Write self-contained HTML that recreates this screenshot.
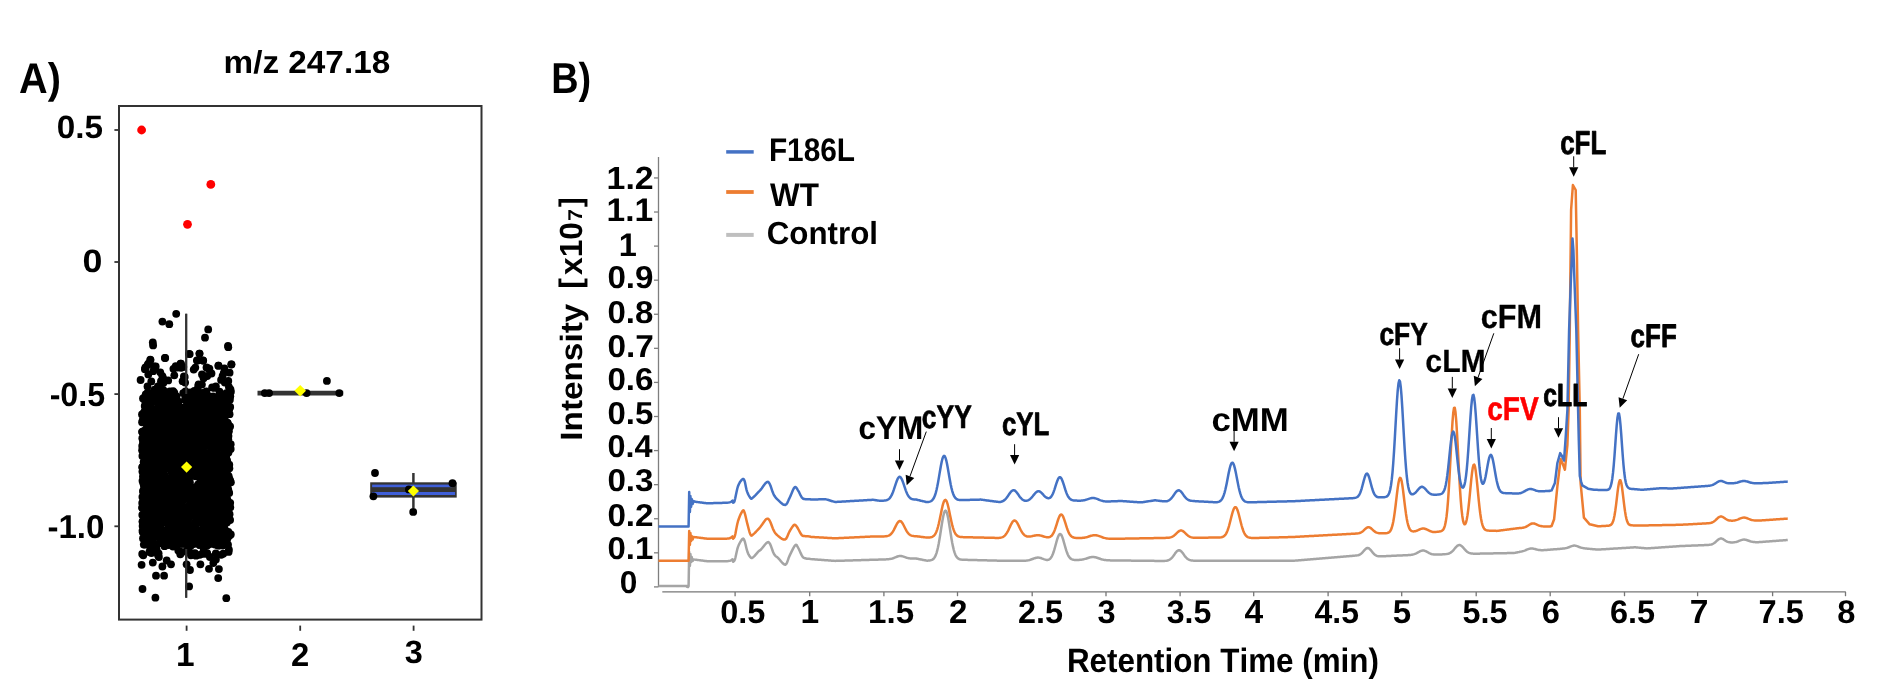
<!DOCTYPE html>
<html><head><meta charset="utf-8"><style>
html,body{margin:0;padding:0;background:#fff;width:1903px;height:694px;overflow:hidden}
svg{display:block;font-family:"Liberation Sans",sans-serif;font-weight:bold;font-kerning:none;-webkit-font-smoothing:antialiased;text-rendering:geometricPrecision;will-change:transform}
</style></head><body>
<svg width="1903" height="694" viewBox="0 0 1903 694">
<rect width="1903" height="694" fill="#fff"/>
<text x="0" y="0" transform="translate(19.01 92.50) scale(0.9284 1)" font-size="42.73" fill="#000">A)</text>
<text x="0" y="0" transform="translate(223.60 72.79) scale(1.0433 1)" font-size="31.92" fill="#000">m/z 247.18</text>
<rect x="119" y="106" width="362.5" height="513.6" fill="none" stroke="#333" stroke-width="2"/>
<line x1="114.4" y1="130.0" x2="119" y2="130.0" stroke="#333" stroke-width="1.8"/>
<line x1="114.4" y1="262.0" x2="119" y2="262.0" stroke="#333" stroke-width="1.8"/>
<line x1="114.4" y1="394.1" x2="119" y2="394.1" stroke="#333" stroke-width="1.8"/>
<line x1="114.4" y1="526.3" x2="119" y2="526.3" stroke="#333" stroke-width="1.8"/>
<line x1="186.6" y1="625.6" x2="186.6" y2="630.8" stroke="#333" stroke-width="1.8"/>
<line x1="300.2" y1="625.6" x2="300.2" y2="630.8" stroke="#333" stroke-width="1.8"/>
<line x1="413.6" y1="625.6" x2="413.6" y2="630.8" stroke="#333" stroke-width="1.8"/>
<text x="0" y="0" transform="translate(56.68 138.49) scale(1.0329 1)" font-size="32.20" fill="#000">0.5</text>
<text x="0" y="0" transform="translate(82.59 272.49) scale(1.1100 1)" font-size="32.20" fill="#000">0</text>
<text x="0" y="0" transform="translate(49.64 405.67) scale(0.9573 1)" font-size="33.62" fill="#000">-0.5</text>
<text x="0" y="0" transform="translate(47.41 537.88) scale(0.9999 1)" font-size="33.05" fill="#000">-1.0</text>
<text x="0" y="0" transform="translate(176.12 666.00) scale(1.0000 1)" font-size="33.43" fill="#000">1</text>
<text x="0" y="0" transform="translate(291.07 665.80) scale(1.0000 1)" font-size="32.80" fill="#000">2</text>
<text x="0" y="0" transform="translate(404.70 662.64) scale(1.0000 1)" font-size="32.42" fill="#000">3</text>
<circle cx="141.6" cy="130.0" r="4.4" fill="#FF0000"/>
<circle cx="210.8" cy="184.4" r="4.4" fill="#FF0000"/>
<circle cx="187.5" cy="224.3" r="4.4" fill="#FF0000"/>
<line x1="186.2" y1="313.8" x2="186.2" y2="597.7" stroke="#333" stroke-width="2"/>
<circle cx="176.2" cy="313.8" r="3.9" fill="#000"/>
<circle cx="162.4" cy="321.6" r="3.9" fill="#000"/>
<circle cx="169.3" cy="324.2" r="3.9" fill="#000"/>
<circle cx="208.2" cy="329.4" r="3.9" fill="#000"/>
<circle cx="205.0" cy="337.7" r="3.9" fill="#000"/>
<circle cx="152.8" cy="342.4" r="3.9" fill="#000"/>
<circle cx="228.0" cy="345.8" r="3.9" fill="#000"/>
<circle cx="164.9" cy="357.9" r="3.9" fill="#000"/>
<circle cx="189.1" cy="353.9" r="3.9" fill="#000"/>
<circle cx="199.5" cy="353.6" r="3.9" fill="#000"/>
<circle cx="150.3" cy="359.6" r="3.9" fill="#000"/>
<circle cx="196.9" cy="360.5" r="3.9" fill="#000"/>
<circle cx="203.0" cy="360.5" r="3.9" fill="#000"/>
<circle cx="231.5" cy="364.3" r="3.9" fill="#000"/>
<circle cx="218.5" cy="365.7" r="3.9" fill="#000"/>
<circle cx="180.5" cy="363.6" r="3.9" fill="#000"/>
<circle cx="147.7" cy="364.8" r="3.9" fill="#000"/>
<circle cx="153.1" cy="345.4" r="3.9" fill="#000"/>
<circle cx="228.3" cy="347.2" r="3.9" fill="#000"/>
<circle cx="165.2" cy="358.0" r="3.9" fill="#000"/>
<circle cx="189.7" cy="354.1" r="3.9" fill="#000"/>
<circle cx="199.5" cy="353.6" r="3.9" fill="#000"/>
<circle cx="150.5" cy="360.1" r="3.9" fill="#000"/>
<circle cx="197.6" cy="360.6" r="3.9" fill="#000"/>
<circle cx="203.2" cy="360.6" r="3.9" fill="#000"/>
<circle cx="181.0" cy="363.6" r="3.9" fill="#000"/>
<circle cx="231.3" cy="364.5" r="3.9" fill="#000"/>
<circle cx="218.4" cy="365.7" r="3.9" fill="#000"/>
<circle cx="148.3" cy="363.6" r="3.9" fill="#000"/>
<circle cx="173.4" cy="368.8" r="3.9" fill="#000"/>
<circle cx="177.7" cy="367.5" r="3.9" fill="#000"/>
<circle cx="193.7" cy="369.6" r="3.9" fill="#000"/>
<circle cx="208.0" cy="368.3" r="3.9" fill="#000"/>
<circle cx="224.4" cy="368.3" r="3.9" fill="#000"/>
<circle cx="144.9" cy="369.2" r="3.9" fill="#000"/>
<circle cx="229.6" cy="372.7" r="3.9" fill="#000"/>
<circle cx="174.3" cy="375.3" r="3.9" fill="#000"/>
<circle cx="184.7" cy="377.0" r="3.9" fill="#000"/>
<circle cx="163.0" cy="377.9" r="3.9" fill="#000"/>
<circle cx="140.6" cy="380.0" r="3.9" fill="#000"/>
<circle cx="168.2" cy="380.4" r="3.9" fill="#000"/>
<circle cx="228.3" cy="380.9" r="3.9" fill="#000"/>
<circle cx="202.0" cy="374.4" r="3.9" fill="#000"/>
<circle cx="211.5" cy="373.5" r="3.9" fill="#000"/>
<circle cx="230.5" cy="389.5" r="3.9" fill="#000"/>
<circle cx="147.5" cy="386.5" r="3.9" fill="#000"/>
<circle cx="157.9" cy="386.5" r="3.9" fill="#000"/>
<circle cx="142.5" cy="589.0" r="3.9" fill="#000"/>
<circle cx="155.4" cy="597.7" r="3.9" fill="#000"/>
<circle cx="226.3" cy="598.2" r="3.9" fill="#000"/>
<circle cx="189.1" cy="586.4" r="3.9" fill="#000"/>
<circle cx="156.0" cy="575.7" r="3.9" fill="#000"/>
<circle cx="164.1" cy="575.7" r="3.9" fill="#000"/>
<circle cx="218.2" cy="578.1" r="3.9" fill="#000"/>
<circle cx="218.9" cy="569.1" r="3.9" fill="#000"/>
<circle cx="190.0" cy="570.0" r="3.9" fill="#000"/>
<circle cx="200.4" cy="564.3" r="3.9" fill="#000"/>
<circle cx="209.0" cy="568.8" r="3.9" fill="#000"/>
<circle cx="141.6" cy="564.8" r="3.9" fill="#000"/>
<circle cx="152.8" cy="562.6" r="3.9" fill="#000"/>
<circle cx="162.4" cy="566.5" r="3.9" fill="#000"/>
<circle cx="171.0" cy="564.3" r="3.9" fill="#000"/>
<circle cx="186.6" cy="564.3" r="3.9" fill="#000"/>
<circle cx="181.4" cy="552.7" r="3.9" fill="#000"/>
<circle cx="213.3" cy="563.1" r="3.9" fill="#000"/>
<circle cx="143.3" cy="555.3" r="3.9" fill="#000"/>
<circle cx="149.4" cy="551.9" r="3.9" fill="#000"/>
<circle cx="158.9" cy="557.0" r="3.9" fill="#000"/>
<circle cx="166.7" cy="560.5" r="3.9" fill="#000"/>
<circle cx="190.9" cy="555.3" r="3.9" fill="#000"/>
<circle cx="209.9" cy="557.0" r="3.9" fill="#000"/>
<circle cx="215.9" cy="559.6" r="3.9" fill="#000"/>
<circle cx="170.8" cy="414.4" r="3.9" fill="#000"/>
<circle cx="199.9" cy="402.2" r="3.9" fill="#000"/>
<circle cx="189.7" cy="447.7" r="3.9" fill="#000"/>
<circle cx="147.2" cy="469.7" r="3.9" fill="#000"/>
<circle cx="145.3" cy="458.2" r="3.9" fill="#000"/>
<circle cx="148.2" cy="405.1" r="3.9" fill="#000"/>
<circle cx="179.8" cy="519.2" r="3.9" fill="#000"/>
<circle cx="153.0" cy="425.6" r="3.9" fill="#000"/>
<circle cx="197.8" cy="537.9" r="3.9" fill="#000"/>
<circle cx="193.4" cy="452.5" r="3.9" fill="#000"/>
<circle cx="228.9" cy="398.2" r="3.9" fill="#000"/>
<circle cx="218.4" cy="435.9" r="3.9" fill="#000"/>
<circle cx="154.8" cy="409.3" r="3.9" fill="#000"/>
<circle cx="169.5" cy="517.5" r="3.9" fill="#000"/>
<circle cx="158.1" cy="481.1" r="3.9" fill="#000"/>
<circle cx="198.9" cy="448.7" r="3.9" fill="#000"/>
<circle cx="190.7" cy="400.7" r="3.9" fill="#000"/>
<circle cx="147.3" cy="422.9" r="3.9" fill="#000"/>
<circle cx="202.6" cy="457.3" r="3.9" fill="#000"/>
<circle cx="170.0" cy="481.8" r="3.9" fill="#000"/>
<circle cx="182.3" cy="437.5" r="3.9" fill="#000"/>
<circle cx="212.7" cy="499.3" r="3.9" fill="#000"/>
<circle cx="163.7" cy="480.0" r="3.9" fill="#000"/>
<circle cx="188.7" cy="526.6" r="3.9" fill="#000"/>
<circle cx="206.9" cy="435.6" r="3.9" fill="#000"/>
<circle cx="229.2" cy="409.3" r="3.9" fill="#000"/>
<circle cx="179.2" cy="508.4" r="3.9" fill="#000"/>
<circle cx="155.5" cy="466.8" r="3.9" fill="#000"/>
<circle cx="145.5" cy="494.6" r="3.9" fill="#000"/>
<circle cx="210.0" cy="479.8" r="3.9" fill="#000"/>
<circle cx="219.9" cy="439.6" r="3.9" fill="#000"/>
<circle cx="203.9" cy="483.1" r="3.9" fill="#000"/>
<circle cx="193.6" cy="461.7" r="3.9" fill="#000"/>
<circle cx="216.8" cy="537.4" r="3.9" fill="#000"/>
<circle cx="184.2" cy="493.9" r="3.9" fill="#000"/>
<circle cx="147.4" cy="499.7" r="3.9" fill="#000"/>
<circle cx="199.6" cy="544.9" r="3.9" fill="#000"/>
<circle cx="215.2" cy="435.1" r="3.9" fill="#000"/>
<circle cx="176.3" cy="494.6" r="3.9" fill="#000"/>
<circle cx="144.0" cy="462.6" r="3.9" fill="#000"/>
<circle cx="157.0" cy="409.1" r="3.9" fill="#000"/>
<circle cx="147.2" cy="510.1" r="3.9" fill="#000"/>
<circle cx="153.5" cy="429.4" r="3.9" fill="#000"/>
<circle cx="176.8" cy="526.1" r="3.9" fill="#000"/>
<circle cx="149.2" cy="460.6" r="3.9" fill="#000"/>
<circle cx="190.9" cy="527.9" r="3.9" fill="#000"/>
<circle cx="214.9" cy="524.9" r="3.9" fill="#000"/>
<circle cx="166.8" cy="455.4" r="3.9" fill="#000"/>
<circle cx="173.9" cy="528.0" r="3.9" fill="#000"/>
<circle cx="227.2" cy="414.4" r="3.9" fill="#000"/>
<circle cx="157.7" cy="427.0" r="3.9" fill="#000"/>
<circle cx="162.8" cy="466.2" r="3.9" fill="#000"/>
<circle cx="194.4" cy="431.7" r="3.9" fill="#000"/>
<circle cx="142.4" cy="455.9" r="3.9" fill="#000"/>
<circle cx="174.9" cy="478.8" r="3.9" fill="#000"/>
<circle cx="226.8" cy="498.0" r="3.9" fill="#000"/>
<circle cx="187.9" cy="486.7" r="3.9" fill="#000"/>
<circle cx="202.2" cy="399.4" r="3.9" fill="#000"/>
<circle cx="222.1" cy="511.9" r="3.9" fill="#000"/>
<circle cx="219.8" cy="514.7" r="3.9" fill="#000"/>
<circle cx="176.9" cy="452.8" r="3.9" fill="#000"/>
<circle cx="151.2" cy="489.3" r="3.9" fill="#000"/>
<circle cx="147.5" cy="401.4" r="3.9" fill="#000"/>
<circle cx="160.6" cy="416.2" r="3.9" fill="#000"/>
<circle cx="172.3" cy="399.1" r="3.9" fill="#000"/>
<circle cx="142.0" cy="414.4" r="3.9" fill="#000"/>
<circle cx="151.0" cy="447.4" r="3.9" fill="#000"/>
<circle cx="144.3" cy="526.5" r="3.9" fill="#000"/>
<circle cx="196.7" cy="414.0" r="3.9" fill="#000"/>
<circle cx="164.5" cy="444.8" r="3.9" fill="#000"/>
<circle cx="174.4" cy="410.0" r="3.9" fill="#000"/>
<circle cx="217.6" cy="544.9" r="3.9" fill="#000"/>
<circle cx="183.5" cy="466.0" r="3.9" fill="#000"/>
<circle cx="149.6" cy="406.8" r="3.9" fill="#000"/>
<circle cx="172.5" cy="432.0" r="3.9" fill="#000"/>
<circle cx="215.8" cy="416.0" r="3.9" fill="#000"/>
<circle cx="144.1" cy="538.4" r="3.9" fill="#000"/>
<circle cx="189.0" cy="413.7" r="3.9" fill="#000"/>
<circle cx="190.3" cy="395.2" r="3.9" fill="#000"/>
<circle cx="189.0" cy="542.7" r="3.9" fill="#000"/>
<circle cx="218.8" cy="498.9" r="3.9" fill="#000"/>
<circle cx="165.2" cy="447.8" r="3.9" fill="#000"/>
<circle cx="156.9" cy="510.7" r="3.9" fill="#000"/>
<circle cx="189.4" cy="511.8" r="3.9" fill="#000"/>
<circle cx="171.3" cy="425.6" r="3.9" fill="#000"/>
<circle cx="214.2" cy="543.7" r="3.9" fill="#000"/>
<circle cx="217.9" cy="515.9" r="3.9" fill="#000"/>
<circle cx="214.8" cy="505.7" r="3.9" fill="#000"/>
<circle cx="162.2" cy="471.2" r="3.9" fill="#000"/>
<circle cx="173.6" cy="395.5" r="3.9" fill="#000"/>
<circle cx="144.5" cy="434.3" r="3.9" fill="#000"/>
<circle cx="165.1" cy="498.3" r="3.9" fill="#000"/>
<circle cx="227.1" cy="460.3" r="3.9" fill="#000"/>
<circle cx="225.4" cy="544.1" r="3.9" fill="#000"/>
<circle cx="227.0" cy="447.5" r="3.9" fill="#000"/>
<circle cx="161.6" cy="426.2" r="3.9" fill="#000"/>
<circle cx="159.5" cy="422.7" r="3.9" fill="#000"/>
<circle cx="197.5" cy="530.5" r="3.9" fill="#000"/>
<circle cx="216.8" cy="465.3" r="3.9" fill="#000"/>
<circle cx="200.1" cy="514.9" r="3.9" fill="#000"/>
<circle cx="149.5" cy="493.4" r="3.9" fill="#000"/>
<circle cx="223.0" cy="512.3" r="3.9" fill="#000"/>
<circle cx="208.8" cy="465.1" r="3.9" fill="#000"/>
<circle cx="157.9" cy="513.3" r="3.9" fill="#000"/>
<circle cx="171.6" cy="515.1" r="3.9" fill="#000"/>
<circle cx="228.5" cy="452.4" r="3.9" fill="#000"/>
<circle cx="177.7" cy="537.8" r="3.9" fill="#000"/>
<circle cx="206.5" cy="417.4" r="3.9" fill="#000"/>
<circle cx="153.3" cy="414.4" r="3.9" fill="#000"/>
<circle cx="222.5" cy="516.0" r="3.9" fill="#000"/>
<circle cx="155.0" cy="519.1" r="3.9" fill="#000"/>
<circle cx="229.2" cy="492.9" r="3.9" fill="#000"/>
<circle cx="173.2" cy="476.0" r="3.9" fill="#000"/>
<circle cx="153.7" cy="393.2" r="3.9" fill="#000"/>
<circle cx="228.4" cy="491.7" r="3.9" fill="#000"/>
<circle cx="188.9" cy="535.7" r="3.9" fill="#000"/>
<circle cx="180.6" cy="526.1" r="3.9" fill="#000"/>
<circle cx="215.5" cy="423.7" r="3.9" fill="#000"/>
<circle cx="164.4" cy="436.4" r="3.9" fill="#000"/>
<circle cx="163.4" cy="481.9" r="3.9" fill="#000"/>
<circle cx="165.1" cy="455.9" r="3.9" fill="#000"/>
<circle cx="153.7" cy="532.1" r="3.9" fill="#000"/>
<circle cx="173.5" cy="462.0" r="3.9" fill="#000"/>
<circle cx="193.9" cy="531.2" r="3.9" fill="#000"/>
<circle cx="179.4" cy="533.2" r="3.9" fill="#000"/>
<circle cx="186.6" cy="473.4" r="3.9" fill="#000"/>
<circle cx="188.6" cy="393.9" r="3.9" fill="#000"/>
<circle cx="181.2" cy="419.4" r="3.9" fill="#000"/>
<circle cx="142.3" cy="514.9" r="3.9" fill="#000"/>
<circle cx="157.3" cy="464.4" r="3.9" fill="#000"/>
<circle cx="206.5" cy="477.3" r="3.9" fill="#000"/>
<circle cx="171.0" cy="471.3" r="3.9" fill="#000"/>
<circle cx="191.4" cy="512.6" r="3.9" fill="#000"/>
<circle cx="151.4" cy="477.8" r="3.9" fill="#000"/>
<circle cx="164.1" cy="433.9" r="3.9" fill="#000"/>
<circle cx="210.7" cy="469.7" r="3.9" fill="#000"/>
<circle cx="192.0" cy="508.8" r="3.9" fill="#000"/>
<circle cx="223.2" cy="459.7" r="3.9" fill="#000"/>
<circle cx="196.5" cy="469.4" r="3.9" fill="#000"/>
<circle cx="187.6" cy="498.4" r="3.9" fill="#000"/>
<circle cx="182.3" cy="473.7" r="3.9" fill="#000"/>
<circle cx="184.5" cy="536.9" r="3.9" fill="#000"/>
<circle cx="204.2" cy="526.9" r="3.9" fill="#000"/>
<circle cx="225.9" cy="431.2" r="3.9" fill="#000"/>
<circle cx="191.8" cy="537.2" r="3.9" fill="#000"/>
<circle cx="216.8" cy="412.3" r="3.9" fill="#000"/>
<circle cx="152.8" cy="459.5" r="3.9" fill="#000"/>
<circle cx="148.5" cy="428.3" r="3.9" fill="#000"/>
<circle cx="148.5" cy="494.8" r="3.9" fill="#000"/>
<circle cx="211.8" cy="530.0" r="3.9" fill="#000"/>
<circle cx="155.7" cy="502.0" r="3.9" fill="#000"/>
<circle cx="200.8" cy="413.2" r="3.9" fill="#000"/>
<circle cx="220.6" cy="541.0" r="3.9" fill="#000"/>
<circle cx="161.5" cy="538.6" r="3.9" fill="#000"/>
<circle cx="177.4" cy="466.5" r="3.9" fill="#000"/>
<circle cx="230.1" cy="520.0" r="3.9" fill="#000"/>
<circle cx="156.4" cy="457.9" r="3.9" fill="#000"/>
<circle cx="187.9" cy="443.6" r="3.9" fill="#000"/>
<circle cx="159.4" cy="440.4" r="3.9" fill="#000"/>
<circle cx="206.3" cy="394.0" r="3.9" fill="#000"/>
<circle cx="191.3" cy="459.3" r="3.9" fill="#000"/>
<circle cx="143.6" cy="442.4" r="3.9" fill="#000"/>
<circle cx="197.5" cy="470.4" r="3.9" fill="#000"/>
<circle cx="147.7" cy="543.7" r="3.9" fill="#000"/>
<circle cx="212.2" cy="541.6" r="3.9" fill="#000"/>
<circle cx="151.3" cy="432.2" r="3.9" fill="#000"/>
<circle cx="145.5" cy="511.7" r="3.9" fill="#000"/>
<circle cx="166.1" cy="411.1" r="3.9" fill="#000"/>
<circle cx="179.6" cy="532.3" r="3.9" fill="#000"/>
<circle cx="214.9" cy="431.1" r="3.9" fill="#000"/>
<circle cx="155.3" cy="533.5" r="3.9" fill="#000"/>
<circle cx="192.8" cy="499.6" r="3.9" fill="#000"/>
<circle cx="150.0" cy="399.9" r="3.9" fill="#000"/>
<circle cx="203.3" cy="456.9" r="3.9" fill="#000"/>
<circle cx="148.4" cy="536.4" r="3.9" fill="#000"/>
<circle cx="198.5" cy="515.3" r="3.9" fill="#000"/>
<circle cx="149.5" cy="523.7" r="3.9" fill="#000"/>
<circle cx="147.9" cy="524.7" r="3.9" fill="#000"/>
<circle cx="182.4" cy="443.6" r="3.9" fill="#000"/>
<circle cx="191.2" cy="534.6" r="3.9" fill="#000"/>
<circle cx="165.8" cy="411.0" r="3.9" fill="#000"/>
<circle cx="188.9" cy="428.0" r="3.9" fill="#000"/>
<circle cx="151.7" cy="416.0" r="3.9" fill="#000"/>
<circle cx="146.5" cy="422.3" r="3.9" fill="#000"/>
<circle cx="169.8" cy="438.3" r="3.9" fill="#000"/>
<circle cx="209.6" cy="435.9" r="3.9" fill="#000"/>
<circle cx="186.5" cy="418.6" r="3.9" fill="#000"/>
<circle cx="172.9" cy="393.8" r="3.9" fill="#000"/>
<circle cx="164.3" cy="393.4" r="3.9" fill="#000"/>
<circle cx="207.2" cy="476.4" r="3.9" fill="#000"/>
<circle cx="158.9" cy="464.6" r="3.9" fill="#000"/>
<circle cx="225.2" cy="407.5" r="3.9" fill="#000"/>
<circle cx="214.9" cy="458.0" r="3.9" fill="#000"/>
<circle cx="186.1" cy="520.4" r="3.9" fill="#000"/>
<circle cx="177.0" cy="469.5" r="3.9" fill="#000"/>
<circle cx="203.2" cy="543.3" r="3.9" fill="#000"/>
<circle cx="172.5" cy="520.0" r="3.9" fill="#000"/>
<circle cx="204.9" cy="489.6" r="3.9" fill="#000"/>
<circle cx="178.0" cy="444.9" r="3.9" fill="#000"/>
<circle cx="146.8" cy="411.1" r="3.9" fill="#000"/>
<circle cx="148.3" cy="505.8" r="3.9" fill="#000"/>
<circle cx="164.7" cy="416.3" r="3.9" fill="#000"/>
<circle cx="149.5" cy="521.4" r="3.9" fill="#000"/>
<circle cx="219.5" cy="494.9" r="3.9" fill="#000"/>
<circle cx="167.1" cy="428.5" r="3.9" fill="#000"/>
<circle cx="168.1" cy="462.2" r="3.9" fill="#000"/>
<circle cx="156.0" cy="460.1" r="3.9" fill="#000"/>
<circle cx="165.4" cy="540.1" r="3.9" fill="#000"/>
<circle cx="228.6" cy="475.8" r="3.9" fill="#000"/>
<circle cx="163.8" cy="540.7" r="3.9" fill="#000"/>
<circle cx="169.5" cy="446.3" r="3.9" fill="#000"/>
<circle cx="142.1" cy="450.2" r="3.9" fill="#000"/>
<circle cx="184.2" cy="468.9" r="3.9" fill="#000"/>
<circle cx="159.9" cy="469.2" r="3.9" fill="#000"/>
<circle cx="142.4" cy="431.9" r="3.9" fill="#000"/>
<circle cx="150.0" cy="452.9" r="3.9" fill="#000"/>
<circle cx="145.7" cy="394.5" r="3.9" fill="#000"/>
<circle cx="169.1" cy="427.1" r="3.9" fill="#000"/>
<circle cx="194.1" cy="473.0" r="3.9" fill="#000"/>
<circle cx="208.8" cy="492.9" r="3.9" fill="#000"/>
<circle cx="205.7" cy="527.3" r="3.9" fill="#000"/>
<circle cx="176.7" cy="441.6" r="3.9" fill="#000"/>
<circle cx="229.6" cy="414.2" r="3.9" fill="#000"/>
<circle cx="206.4" cy="490.7" r="3.9" fill="#000"/>
<circle cx="145.9" cy="520.5" r="3.9" fill="#000"/>
<circle cx="221.4" cy="488.2" r="3.9" fill="#000"/>
<circle cx="207.3" cy="516.9" r="3.9" fill="#000"/>
<circle cx="154.4" cy="472.2" r="3.9" fill="#000"/>
<circle cx="186.9" cy="520.4" r="3.9" fill="#000"/>
<circle cx="213.6" cy="519.1" r="3.9" fill="#000"/>
<circle cx="194.0" cy="529.4" r="3.9" fill="#000"/>
<circle cx="202.8" cy="498.5" r="3.9" fill="#000"/>
<circle cx="162.5" cy="395.8" r="3.9" fill="#000"/>
<circle cx="153.8" cy="446.9" r="3.9" fill="#000"/>
<circle cx="151.3" cy="520.6" r="3.9" fill="#000"/>
<circle cx="191.7" cy="488.3" r="3.9" fill="#000"/>
<circle cx="197.7" cy="496.5" r="3.9" fill="#000"/>
<circle cx="185.5" cy="391.5" r="3.9" fill="#000"/>
<circle cx="213.0" cy="507.0" r="3.9" fill="#000"/>
<circle cx="186.8" cy="474.0" r="3.9" fill="#000"/>
<circle cx="200.7" cy="401.2" r="3.9" fill="#000"/>
<circle cx="207.6" cy="430.1" r="3.9" fill="#000"/>
<circle cx="148.6" cy="432.2" r="3.9" fill="#000"/>
<circle cx="206.9" cy="422.8" r="3.9" fill="#000"/>
<circle cx="207.8" cy="542.2" r="3.9" fill="#000"/>
<circle cx="186.0" cy="450.3" r="3.9" fill="#000"/>
<circle cx="184.6" cy="497.0" r="3.9" fill="#000"/>
<circle cx="210.3" cy="486.6" r="3.9" fill="#000"/>
<circle cx="199.2" cy="403.0" r="3.9" fill="#000"/>
<circle cx="155.1" cy="430.4" r="3.9" fill="#000"/>
<circle cx="208.1" cy="438.2" r="3.9" fill="#000"/>
<circle cx="192.5" cy="392.9" r="3.9" fill="#000"/>
<circle cx="147.4" cy="432.7" r="3.9" fill="#000"/>
<circle cx="201.8" cy="498.3" r="3.9" fill="#000"/>
<circle cx="202.1" cy="436.1" r="3.9" fill="#000"/>
<circle cx="188.0" cy="463.0" r="3.9" fill="#000"/>
<circle cx="183.5" cy="409.4" r="3.9" fill="#000"/>
<circle cx="221.5" cy="421.9" r="3.9" fill="#000"/>
<circle cx="229.1" cy="536.1" r="3.9" fill="#000"/>
<circle cx="143.6" cy="462.1" r="3.9" fill="#000"/>
<circle cx="215.0" cy="541.1" r="3.9" fill="#000"/>
<circle cx="182.0" cy="432.6" r="3.9" fill="#000"/>
<circle cx="160.7" cy="537.6" r="3.9" fill="#000"/>
<circle cx="160.8" cy="481.1" r="3.9" fill="#000"/>
<circle cx="154.6" cy="472.2" r="3.9" fill="#000"/>
<circle cx="226.8" cy="411.6" r="3.9" fill="#000"/>
<circle cx="215.0" cy="469.9" r="3.9" fill="#000"/>
<circle cx="220.9" cy="500.0" r="3.9" fill="#000"/>
<circle cx="162.6" cy="530.1" r="3.9" fill="#000"/>
<circle cx="185.3" cy="394.8" r="3.9" fill="#000"/>
<circle cx="142.3" cy="467.2" r="3.9" fill="#000"/>
<circle cx="182.1" cy="437.8" r="3.9" fill="#000"/>
<circle cx="154.5" cy="444.3" r="3.9" fill="#000"/>
<circle cx="170.1" cy="521.2" r="3.9" fill="#000"/>
<circle cx="142.2" cy="507.4" r="3.9" fill="#000"/>
<circle cx="216.7" cy="409.6" r="3.9" fill="#000"/>
<circle cx="224.4" cy="501.5" r="3.9" fill="#000"/>
<circle cx="222.2" cy="435.9" r="3.9" fill="#000"/>
<circle cx="175.1" cy="451.9" r="3.9" fill="#000"/>
<circle cx="230.9" cy="482.3" r="3.9" fill="#000"/>
<circle cx="174.1" cy="457.3" r="3.9" fill="#000"/>
<circle cx="166.5" cy="398.5" r="3.9" fill="#000"/>
<circle cx="151.1" cy="520.4" r="3.9" fill="#000"/>
<circle cx="167.4" cy="536.0" r="3.9" fill="#000"/>
<circle cx="164.2" cy="432.2" r="3.9" fill="#000"/>
<circle cx="187.5" cy="420.4" r="3.9" fill="#000"/>
<circle cx="175.2" cy="539.2" r="3.9" fill="#000"/>
<circle cx="220.7" cy="516.9" r="3.9" fill="#000"/>
<circle cx="198.1" cy="532.6" r="3.9" fill="#000"/>
<circle cx="225.7" cy="476.1" r="3.9" fill="#000"/>
<circle cx="206.0" cy="398.7" r="3.9" fill="#000"/>
<circle cx="207.2" cy="460.9" r="3.9" fill="#000"/>
<circle cx="209.0" cy="490.9" r="3.9" fill="#000"/>
<circle cx="167.5" cy="398.6" r="3.9" fill="#000"/>
<circle cx="224.5" cy="410.7" r="3.9" fill="#000"/>
<circle cx="184.0" cy="444.3" r="3.9" fill="#000"/>
<circle cx="168.5" cy="505.6" r="3.9" fill="#000"/>
<circle cx="228.9" cy="431.3" r="3.9" fill="#000"/>
<circle cx="200.4" cy="437.6" r="3.9" fill="#000"/>
<circle cx="191.6" cy="452.1" r="3.9" fill="#000"/>
<circle cx="156.9" cy="416.1" r="3.9" fill="#000"/>
<circle cx="160.5" cy="531.4" r="3.9" fill="#000"/>
<circle cx="186.2" cy="425.1" r="3.9" fill="#000"/>
<circle cx="222.7" cy="545.5" r="3.9" fill="#000"/>
<circle cx="182.0" cy="412.6" r="3.9" fill="#000"/>
<circle cx="159.1" cy="405.1" r="3.9" fill="#000"/>
<circle cx="172.4" cy="405.1" r="3.9" fill="#000"/>
<circle cx="163.3" cy="431.0" r="3.9" fill="#000"/>
<circle cx="192.7" cy="528.5" r="3.9" fill="#000"/>
<circle cx="208.7" cy="455.0" r="3.9" fill="#000"/>
<circle cx="178.8" cy="472.2" r="3.9" fill="#000"/>
<circle cx="175.5" cy="443.4" r="3.9" fill="#000"/>
<circle cx="147.5" cy="434.0" r="3.9" fill="#000"/>
<circle cx="228.1" cy="410.5" r="3.9" fill="#000"/>
<circle cx="186.8" cy="488.6" r="3.9" fill="#000"/>
<circle cx="218.8" cy="424.5" r="3.9" fill="#000"/>
<circle cx="166.1" cy="429.5" r="3.9" fill="#000"/>
<circle cx="177.6" cy="460.1" r="3.9" fill="#000"/>
<circle cx="226.9" cy="522.5" r="3.9" fill="#000"/>
<circle cx="219.7" cy="394.4" r="3.9" fill="#000"/>
<circle cx="144.9" cy="501.0" r="3.9" fill="#000"/>
<circle cx="221.7" cy="464.4" r="3.9" fill="#000"/>
<circle cx="194.3" cy="391.0" r="3.9" fill="#000"/>
<circle cx="176.8" cy="534.7" r="3.9" fill="#000"/>
<circle cx="215.5" cy="523.6" r="3.9" fill="#000"/>
<circle cx="228.5" cy="429.5" r="3.9" fill="#000"/>
<circle cx="151.7" cy="414.9" r="3.9" fill="#000"/>
<circle cx="188.5" cy="496.7" r="3.9" fill="#000"/>
<circle cx="225.8" cy="502.9" r="3.9" fill="#000"/>
<circle cx="199.6" cy="509.5" r="3.9" fill="#000"/>
<circle cx="182.7" cy="476.5" r="3.9" fill="#000"/>
<circle cx="145.5" cy="512.3" r="3.9" fill="#000"/>
<circle cx="162.7" cy="533.6" r="3.9" fill="#000"/>
<circle cx="199.5" cy="438.1" r="3.9" fill="#000"/>
<circle cx="153.4" cy="430.0" r="3.9" fill="#000"/>
<circle cx="198.6" cy="499.3" r="3.9" fill="#000"/>
<circle cx="152.0" cy="401.9" r="3.9" fill="#000"/>
<circle cx="188.7" cy="481.3" r="3.9" fill="#000"/>
<circle cx="176.5" cy="425.7" r="3.9" fill="#000"/>
<circle cx="195.5" cy="392.6" r="3.9" fill="#000"/>
<circle cx="168.8" cy="462.4" r="3.9" fill="#000"/>
<circle cx="227.3" cy="490.9" r="3.9" fill="#000"/>
<circle cx="220.7" cy="464.7" r="3.9" fill="#000"/>
<circle cx="162.9" cy="429.3" r="3.9" fill="#000"/>
<circle cx="227.5" cy="500.2" r="3.9" fill="#000"/>
<circle cx="169.4" cy="394.4" r="3.9" fill="#000"/>
<circle cx="186.3" cy="495.5" r="3.9" fill="#000"/>
<circle cx="179.4" cy="430.9" r="3.9" fill="#000"/>
<circle cx="201.4" cy="534.4" r="3.9" fill="#000"/>
<circle cx="162.2" cy="396.3" r="3.9" fill="#000"/>
<circle cx="172.1" cy="456.2" r="3.9" fill="#000"/>
<circle cx="202.7" cy="421.7" r="3.9" fill="#000"/>
<circle cx="212.9" cy="505.6" r="3.9" fill="#000"/>
<circle cx="186.9" cy="422.8" r="3.9" fill="#000"/>
<circle cx="228.3" cy="439.3" r="3.9" fill="#000"/>
<circle cx="215.0" cy="426.8" r="3.9" fill="#000"/>
<circle cx="161.7" cy="508.9" r="3.9" fill="#000"/>
<circle cx="168.2" cy="538.5" r="3.9" fill="#000"/>
<circle cx="186.1" cy="420.0" r="3.9" fill="#000"/>
<circle cx="161.9" cy="455.6" r="3.9" fill="#000"/>
<circle cx="201.2" cy="538.1" r="3.9" fill="#000"/>
<circle cx="155.0" cy="452.0" r="3.9" fill="#000"/>
<circle cx="161.0" cy="542.0" r="3.9" fill="#000"/>
<circle cx="154.6" cy="399.0" r="3.9" fill="#000"/>
<circle cx="147.4" cy="452.0" r="3.9" fill="#000"/>
<circle cx="221.9" cy="528.0" r="3.9" fill="#000"/>
<circle cx="207.2" cy="545.6" r="3.9" fill="#000"/>
<circle cx="224.9" cy="442.0" r="3.9" fill="#000"/>
<circle cx="158.5" cy="536.1" r="3.9" fill="#000"/>
<circle cx="208.4" cy="395.9" r="3.9" fill="#000"/>
<circle cx="201.1" cy="449.7" r="3.9" fill="#000"/>
<circle cx="175.3" cy="442.4" r="3.9" fill="#000"/>
<circle cx="157.1" cy="391.4" r="3.9" fill="#000"/>
<circle cx="166.9" cy="445.5" r="3.9" fill="#000"/>
<circle cx="227.0" cy="410.2" r="3.9" fill="#000"/>
<circle cx="227.8" cy="423.1" r="3.9" fill="#000"/>
<circle cx="173.7" cy="518.3" r="3.9" fill="#000"/>
<circle cx="215.2" cy="458.0" r="3.9" fill="#000"/>
<circle cx="146.4" cy="464.4" r="3.9" fill="#000"/>
<circle cx="175.2" cy="533.5" r="3.9" fill="#000"/>
<circle cx="159.2" cy="447.5" r="3.9" fill="#000"/>
<circle cx="221.8" cy="395.7" r="3.9" fill="#000"/>
<circle cx="178.6" cy="516.8" r="3.9" fill="#000"/>
<circle cx="210.2" cy="397.3" r="3.9" fill="#000"/>
<circle cx="145.1" cy="400.7" r="3.9" fill="#000"/>
<circle cx="223.9" cy="430.8" r="3.9" fill="#000"/>
<circle cx="208.5" cy="530.3" r="3.9" fill="#000"/>
<circle cx="172.2" cy="433.2" r="3.9" fill="#000"/>
<circle cx="227.2" cy="486.6" r="3.9" fill="#000"/>
<circle cx="165.3" cy="502.1" r="3.9" fill="#000"/>
<circle cx="170.2" cy="433.7" r="3.9" fill="#000"/>
<circle cx="142.3" cy="508.1" r="3.9" fill="#000"/>
<circle cx="223.6" cy="489.3" r="3.9" fill="#000"/>
<circle cx="225.9" cy="394.8" r="3.9" fill="#000"/>
<circle cx="162.8" cy="464.7" r="3.9" fill="#000"/>
<circle cx="227.2" cy="538.9" r="3.9" fill="#000"/>
<circle cx="176.4" cy="429.9" r="3.9" fill="#000"/>
<circle cx="180.3" cy="467.5" r="3.9" fill="#000"/>
<circle cx="224.6" cy="419.4" r="3.9" fill="#000"/>
<circle cx="213.4" cy="505.5" r="3.9" fill="#000"/>
<circle cx="215.2" cy="510.8" r="3.9" fill="#000"/>
<circle cx="196.0" cy="441.8" r="3.9" fill="#000"/>
<circle cx="170.4" cy="447.1" r="3.9" fill="#000"/>
<circle cx="211.6" cy="403.2" r="3.9" fill="#000"/>
<circle cx="159.6" cy="507.7" r="3.9" fill="#000"/>
<circle cx="164.0" cy="401.0" r="3.9" fill="#000"/>
<circle cx="145.0" cy="476.7" r="3.9" fill="#000"/>
<circle cx="171.0" cy="542.9" r="3.9" fill="#000"/>
<circle cx="220.6" cy="544.1" r="3.9" fill="#000"/>
<circle cx="165.6" cy="404.0" r="3.9" fill="#000"/>
<circle cx="150.6" cy="468.3" r="3.9" fill="#000"/>
<circle cx="205.2" cy="460.3" r="3.9" fill="#000"/>
<circle cx="162.8" cy="455.6" r="3.9" fill="#000"/>
<circle cx="197.2" cy="495.5" r="3.9" fill="#000"/>
<circle cx="208.6" cy="522.3" r="3.9" fill="#000"/>
<circle cx="201.1" cy="409.8" r="3.9" fill="#000"/>
<circle cx="216.8" cy="436.5" r="3.9" fill="#000"/>
<circle cx="192.5" cy="448.8" r="3.9" fill="#000"/>
<circle cx="207.7" cy="421.9" r="3.9" fill="#000"/>
<circle cx="164.0" cy="429.0" r="3.9" fill="#000"/>
<circle cx="155.6" cy="528.0" r="3.9" fill="#000"/>
<circle cx="193.5" cy="441.6" r="3.9" fill="#000"/>
<circle cx="177.3" cy="544.8" r="3.9" fill="#000"/>
<circle cx="187.2" cy="426.9" r="3.9" fill="#000"/>
<circle cx="214.0" cy="492.3" r="3.9" fill="#000"/>
<circle cx="230.2" cy="406.9" r="3.9" fill="#000"/>
<circle cx="184.3" cy="518.0" r="3.9" fill="#000"/>
<circle cx="216.8" cy="532.7" r="3.9" fill="#000"/>
<circle cx="145.6" cy="436.5" r="3.9" fill="#000"/>
<circle cx="152.6" cy="420.4" r="3.9" fill="#000"/>
<circle cx="228.6" cy="481.4" r="3.9" fill="#000"/>
<circle cx="224.8" cy="448.7" r="3.9" fill="#000"/>
<circle cx="219.1" cy="460.6" r="3.9" fill="#000"/>
<circle cx="165.1" cy="511.6" r="3.9" fill="#000"/>
<circle cx="226.2" cy="407.4" r="3.9" fill="#000"/>
<circle cx="195.1" cy="487.1" r="3.9" fill="#000"/>
<circle cx="161.4" cy="448.1" r="3.9" fill="#000"/>
<circle cx="154.6" cy="422.6" r="3.9" fill="#000"/>
<circle cx="164.7" cy="483.9" r="3.9" fill="#000"/>
<circle cx="200.0" cy="422.5" r="3.9" fill="#000"/>
<circle cx="143.0" cy="441.7" r="3.9" fill="#000"/>
<circle cx="202.4" cy="419.7" r="3.9" fill="#000"/>
<circle cx="169.8" cy="422.5" r="3.9" fill="#000"/>
<circle cx="212.8" cy="475.9" r="3.9" fill="#000"/>
<circle cx="147.6" cy="406.7" r="3.9" fill="#000"/>
<circle cx="177.2" cy="476.3" r="3.9" fill="#000"/>
<circle cx="198.9" cy="405.1" r="3.9" fill="#000"/>
<circle cx="156.6" cy="498.8" r="3.9" fill="#000"/>
<circle cx="178.5" cy="434.9" r="3.9" fill="#000"/>
<circle cx="169.4" cy="538.7" r="3.9" fill="#000"/>
<circle cx="169.8" cy="478.8" r="3.9" fill="#000"/>
<circle cx="173.8" cy="455.5" r="3.9" fill="#000"/>
<circle cx="218.9" cy="545.5" r="3.9" fill="#000"/>
<circle cx="174.4" cy="421.6" r="3.9" fill="#000"/>
<circle cx="206.8" cy="422.6" r="3.9" fill="#000"/>
<circle cx="142.5" cy="530.8" r="3.9" fill="#000"/>
<circle cx="179.7" cy="518.2" r="3.9" fill="#000"/>
<circle cx="178.2" cy="527.8" r="3.9" fill="#000"/>
<circle cx="183.0" cy="416.2" r="3.9" fill="#000"/>
<circle cx="143.3" cy="476.5" r="3.9" fill="#000"/>
<circle cx="199.0" cy="532.0" r="3.9" fill="#000"/>
<circle cx="149.9" cy="487.4" r="3.9" fill="#000"/>
<circle cx="175.0" cy="469.2" r="3.9" fill="#000"/>
<circle cx="155.0" cy="434.9" r="3.9" fill="#000"/>
<circle cx="188.4" cy="534.5" r="3.9" fill="#000"/>
<circle cx="151.7" cy="467.0" r="3.9" fill="#000"/>
<circle cx="213.6" cy="540.9" r="3.9" fill="#000"/>
<circle cx="159.6" cy="410.6" r="3.9" fill="#000"/>
<circle cx="225.9" cy="542.2" r="3.9" fill="#000"/>
<circle cx="185.0" cy="399.3" r="3.9" fill="#000"/>
<circle cx="224.4" cy="451.1" r="3.9" fill="#000"/>
<circle cx="222.5" cy="487.2" r="3.9" fill="#000"/>
<circle cx="215.4" cy="415.8" r="3.9" fill="#000"/>
<circle cx="211.9" cy="425.4" r="3.9" fill="#000"/>
<circle cx="178.0" cy="522.2" r="3.9" fill="#000"/>
<circle cx="215.8" cy="419.4" r="3.9" fill="#000"/>
<circle cx="161.4" cy="453.0" r="3.9" fill="#000"/>
<circle cx="188.1" cy="450.5" r="3.9" fill="#000"/>
<circle cx="153.0" cy="429.3" r="3.9" fill="#000"/>
<circle cx="206.5" cy="530.1" r="3.9" fill="#000"/>
<circle cx="145.7" cy="478.2" r="3.9" fill="#000"/>
<circle cx="209.4" cy="396.9" r="3.9" fill="#000"/>
<circle cx="216.6" cy="409.2" r="3.9" fill="#000"/>
<circle cx="195.4" cy="476.3" r="3.9" fill="#000"/>
<circle cx="197.8" cy="438.5" r="3.9" fill="#000"/>
<circle cx="179.4" cy="481.3" r="3.9" fill="#000"/>
<circle cx="179.9" cy="493.1" r="3.9" fill="#000"/>
<circle cx="181.8" cy="458.9" r="3.9" fill="#000"/>
<circle cx="144.1" cy="486.9" r="3.9" fill="#000"/>
<circle cx="185.6" cy="427.5" r="3.9" fill="#000"/>
<circle cx="210.0" cy="511.9" r="3.9" fill="#000"/>
<circle cx="182.8" cy="418.8" r="3.9" fill="#000"/>
<circle cx="184.1" cy="407.6" r="3.9" fill="#000"/>
<circle cx="153.4" cy="457.7" r="3.9" fill="#000"/>
<circle cx="150.2" cy="459.5" r="3.9" fill="#000"/>
<circle cx="187.4" cy="397.3" r="3.9" fill="#000"/>
<circle cx="198.6" cy="403.7" r="3.9" fill="#000"/>
<circle cx="207.3" cy="511.5" r="3.9" fill="#000"/>
<circle cx="187.5" cy="399.4" r="3.9" fill="#000"/>
<circle cx="186.8" cy="449.6" r="3.9" fill="#000"/>
<circle cx="226.6" cy="412.1" r="3.9" fill="#000"/>
<circle cx="218.3" cy="545.4" r="3.9" fill="#000"/>
<circle cx="207.2" cy="517.3" r="3.9" fill="#000"/>
<circle cx="159.2" cy="543.2" r="3.9" fill="#000"/>
<circle cx="185.8" cy="539.3" r="3.9" fill="#000"/>
<circle cx="223.5" cy="416.6" r="3.9" fill="#000"/>
<circle cx="212.2" cy="535.2" r="3.9" fill="#000"/>
<circle cx="147.8" cy="445.4" r="3.9" fill="#000"/>
<circle cx="209.3" cy="415.6" r="3.9" fill="#000"/>
<circle cx="221.8" cy="433.6" r="3.9" fill="#000"/>
<circle cx="214.6" cy="413.3" r="3.9" fill="#000"/>
<circle cx="186.7" cy="533.6" r="3.9" fill="#000"/>
<circle cx="160.5" cy="431.7" r="3.9" fill="#000"/>
<circle cx="187.0" cy="440.5" r="3.9" fill="#000"/>
<circle cx="145.3" cy="419.2" r="3.9" fill="#000"/>
<circle cx="156.3" cy="536.1" r="3.9" fill="#000"/>
<circle cx="202.5" cy="529.8" r="3.9" fill="#000"/>
<circle cx="157.0" cy="512.7" r="3.9" fill="#000"/>
<circle cx="152.2" cy="473.3" r="3.9" fill="#000"/>
<circle cx="198.6" cy="446.8" r="3.9" fill="#000"/>
<circle cx="219.7" cy="477.1" r="3.9" fill="#000"/>
<circle cx="193.6" cy="527.8" r="3.9" fill="#000"/>
<circle cx="151.3" cy="544.9" r="3.9" fill="#000"/>
<circle cx="198.1" cy="452.1" r="3.9" fill="#000"/>
<circle cx="213.0" cy="432.0" r="3.9" fill="#000"/>
<circle cx="230.2" cy="480.5" r="3.9" fill="#000"/>
<circle cx="174.1" cy="509.5" r="3.9" fill="#000"/>
<circle cx="181.4" cy="418.4" r="3.9" fill="#000"/>
<circle cx="208.2" cy="398.5" r="3.9" fill="#000"/>
<circle cx="215.0" cy="430.3" r="3.9" fill="#000"/>
<circle cx="198.9" cy="543.5" r="3.9" fill="#000"/>
<circle cx="194.1" cy="493.9" r="3.9" fill="#000"/>
<circle cx="169.8" cy="391.3" r="3.9" fill="#000"/>
<circle cx="145.0" cy="414.2" r="3.9" fill="#000"/>
<circle cx="196.8" cy="458.0" r="3.9" fill="#000"/>
<circle cx="187.6" cy="529.8" r="3.9" fill="#000"/>
<circle cx="153.8" cy="426.2" r="3.9" fill="#000"/>
<circle cx="200.1" cy="394.5" r="3.9" fill="#000"/>
<circle cx="142.2" cy="446.0" r="3.9" fill="#000"/>
<circle cx="151.5" cy="446.4" r="3.9" fill="#000"/>
<circle cx="162.0" cy="481.5" r="3.9" fill="#000"/>
<circle cx="194.4" cy="422.6" r="3.9" fill="#000"/>
<circle cx="197.5" cy="464.6" r="3.9" fill="#000"/>
<circle cx="154.0" cy="536.2" r="3.9" fill="#000"/>
<circle cx="163.7" cy="414.1" r="3.9" fill="#000"/>
<circle cx="150.5" cy="489.9" r="3.9" fill="#000"/>
<circle cx="219.5" cy="512.2" r="3.9" fill="#000"/>
<circle cx="177.8" cy="432.0" r="3.9" fill="#000"/>
<circle cx="143.0" cy="491.0" r="3.9" fill="#000"/>
<circle cx="192.0" cy="445.3" r="3.9" fill="#000"/>
<circle cx="199.5" cy="459.8" r="3.9" fill="#000"/>
<circle cx="225.4" cy="504.7" r="3.9" fill="#000"/>
<circle cx="164.1" cy="531.0" r="3.9" fill="#000"/>
<circle cx="145.9" cy="473.4" r="3.9" fill="#000"/>
<circle cx="178.1" cy="427.8" r="3.9" fill="#000"/>
<circle cx="147.2" cy="511.7" r="3.9" fill="#000"/>
<circle cx="143.1" cy="476.4" r="3.9" fill="#000"/>
<circle cx="225.7" cy="413.1" r="3.9" fill="#000"/>
<circle cx="159.8" cy="485.3" r="3.9" fill="#000"/>
<circle cx="187.1" cy="490.4" r="3.9" fill="#000"/>
<circle cx="214.4" cy="418.1" r="3.9" fill="#000"/>
<circle cx="169.5" cy="437.5" r="3.9" fill="#000"/>
<circle cx="146.3" cy="528.8" r="3.9" fill="#000"/>
<circle cx="211.7" cy="501.9" r="3.9" fill="#000"/>
<circle cx="142.6" cy="521.9" r="3.9" fill="#000"/>
<circle cx="208.3" cy="463.1" r="3.9" fill="#000"/>
<circle cx="208.0" cy="461.1" r="3.9" fill="#000"/>
<circle cx="162.1" cy="407.3" r="3.9" fill="#000"/>
<circle cx="162.7" cy="397.0" r="3.9" fill="#000"/>
<circle cx="171.9" cy="507.2" r="3.9" fill="#000"/>
<circle cx="203.9" cy="522.0" r="3.9" fill="#000"/>
<circle cx="205.3" cy="432.2" r="3.9" fill="#000"/>
<circle cx="191.3" cy="458.6" r="3.9" fill="#000"/>
<circle cx="212.2" cy="472.1" r="3.9" fill="#000"/>
<circle cx="165.6" cy="490.5" r="3.9" fill="#000"/>
<circle cx="227.9" cy="424.6" r="3.9" fill="#000"/>
<circle cx="220.3" cy="393.4" r="3.9" fill="#000"/>
<circle cx="165.2" cy="427.6" r="3.9" fill="#000"/>
<circle cx="208.2" cy="537.4" r="3.9" fill="#000"/>
<circle cx="208.4" cy="441.7" r="3.9" fill="#000"/>
<circle cx="220.3" cy="441.9" r="3.9" fill="#000"/>
<circle cx="163.3" cy="531.7" r="3.9" fill="#000"/>
<circle cx="198.1" cy="498.4" r="3.9" fill="#000"/>
<circle cx="201.2" cy="542.7" r="3.9" fill="#000"/>
<circle cx="183.8" cy="521.2" r="3.9" fill="#000"/>
<circle cx="204.1" cy="523.9" r="3.9" fill="#000"/>
<circle cx="180.9" cy="503.3" r="3.9" fill="#000"/>
<circle cx="192.8" cy="438.7" r="3.9" fill="#000"/>
<circle cx="160.9" cy="487.5" r="3.9" fill="#000"/>
<circle cx="148.9" cy="532.2" r="3.9" fill="#000"/>
<circle cx="154.9" cy="395.2" r="3.9" fill="#000"/>
<circle cx="151.5" cy="535.0" r="3.9" fill="#000"/>
<circle cx="172.7" cy="413.0" r="3.9" fill="#000"/>
<circle cx="144.6" cy="397.5" r="3.9" fill="#000"/>
<circle cx="203.6" cy="489.3" r="3.9" fill="#000"/>
<circle cx="204.0" cy="505.2" r="3.9" fill="#000"/>
<circle cx="147.9" cy="482.5" r="3.9" fill="#000"/>
<circle cx="174.3" cy="517.7" r="3.9" fill="#000"/>
<circle cx="214.9" cy="529.1" r="3.9" fill="#000"/>
<circle cx="147.9" cy="525.5" r="3.9" fill="#000"/>
<circle cx="223.4" cy="537.4" r="3.9" fill="#000"/>
<circle cx="151.5" cy="422.9" r="3.9" fill="#000"/>
<circle cx="152.0" cy="396.3" r="3.9" fill="#000"/>
<circle cx="217.4" cy="516.9" r="3.9" fill="#000"/>
<circle cx="198.4" cy="518.9" r="3.9" fill="#000"/>
<circle cx="198.2" cy="435.5" r="3.9" fill="#000"/>
<circle cx="150.9" cy="406.2" r="3.9" fill="#000"/>
<circle cx="209.4" cy="422.8" r="3.9" fill="#000"/>
<circle cx="170.4" cy="456.7" r="3.9" fill="#000"/>
<circle cx="143.9" cy="430.8" r="3.9" fill="#000"/>
<circle cx="167.2" cy="501.9" r="3.9" fill="#000"/>
<circle cx="174.8" cy="440.7" r="3.9" fill="#000"/>
<circle cx="227.8" cy="469.1" r="3.9" fill="#000"/>
<circle cx="217.8" cy="486.8" r="3.9" fill="#000"/>
<circle cx="144.8" cy="455.0" r="3.9" fill="#000"/>
<circle cx="180.8" cy="510.8" r="3.9" fill="#000"/>
<circle cx="172.9" cy="500.2" r="3.9" fill="#000"/>
<circle cx="189.9" cy="424.6" r="3.9" fill="#000"/>
<circle cx="218.7" cy="405.1" r="3.9" fill="#000"/>
<circle cx="215.0" cy="417.4" r="3.9" fill="#000"/>
<circle cx="142.1" cy="422.3" r="3.9" fill="#000"/>
<circle cx="209.8" cy="542.6" r="3.9" fill="#000"/>
<circle cx="142.4" cy="467.1" r="3.9" fill="#000"/>
<circle cx="185.7" cy="514.5" r="3.9" fill="#000"/>
<circle cx="158.4" cy="467.7" r="3.9" fill="#000"/>
<circle cx="172.9" cy="519.9" r="3.9" fill="#000"/>
<circle cx="165.2" cy="537.3" r="3.9" fill="#000"/>
<circle cx="167.3" cy="424.3" r="3.9" fill="#000"/>
<circle cx="204.3" cy="468.2" r="3.9" fill="#000"/>
<circle cx="151.8" cy="489.7" r="3.9" fill="#000"/>
<circle cx="149.2" cy="513.1" r="3.9" fill="#000"/>
<circle cx="204.0" cy="513.0" r="3.9" fill="#000"/>
<circle cx="197.9" cy="446.1" r="3.9" fill="#000"/>
<circle cx="177.7" cy="452.2" r="3.9" fill="#000"/>
<circle cx="221.2" cy="404.4" r="3.9" fill="#000"/>
<circle cx="221.1" cy="394.9" r="3.9" fill="#000"/>
<circle cx="160.3" cy="431.8" r="3.9" fill="#000"/>
<circle cx="222.2" cy="468.7" r="3.9" fill="#000"/>
<circle cx="175.8" cy="528.0" r="3.9" fill="#000"/>
<circle cx="162.8" cy="462.4" r="3.9" fill="#000"/>
<circle cx="189.3" cy="507.9" r="3.9" fill="#000"/>
<circle cx="209.0" cy="491.2" r="3.9" fill="#000"/>
<circle cx="173.0" cy="441.6" r="3.9" fill="#000"/>
<circle cx="155.8" cy="521.7" r="3.9" fill="#000"/>
<circle cx="200.9" cy="506.0" r="3.9" fill="#000"/>
<circle cx="157.1" cy="459.0" r="3.9" fill="#000"/>
<circle cx="210.8" cy="480.8" r="3.9" fill="#000"/>
<circle cx="153.2" cy="462.6" r="3.9" fill="#000"/>
<circle cx="220.8" cy="427.9" r="3.9" fill="#000"/>
<circle cx="159.1" cy="437.7" r="3.9" fill="#000"/>
<circle cx="204.6" cy="521.8" r="3.9" fill="#000"/>
<circle cx="155.8" cy="415.2" r="3.9" fill="#000"/>
<circle cx="164.0" cy="441.6" r="3.9" fill="#000"/>
<circle cx="188.5" cy="415.9" r="3.9" fill="#000"/>
<circle cx="171.2" cy="420.3" r="3.9" fill="#000"/>
<circle cx="228.8" cy="504.0" r="3.9" fill="#000"/>
<circle cx="151.1" cy="540.2" r="3.9" fill="#000"/>
<circle cx="151.0" cy="450.6" r="3.9" fill="#000"/>
<circle cx="229.6" cy="514.2" r="3.9" fill="#000"/>
<circle cx="207.3" cy="458.4" r="3.9" fill="#000"/>
<circle cx="159.5" cy="489.9" r="3.9" fill="#000"/>
<circle cx="151.5" cy="423.0" r="3.9" fill="#000"/>
<circle cx="176.6" cy="396.3" r="3.9" fill="#000"/>
<circle cx="177.5" cy="513.6" r="3.9" fill="#000"/>
<circle cx="203.7" cy="468.6" r="3.9" fill="#000"/>
<circle cx="198.3" cy="462.8" r="3.9" fill="#000"/>
<circle cx="154.6" cy="484.6" r="3.9" fill="#000"/>
<circle cx="178.0" cy="505.8" r="3.9" fill="#000"/>
<circle cx="222.8" cy="457.7" r="3.9" fill="#000"/>
<circle cx="193.1" cy="507.1" r="3.9" fill="#000"/>
<circle cx="179.5" cy="426.4" r="3.9" fill="#000"/>
<circle cx="206.3" cy="527.4" r="3.9" fill="#000"/>
<circle cx="210.9" cy="499.5" r="3.9" fill="#000"/>
<circle cx="217.9" cy="496.3" r="3.9" fill="#000"/>
<circle cx="199.1" cy="461.4" r="3.9" fill="#000"/>
<circle cx="169.9" cy="488.4" r="3.9" fill="#000"/>
<circle cx="150.7" cy="456.0" r="3.9" fill="#000"/>
<circle cx="211.6" cy="501.5" r="3.9" fill="#000"/>
<circle cx="198.0" cy="429.8" r="3.9" fill="#000"/>
<circle cx="179.7" cy="461.6" r="3.9" fill="#000"/>
<circle cx="197.3" cy="454.4" r="3.9" fill="#000"/>
<circle cx="202.1" cy="535.2" r="3.9" fill="#000"/>
<circle cx="158.3" cy="492.4" r="3.9" fill="#000"/>
<circle cx="211.3" cy="451.2" r="3.9" fill="#000"/>
<circle cx="185.6" cy="542.1" r="3.9" fill="#000"/>
<circle cx="145.4" cy="475.2" r="3.9" fill="#000"/>
<circle cx="156.3" cy="512.2" r="3.9" fill="#000"/>
<circle cx="225.7" cy="471.5" r="3.9" fill="#000"/>
<circle cx="151.0" cy="480.1" r="3.9" fill="#000"/>
<circle cx="190.2" cy="502.2" r="3.9" fill="#000"/>
<circle cx="187.6" cy="490.1" r="3.9" fill="#000"/>
<circle cx="215.8" cy="471.9" r="3.9" fill="#000"/>
<circle cx="178.5" cy="537.9" r="3.9" fill="#000"/>
<circle cx="160.7" cy="497.1" r="3.9" fill="#000"/>
<circle cx="176.9" cy="509.2" r="3.9" fill="#000"/>
<circle cx="152.9" cy="543.6" r="3.9" fill="#000"/>
<circle cx="173.6" cy="399.8" r="3.9" fill="#000"/>
<circle cx="166.4" cy="453.0" r="3.9" fill="#000"/>
<circle cx="143.2" cy="455.9" r="3.9" fill="#000"/>
<circle cx="179.4" cy="499.2" r="3.9" fill="#000"/>
<circle cx="173.3" cy="432.1" r="3.9" fill="#000"/>
<circle cx="162.0" cy="505.9" r="3.9" fill="#000"/>
<circle cx="225.7" cy="472.7" r="3.9" fill="#000"/>
<circle cx="161.5" cy="515.2" r="3.9" fill="#000"/>
<circle cx="176.9" cy="423.9" r="3.9" fill="#000"/>
<circle cx="153.5" cy="511.4" r="3.9" fill="#000"/>
<circle cx="214.1" cy="489.3" r="3.9" fill="#000"/>
<circle cx="183.8" cy="478.1" r="3.9" fill="#000"/>
<circle cx="162.1" cy="540.4" r="3.9" fill="#000"/>
<circle cx="173.4" cy="490.0" r="3.9" fill="#000"/>
<circle cx="214.9" cy="517.5" r="3.9" fill="#000"/>
<circle cx="183.7" cy="436.6" r="3.9" fill="#000"/>
<circle cx="190.8" cy="410.4" r="3.9" fill="#000"/>
<circle cx="216.2" cy="446.0" r="3.9" fill="#000"/>
<circle cx="217.7" cy="432.5" r="3.9" fill="#000"/>
<circle cx="175.5" cy="430.3" r="3.9" fill="#000"/>
<circle cx="179.9" cy="419.8" r="3.9" fill="#000"/>
<circle cx="142.2" cy="502.9" r="3.9" fill="#000"/>
<circle cx="167.0" cy="429.0" r="3.9" fill="#000"/>
<circle cx="168.9" cy="465.3" r="3.9" fill="#000"/>
<circle cx="180.1" cy="489.8" r="3.9" fill="#000"/>
<circle cx="200.7" cy="447.2" r="3.9" fill="#000"/>
<circle cx="224.7" cy="523.4" r="3.9" fill="#000"/>
<circle cx="147.1" cy="519.3" r="3.9" fill="#000"/>
<circle cx="222.6" cy="512.5" r="3.9" fill="#000"/>
<circle cx="154.5" cy="519.9" r="3.9" fill="#000"/>
<circle cx="198.4" cy="393.3" r="3.9" fill="#000"/>
<circle cx="143.0" cy="538.5" r="3.9" fill="#000"/>
<circle cx="200.4" cy="429.8" r="3.9" fill="#000"/>
<circle cx="151.0" cy="413.1" r="3.9" fill="#000"/>
<circle cx="162.8" cy="511.3" r="3.9" fill="#000"/>
<circle cx="172.8" cy="414.7" r="3.9" fill="#000"/>
<circle cx="222.5" cy="513.7" r="3.9" fill="#000"/>
<circle cx="156.9" cy="529.1" r="3.9" fill="#000"/>
<circle cx="196.1" cy="512.1" r="3.9" fill="#000"/>
<circle cx="201.5" cy="529.6" r="3.9" fill="#000"/>
<circle cx="212.1" cy="521.0" r="3.9" fill="#000"/>
<circle cx="159.6" cy="498.4" r="3.9" fill="#000"/>
<circle cx="189.2" cy="506.0" r="3.9" fill="#000"/>
<circle cx="181.0" cy="527.8" r="3.9" fill="#000"/>
<circle cx="191.4" cy="432.0" r="3.9" fill="#000"/>
<circle cx="162.8" cy="412.6" r="3.9" fill="#000"/>
<circle cx="185.9" cy="400.1" r="3.9" fill="#000"/>
<circle cx="183.6" cy="413.4" r="3.9" fill="#000"/>
<circle cx="185.7" cy="468.2" r="3.9" fill="#000"/>
<circle cx="190.0" cy="524.7" r="3.9" fill="#000"/>
<circle cx="142.6" cy="521.3" r="3.9" fill="#000"/>
<circle cx="183.6" cy="478.2" r="3.9" fill="#000"/>
<circle cx="201.2" cy="521.3" r="3.9" fill="#000"/>
<circle cx="175.4" cy="455.9" r="3.9" fill="#000"/>
<circle cx="227.5" cy="402.7" r="3.9" fill="#000"/>
<circle cx="198.7" cy="489.6" r="3.9" fill="#000"/>
<circle cx="144.5" cy="485.5" r="3.9" fill="#000"/>
<circle cx="202.8" cy="535.4" r="3.9" fill="#000"/>
<circle cx="171.4" cy="543.2" r="3.9" fill="#000"/>
<circle cx="187.4" cy="466.1" r="3.9" fill="#000"/>
<circle cx="221.9" cy="396.3" r="3.9" fill="#000"/>
<circle cx="205.9" cy="487.9" r="3.9" fill="#000"/>
<circle cx="172.1" cy="524.6" r="3.9" fill="#000"/>
<circle cx="174.6" cy="464.6" r="3.9" fill="#000"/>
<circle cx="188.8" cy="510.4" r="3.9" fill="#000"/>
<circle cx="160.8" cy="458.5" r="3.9" fill="#000"/>
<circle cx="179.6" cy="476.9" r="3.9" fill="#000"/>
<circle cx="215.6" cy="436.4" r="3.9" fill="#000"/>
<circle cx="215.7" cy="453.6" r="3.9" fill="#000"/>
<circle cx="186.8" cy="433.1" r="3.9" fill="#000"/>
<circle cx="187.1" cy="542.1" r="3.9" fill="#000"/>
<circle cx="200.3" cy="513.8" r="3.9" fill="#000"/>
<circle cx="171.4" cy="440.1" r="3.9" fill="#000"/>
<circle cx="168.6" cy="481.9" r="3.9" fill="#000"/>
<circle cx="198.5" cy="512.6" r="3.9" fill="#000"/>
<circle cx="145.6" cy="503.0" r="3.9" fill="#000"/>
<circle cx="220.8" cy="475.5" r="3.9" fill="#000"/>
<circle cx="146.4" cy="437.6" r="3.9" fill="#000"/>
<circle cx="142.6" cy="420.4" r="3.9" fill="#000"/>
<circle cx="224.0" cy="485.3" r="3.9" fill="#000"/>
<circle cx="200.6" cy="513.3" r="3.9" fill="#000"/>
<circle cx="223.0" cy="485.8" r="3.9" fill="#000"/>
<circle cx="196.9" cy="488.2" r="3.9" fill="#000"/>
<circle cx="204.0" cy="483.4" r="3.9" fill="#000"/>
<circle cx="202.6" cy="423.9" r="3.9" fill="#000"/>
<circle cx="201.4" cy="462.0" r="3.9" fill="#000"/>
<circle cx="209.9" cy="406.7" r="3.9" fill="#000"/>
<circle cx="158.1" cy="396.7" r="3.9" fill="#000"/>
<circle cx="210.9" cy="532.7" r="3.9" fill="#000"/>
<circle cx="200.4" cy="448.2" r="3.9" fill="#000"/>
<circle cx="215.2" cy="512.9" r="3.9" fill="#000"/>
<circle cx="192.0" cy="431.0" r="3.9" fill="#000"/>
<circle cx="168.9" cy="456.4" r="3.9" fill="#000"/>
<circle cx="170.3" cy="457.8" r="3.9" fill="#000"/>
<circle cx="199.1" cy="535.7" r="3.9" fill="#000"/>
<circle cx="146.9" cy="479.0" r="3.9" fill="#000"/>
<circle cx="145.5" cy="409.4" r="3.9" fill="#000"/>
<circle cx="214.1" cy="480.2" r="3.9" fill="#000"/>
<circle cx="223.8" cy="460.2" r="3.9" fill="#000"/>
<circle cx="143.3" cy="451.0" r="3.9" fill="#000"/>
<circle cx="194.7" cy="536.3" r="3.9" fill="#000"/>
<circle cx="229.3" cy="464.7" r="3.9" fill="#000"/>
<circle cx="178.7" cy="406.8" r="3.9" fill="#000"/>
<circle cx="199.4" cy="423.9" r="3.9" fill="#000"/>
<circle cx="155.5" cy="393.4" r="3.9" fill="#000"/>
<circle cx="142.4" cy="497.0" r="3.9" fill="#000"/>
<circle cx="152.8" cy="540.8" r="3.9" fill="#000"/>
<circle cx="149.8" cy="525.8" r="3.9" fill="#000"/>
<circle cx="153.5" cy="393.8" r="3.9" fill="#000"/>
<circle cx="206.0" cy="428.6" r="3.9" fill="#000"/>
<circle cx="207.3" cy="420.0" r="3.9" fill="#000"/>
<circle cx="146.5" cy="511.0" r="3.9" fill="#000"/>
<circle cx="205.5" cy="523.6" r="3.9" fill="#000"/>
<circle cx="206.9" cy="404.1" r="3.9" fill="#000"/>
<circle cx="197.9" cy="500.9" r="3.9" fill="#000"/>
<circle cx="183.0" cy="535.5" r="3.9" fill="#000"/>
<circle cx="164.6" cy="540.5" r="3.9" fill="#000"/>
<circle cx="205.8" cy="392.8" r="3.9" fill="#000"/>
<circle cx="143.3" cy="491.9" r="3.9" fill="#000"/>
<circle cx="214.7" cy="403.4" r="3.9" fill="#000"/>
<circle cx="169.7" cy="504.1" r="3.9" fill="#000"/>
<circle cx="156.8" cy="524.4" r="3.9" fill="#000"/>
<circle cx="185.3" cy="400.3" r="3.9" fill="#000"/>
<circle cx="174.7" cy="480.1" r="3.9" fill="#000"/>
<circle cx="181.0" cy="495.9" r="3.9" fill="#000"/>
<circle cx="154.9" cy="514.6" r="3.9" fill="#000"/>
<circle cx="174.3" cy="491.0" r="3.9" fill="#000"/>
<circle cx="198.0" cy="455.8" r="3.9" fill="#000"/>
<circle cx="176.3" cy="512.9" r="3.9" fill="#000"/>
<circle cx="226.1" cy="512.6" r="3.9" fill="#000"/>
<circle cx="192.4" cy="436.3" r="3.9" fill="#000"/>
<circle cx="147.4" cy="542.0" r="3.9" fill="#000"/>
<circle cx="204.6" cy="519.2" r="3.9" fill="#000"/>
<circle cx="171.6" cy="484.9" r="3.9" fill="#000"/>
<circle cx="229.0" cy="519.8" r="3.9" fill="#000"/>
<circle cx="195.5" cy="438.8" r="3.9" fill="#000"/>
<circle cx="180.1" cy="528.7" r="3.9" fill="#000"/>
<circle cx="175.5" cy="497.1" r="3.9" fill="#000"/>
<circle cx="195.6" cy="529.9" r="3.9" fill="#000"/>
<circle cx="213.9" cy="434.9" r="3.9" fill="#000"/>
<circle cx="142.1" cy="431.8" r="3.9" fill="#000"/>
<circle cx="179.6" cy="481.9" r="3.9" fill="#000"/>
<circle cx="214.6" cy="528.6" r="3.9" fill="#000"/>
<circle cx="145.8" cy="520.2" r="3.9" fill="#000"/>
<circle cx="214.2" cy="525.4" r="3.9" fill="#000"/>
<circle cx="192.9" cy="433.4" r="3.9" fill="#000"/>
<circle cx="217.8" cy="516.1" r="3.9" fill="#000"/>
<circle cx="202.9" cy="532.6" r="3.9" fill="#000"/>
<circle cx="172.9" cy="404.2" r="3.9" fill="#000"/>
<circle cx="191.3" cy="514.6" r="3.9" fill="#000"/>
<circle cx="159.8" cy="507.3" r="3.9" fill="#000"/>
<circle cx="224.9" cy="427.3" r="3.9" fill="#000"/>
<circle cx="196.0" cy="496.0" r="3.9" fill="#000"/>
<circle cx="183.4" cy="423.0" r="3.9" fill="#000"/>
<circle cx="164.7" cy="507.4" r="3.9" fill="#000"/>
<circle cx="212.5" cy="462.3" r="3.9" fill="#000"/>
<circle cx="149.8" cy="516.0" r="3.9" fill="#000"/>
<circle cx="210.7" cy="427.1" r="3.9" fill="#000"/>
<circle cx="193.6" cy="530.0" r="3.9" fill="#000"/>
<circle cx="220.8" cy="471.9" r="3.9" fill="#000"/>
<circle cx="184.4" cy="482.3" r="3.9" fill="#000"/>
<circle cx="158.8" cy="420.8" r="3.9" fill="#000"/>
<circle cx="158.1" cy="499.7" r="3.9" fill="#000"/>
<circle cx="174.3" cy="478.5" r="3.9" fill="#000"/>
<circle cx="177.8" cy="471.2" r="3.9" fill="#000"/>
<circle cx="155.3" cy="397.9" r="3.9" fill="#000"/>
<circle cx="230.7" cy="449.0" r="3.9" fill="#000"/>
<circle cx="151.4" cy="489.1" r="3.9" fill="#000"/>
<circle cx="212.1" cy="415.2" r="3.9" fill="#000"/>
<circle cx="195.2" cy="444.5" r="3.9" fill="#000"/>
<circle cx="188.2" cy="394.2" r="3.9" fill="#000"/>
<circle cx="145.0" cy="544.5" r="3.9" fill="#000"/>
<circle cx="219.1" cy="466.4" r="3.9" fill="#000"/>
<circle cx="192.5" cy="431.5" r="3.9" fill="#000"/>
<circle cx="211.3" cy="457.0" r="3.9" fill="#000"/>
<circle cx="226.2" cy="509.9" r="3.9" fill="#000"/>
<circle cx="214.9" cy="540.3" r="3.9" fill="#000"/>
<circle cx="164.6" cy="396.9" r="3.9" fill="#000"/>
<circle cx="159.9" cy="419.0" r="3.9" fill="#000"/>
<circle cx="149.4" cy="398.9" r="3.9" fill="#000"/>
<circle cx="191.6" cy="526.0" r="3.9" fill="#000"/>
<circle cx="182.8" cy="537.8" r="3.9" fill="#000"/>
<circle cx="223.0" cy="400.9" r="3.9" fill="#000"/>
<circle cx="195.2" cy="452.6" r="3.9" fill="#000"/>
<circle cx="152.7" cy="539.7" r="3.9" fill="#000"/>
<circle cx="164.9" cy="478.5" r="3.9" fill="#000"/>
<circle cx="199.0" cy="539.2" r="3.9" fill="#000"/>
<circle cx="201.6" cy="451.9" r="3.9" fill="#000"/>
<circle cx="181.9" cy="415.8" r="3.9" fill="#000"/>
<circle cx="228.0" cy="544.7" r="3.9" fill="#000"/>
<circle cx="161.7" cy="397.0" r="3.9" fill="#000"/>
<circle cx="164.8" cy="445.6" r="3.9" fill="#000"/>
<circle cx="222.3" cy="531.2" r="3.9" fill="#000"/>
<circle cx="216.5" cy="398.3" r="3.9" fill="#000"/>
<circle cx="212.0" cy="501.0" r="3.9" fill="#000"/>
<circle cx="199.6" cy="543.7" r="3.9" fill="#000"/>
<circle cx="147.0" cy="413.4" r="3.9" fill="#000"/>
<circle cx="209.2" cy="536.6" r="3.9" fill="#000"/>
<circle cx="202.2" cy="437.3" r="3.9" fill="#000"/>
<circle cx="194.6" cy="508.5" r="3.9" fill="#000"/>
<circle cx="151.4" cy="441.2" r="3.9" fill="#000"/>
<circle cx="164.9" cy="410.2" r="3.9" fill="#000"/>
<circle cx="184.8" cy="417.1" r="3.9" fill="#000"/>
<circle cx="163.2" cy="413.2" r="3.9" fill="#000"/>
<circle cx="202.3" cy="393.0" r="3.9" fill="#000"/>
<circle cx="205.8" cy="421.2" r="3.9" fill="#000"/>
<circle cx="145.2" cy="534.8" r="3.9" fill="#000"/>
<circle cx="161.6" cy="535.8" r="3.9" fill="#000"/>
<circle cx="219.1" cy="528.7" r="3.9" fill="#000"/>
<circle cx="154.4" cy="460.3" r="3.9" fill="#000"/>
<circle cx="150.6" cy="535.0" r="3.9" fill="#000"/>
<circle cx="217.0" cy="488.4" r="3.9" fill="#000"/>
<circle cx="182.3" cy="443.7" r="3.9" fill="#000"/>
<circle cx="215.3" cy="465.0" r="3.9" fill="#000"/>
<circle cx="197.9" cy="413.1" r="3.9" fill="#000"/>
<circle cx="161.7" cy="399.8" r="3.9" fill="#000"/>
<circle cx="205.5" cy="476.8" r="3.9" fill="#000"/>
<circle cx="154.9" cy="526.0" r="3.9" fill="#000"/>
<circle cx="165.7" cy="454.8" r="3.9" fill="#000"/>
<circle cx="155.9" cy="433.0" r="3.9" fill="#000"/>
<circle cx="216.7" cy="442.8" r="3.9" fill="#000"/>
<circle cx="156.9" cy="467.1" r="3.9" fill="#000"/>
<circle cx="170.3" cy="531.0" r="3.9" fill="#000"/>
<circle cx="152.2" cy="542.7" r="3.9" fill="#000"/>
<circle cx="147.1" cy="529.7" r="3.9" fill="#000"/>
<circle cx="201.5" cy="423.7" r="3.9" fill="#000"/>
<circle cx="184.5" cy="435.4" r="3.9" fill="#000"/>
<circle cx="164.9" cy="422.3" r="3.9" fill="#000"/>
<circle cx="174.4" cy="544.6" r="3.9" fill="#000"/>
<circle cx="230.8" cy="534.4" r="3.9" fill="#000"/>
<circle cx="150.7" cy="435.9" r="3.9" fill="#000"/>
<circle cx="221.8" cy="399.9" r="3.9" fill="#000"/>
<circle cx="206.7" cy="436.5" r="3.9" fill="#000"/>
<circle cx="229.1" cy="393.5" r="3.9" fill="#000"/>
<circle cx="213.8" cy="443.8" r="3.9" fill="#000"/>
<circle cx="154.5" cy="391.3" r="3.9" fill="#000"/>
<circle cx="216.1" cy="472.6" r="3.9" fill="#000"/>
<circle cx="158.5" cy="458.5" r="3.9" fill="#000"/>
<circle cx="223.2" cy="424.8" r="3.9" fill="#000"/>
<circle cx="192.8" cy="412.4" r="3.9" fill="#000"/>
<circle cx="158.0" cy="510.4" r="3.9" fill="#000"/>
<circle cx="205.3" cy="421.5" r="3.9" fill="#000"/>
<circle cx="149.1" cy="404.6" r="3.9" fill="#000"/>
<circle cx="196.2" cy="467.8" r="3.9" fill="#000"/>
<circle cx="166.4" cy="422.9" r="3.9" fill="#000"/>
<circle cx="196.5" cy="500.7" r="3.9" fill="#000"/>
<circle cx="214.2" cy="481.4" r="3.9" fill="#000"/>
<circle cx="160.0" cy="401.2" r="3.9" fill="#000"/>
<circle cx="207.2" cy="454.3" r="3.9" fill="#000"/>
<circle cx="206.2" cy="399.6" r="3.9" fill="#000"/>
<circle cx="214.1" cy="443.0" r="3.9" fill="#000"/>
<circle cx="216.9" cy="525.0" r="3.9" fill="#000"/>
<circle cx="185.9" cy="393.4" r="3.9" fill="#000"/>
<circle cx="223.0" cy="464.9" r="3.9" fill="#000"/>
<circle cx="219.6" cy="432.3" r="3.9" fill="#000"/>
<circle cx="158.6" cy="519.9" r="3.9" fill="#000"/>
<circle cx="174.7" cy="416.3" r="3.9" fill="#000"/>
<circle cx="175.0" cy="483.2" r="3.9" fill="#000"/>
<circle cx="142.4" cy="471.6" r="3.9" fill="#000"/>
<circle cx="181.7" cy="470.9" r="3.9" fill="#000"/>
<circle cx="152.7" cy="501.8" r="3.9" fill="#000"/>
<circle cx="214.7" cy="525.1" r="3.9" fill="#000"/>
<circle cx="170.6" cy="501.2" r="3.9" fill="#000"/>
<circle cx="175.9" cy="507.5" r="3.9" fill="#000"/>
<circle cx="147.4" cy="526.3" r="3.9" fill="#000"/>
<circle cx="226.9" cy="467.7" r="3.9" fill="#000"/>
<circle cx="187.7" cy="473.2" r="3.9" fill="#000"/>
<circle cx="189.8" cy="394.2" r="3.9" fill="#000"/>
<circle cx="228.1" cy="425.7" r="3.9" fill="#000"/>
<circle cx="158.2" cy="406.9" r="3.9" fill="#000"/>
<circle cx="164.3" cy="517.7" r="3.9" fill="#000"/>
<circle cx="144.7" cy="406.0" r="3.9" fill="#000"/>
<circle cx="204.2" cy="421.2" r="3.9" fill="#000"/>
<circle cx="143.6" cy="483.9" r="3.9" fill="#000"/>
<circle cx="193.3" cy="472.1" r="3.9" fill="#000"/>
<circle cx="204.5" cy="406.9" r="3.9" fill="#000"/>
<circle cx="219.4" cy="502.2" r="3.9" fill="#000"/>
<circle cx="146.0" cy="410.1" r="3.9" fill="#000"/>
<circle cx="185.9" cy="468.6" r="3.9" fill="#000"/>
<circle cx="166.9" cy="409.9" r="3.9" fill="#000"/>
<circle cx="178.1" cy="412.2" r="3.9" fill="#000"/>
<circle cx="194.7" cy="524.5" r="3.9" fill="#000"/>
<circle cx="155.1" cy="479.8" r="3.9" fill="#000"/>
<circle cx="208.4" cy="416.5" r="3.9" fill="#000"/>
<circle cx="215.5" cy="536.3" r="3.9" fill="#000"/>
<circle cx="176.6" cy="456.2" r="3.9" fill="#000"/>
<circle cx="216.7" cy="472.5" r="3.9" fill="#000"/>
<circle cx="177.2" cy="536.9" r="3.9" fill="#000"/>
<circle cx="211.1" cy="443.5" r="3.9" fill="#000"/>
<circle cx="163.4" cy="442.9" r="3.9" fill="#000"/>
<circle cx="180.8" cy="543.1" r="3.9" fill="#000"/>
<circle cx="213.6" cy="532.5" r="3.9" fill="#000"/>
<circle cx="214.5" cy="522.4" r="3.9" fill="#000"/>
<circle cx="146.8" cy="471.2" r="3.9" fill="#000"/>
<circle cx="227.2" cy="535.8" r="3.9" fill="#000"/>
<circle cx="164.2" cy="456.4" r="3.9" fill="#000"/>
<circle cx="198.3" cy="447.5" r="3.9" fill="#000"/>
<circle cx="189.2" cy="401.7" r="3.9" fill="#000"/>
<circle cx="180.5" cy="469.2" r="3.9" fill="#000"/>
<circle cx="143.9" cy="412.6" r="3.9" fill="#000"/>
<circle cx="228.3" cy="511.4" r="3.9" fill="#000"/>
<circle cx="225.4" cy="489.1" r="3.9" fill="#000"/>
<circle cx="214.0" cy="528.1" r="3.9" fill="#000"/>
<circle cx="220.7" cy="396.3" r="3.9" fill="#000"/>
<circle cx="199.1" cy="432.2" r="3.9" fill="#000"/>
<circle cx="202.4" cy="433.4" r="3.9" fill="#000"/>
<circle cx="190.3" cy="534.3" r="3.9" fill="#000"/>
<circle cx="197.3" cy="429.8" r="3.9" fill="#000"/>
<circle cx="188.3" cy="458.2" r="3.9" fill="#000"/>
<circle cx="226.6" cy="435.6" r="3.9" fill="#000"/>
<circle cx="169.2" cy="491.4" r="3.9" fill="#000"/>
<circle cx="152.7" cy="483.1" r="3.9" fill="#000"/>
<circle cx="227.1" cy="470.6" r="3.9" fill="#000"/>
<circle cx="165.9" cy="463.3" r="3.9" fill="#000"/>
<circle cx="189.5" cy="414.0" r="3.9" fill="#000"/>
<circle cx="153.0" cy="411.4" r="3.9" fill="#000"/>
<circle cx="168.1" cy="454.0" r="3.9" fill="#000"/>
<circle cx="167.7" cy="428.7" r="3.9" fill="#000"/>
<circle cx="149.8" cy="475.7" r="3.9" fill="#000"/>
<circle cx="216.7" cy="485.5" r="3.9" fill="#000"/>
<circle cx="192.7" cy="491.8" r="3.9" fill="#000"/>
<circle cx="159.9" cy="501.1" r="3.9" fill="#000"/>
<circle cx="183.0" cy="475.9" r="3.9" fill="#000"/>
<circle cx="196.5" cy="463.7" r="3.9" fill="#000"/>
<circle cx="169.6" cy="428.5" r="3.9" fill="#000"/>
<circle cx="161.7" cy="470.4" r="3.9" fill="#000"/>
<circle cx="176.1" cy="481.8" r="3.9" fill="#000"/>
<circle cx="143.1" cy="445.7" r="3.9" fill="#000"/>
<circle cx="218.7" cy="428.0" r="3.9" fill="#000"/>
<circle cx="191.5" cy="467.2" r="3.9" fill="#000"/>
<circle cx="167.3" cy="544.1" r="3.9" fill="#000"/>
<circle cx="168.3" cy="510.7" r="3.9" fill="#000"/>
<circle cx="156.1" cy="401.4" r="3.9" fill="#000"/>
<circle cx="219.5" cy="459.2" r="3.9" fill="#000"/>
<circle cx="147.5" cy="451.1" r="3.9" fill="#000"/>
<circle cx="181.2" cy="505.0" r="3.9" fill="#000"/>
<circle cx="151.7" cy="425.9" r="3.9" fill="#000"/>
<circle cx="227.4" cy="505.5" r="3.9" fill="#000"/>
<circle cx="155.8" cy="443.2" r="3.9" fill="#000"/>
<circle cx="173.4" cy="495.7" r="3.9" fill="#000"/>
<circle cx="196.9" cy="522.7" r="3.9" fill="#000"/>
<circle cx="215.1" cy="471.3" r="3.9" fill="#000"/>
<circle cx="207.8" cy="506.2" r="3.9" fill="#000"/>
<circle cx="209.6" cy="464.7" r="3.9" fill="#000"/>
<circle cx="211.9" cy="500.8" r="3.9" fill="#000"/>
<circle cx="223.4" cy="410.7" r="3.9" fill="#000"/>
<circle cx="219.5" cy="391.7" r="3.9" fill="#000"/>
<circle cx="210.1" cy="481.8" r="3.9" fill="#000"/>
<circle cx="186.3" cy="540.2" r="3.9" fill="#000"/>
<circle cx="192.9" cy="455.8" r="3.9" fill="#000"/>
<circle cx="211.7" cy="526.3" r="3.9" fill="#000"/>
<circle cx="196.1" cy="449.8" r="3.9" fill="#000"/>
<circle cx="182.3" cy="462.0" r="3.9" fill="#000"/>
<circle cx="206.4" cy="436.4" r="3.9" fill="#000"/>
<circle cx="176.8" cy="477.1" r="3.9" fill="#000"/>
<circle cx="176.2" cy="440.9" r="3.9" fill="#000"/>
<circle cx="212.0" cy="522.7" r="3.9" fill="#000"/>
<circle cx="186.5" cy="459.8" r="3.9" fill="#000"/>
<circle cx="158.4" cy="438.1" r="3.9" fill="#000"/>
<circle cx="154.9" cy="480.2" r="3.9" fill="#000"/>
<circle cx="193.8" cy="404.6" r="3.9" fill="#000"/>
<circle cx="223.9" cy="441.2" r="3.9" fill="#000"/>
<circle cx="217.1" cy="520.9" r="3.9" fill="#000"/>
<circle cx="227.3" cy="422.7" r="3.9" fill="#000"/>
<circle cx="180.0" cy="532.1" r="3.9" fill="#000"/>
<circle cx="143.0" cy="398.4" r="3.9" fill="#000"/>
<circle cx="192.3" cy="468.1" r="3.9" fill="#000"/>
<circle cx="223.9" cy="510.9" r="3.9" fill="#000"/>
<circle cx="189.9" cy="545.7" r="3.9" fill="#000"/>
<circle cx="188.1" cy="471.2" r="3.9" fill="#000"/>
<circle cx="203.0" cy="451.4" r="3.9" fill="#000"/>
<circle cx="173.8" cy="483.2" r="3.9" fill="#000"/>
<circle cx="173.2" cy="537.9" r="3.9" fill="#000"/>
<circle cx="202.2" cy="472.4" r="3.9" fill="#000"/>
<circle cx="150.8" cy="449.0" r="3.9" fill="#000"/>
<circle cx="177.7" cy="478.0" r="3.9" fill="#000"/>
<circle cx="193.1" cy="527.4" r="3.9" fill="#000"/>
<circle cx="227.8" cy="466.4" r="3.9" fill="#000"/>
<circle cx="181.2" cy="487.8" r="3.9" fill="#000"/>
<circle cx="230.7" cy="444.2" r="3.9" fill="#000"/>
<circle cx="189.2" cy="517.5" r="3.9" fill="#000"/>
<circle cx="157.2" cy="440.3" r="3.9" fill="#000"/>
<circle cx="229.1" cy="519.0" r="3.9" fill="#000"/>
<circle cx="187.6" cy="408.1" r="3.9" fill="#000"/>
<circle cx="221.6" cy="497.9" r="3.9" fill="#000"/>
<circle cx="215.0" cy="544.5" r="3.9" fill="#000"/>
<circle cx="221.0" cy="456.2" r="3.9" fill="#000"/>
<circle cx="155.9" cy="435.9" r="3.9" fill="#000"/>
<circle cx="187.5" cy="469.3" r="3.9" fill="#000"/>
<circle cx="158.7" cy="419.3" r="3.9" fill="#000"/>
<circle cx="198.1" cy="484.5" r="3.9" fill="#000"/>
<circle cx="173.4" cy="545.0" r="3.9" fill="#000"/>
<circle cx="198.6" cy="397.6" r="3.9" fill="#000"/>
<circle cx="178.6" cy="513.1" r="3.9" fill="#000"/>
<circle cx="169.3" cy="498.1" r="3.9" fill="#000"/>
<circle cx="142.3" cy="438.2" r="3.9" fill="#000"/>
<circle cx="217.0" cy="481.9" r="3.9" fill="#000"/>
<circle cx="201.5" cy="421.5" r="3.9" fill="#000"/>
<circle cx="186.3" cy="476.8" r="3.9" fill="#000"/>
<circle cx="165.7" cy="491.3" r="3.9" fill="#000"/>
<circle cx="189.3" cy="545.6" r="3.9" fill="#000"/>
<circle cx="193.1" cy="454.7" r="3.9" fill="#000"/>
<circle cx="152.8" cy="415.3" r="3.9" fill="#000"/>
<circle cx="209.6" cy="407.5" r="3.9" fill="#000"/>
<circle cx="150.9" cy="417.4" r="3.9" fill="#000"/>
<circle cx="188.5" cy="518.6" r="3.9" fill="#000"/>
<circle cx="196.6" cy="516.0" r="3.9" fill="#000"/>
<circle cx="147.5" cy="392.9" r="3.9" fill="#000"/>
<circle cx="210.6" cy="441.0" r="3.9" fill="#000"/>
<circle cx="205.7" cy="445.8" r="3.9" fill="#000"/>
<circle cx="157.1" cy="432.3" r="3.9" fill="#000"/>
<circle cx="150.9" cy="531.1" r="3.9" fill="#000"/>
<circle cx="193.8" cy="445.1" r="3.9" fill="#000"/>
<circle cx="182.0" cy="450.8" r="3.9" fill="#000"/>
<circle cx="146.9" cy="529.0" r="3.9" fill="#000"/>
<circle cx="193.9" cy="539.7" r="3.9" fill="#000"/>
<circle cx="181.1" cy="487.1" r="3.9" fill="#000"/>
<circle cx="164.2" cy="397.8" r="3.9" fill="#000"/>
<circle cx="224.8" cy="523.5" r="3.9" fill="#000"/>
<circle cx="170.0" cy="530.3" r="3.9" fill="#000"/>
<circle cx="214.6" cy="438.1" r="3.9" fill="#000"/>
<circle cx="195.6" cy="539.8" r="3.9" fill="#000"/>
<circle cx="186.1" cy="538.2" r="3.9" fill="#000"/>
<circle cx="163.6" cy="451.4" r="3.9" fill="#000"/>
<circle cx="205.9" cy="425.3" r="3.9" fill="#000"/>
<circle cx="169.5" cy="526.7" r="3.9" fill="#000"/>
<circle cx="185.1" cy="513.9" r="3.9" fill="#000"/>
<circle cx="163.7" cy="417.9" r="3.9" fill="#000"/>
<circle cx="173.9" cy="419.9" r="3.9" fill="#000"/>
<circle cx="228.5" cy="436.1" r="3.9" fill="#000"/>
<circle cx="192.0" cy="408.8" r="3.9" fill="#000"/>
<circle cx="189.5" cy="450.8" r="3.9" fill="#000"/>
<circle cx="177.9" cy="401.1" r="3.9" fill="#000"/>
<circle cx="153.0" cy="519.0" r="3.9" fill="#000"/>
<circle cx="173.3" cy="429.0" r="3.9" fill="#000"/>
<circle cx="159.0" cy="435.0" r="3.9" fill="#000"/>
<circle cx="163.1" cy="396.4" r="3.9" fill="#000"/>
<circle cx="201.1" cy="443.9" r="3.9" fill="#000"/>
<circle cx="155.9" cy="500.4" r="3.9" fill="#000"/>
<circle cx="150.2" cy="432.8" r="3.9" fill="#000"/>
<circle cx="216.3" cy="410.8" r="3.9" fill="#000"/>
<circle cx="181.5" cy="520.6" r="3.9" fill="#000"/>
<circle cx="213.6" cy="415.7" r="3.9" fill="#000"/>
<circle cx="173.4" cy="503.0" r="3.9" fill="#000"/>
<circle cx="175.5" cy="539.6" r="3.9" fill="#000"/>
<circle cx="160.5" cy="538.4" r="3.9" fill="#000"/>
<circle cx="186.9" cy="426.2" r="3.9" fill="#000"/>
<circle cx="182.3" cy="411.3" r="3.9" fill="#000"/>
<circle cx="204.9" cy="431.4" r="3.9" fill="#000"/>
<circle cx="222.1" cy="482.1" r="3.9" fill="#000"/>
<circle cx="174.8" cy="429.2" r="3.9" fill="#000"/>
<circle cx="196.1" cy="423.9" r="3.9" fill="#000"/>
<circle cx="219.6" cy="410.0" r="3.9" fill="#000"/>
<circle cx="187.7" cy="475.1" r="3.9" fill="#000"/>
<circle cx="166.1" cy="510.6" r="3.9" fill="#000"/>
<circle cx="176.2" cy="492.9" r="3.9" fill="#000"/>
<circle cx="192.5" cy="439.2" r="3.9" fill="#000"/>
<circle cx="176.7" cy="404.3" r="3.9" fill="#000"/>
<circle cx="157.8" cy="522.9" r="3.9" fill="#000"/>
<circle cx="170.6" cy="493.7" r="3.9" fill="#000"/>
<circle cx="151.7" cy="478.1" r="3.9" fill="#000"/>
<circle cx="174.2" cy="468.6" r="3.9" fill="#000"/>
<circle cx="168.4" cy="401.2" r="3.9" fill="#000"/>
<circle cx="169.7" cy="426.1" r="3.9" fill="#000"/>
<circle cx="153.2" cy="502.1" r="3.9" fill="#000"/>
<circle cx="167.1" cy="453.5" r="3.9" fill="#000"/>
<circle cx="222.9" cy="511.1" r="3.9" fill="#000"/>
<circle cx="220.6" cy="524.5" r="3.9" fill="#000"/>
<circle cx="153.8" cy="433.9" r="3.9" fill="#000"/>
<circle cx="144.6" cy="496.3" r="3.9" fill="#000"/>
<circle cx="201.1" cy="445.5" r="3.9" fill="#000"/>
<circle cx="178.7" cy="493.2" r="3.9" fill="#000"/>
<circle cx="204.2" cy="429.5" r="3.9" fill="#000"/>
<circle cx="217.4" cy="445.6" r="3.9" fill="#000"/>
<circle cx="198.0" cy="419.2" r="3.9" fill="#000"/>
<circle cx="152.3" cy="532.5" r="3.9" fill="#000"/>
<circle cx="207.3" cy="501.5" r="3.9" fill="#000"/>
<circle cx="145.6" cy="397.2" r="3.9" fill="#000"/>
<circle cx="156.4" cy="421.7" r="3.9" fill="#000"/>
<circle cx="169.0" cy="450.0" r="3.9" fill="#000"/>
<circle cx="145.5" cy="439.2" r="3.9" fill="#000"/>
<circle cx="198.8" cy="418.8" r="3.9" fill="#000"/>
<circle cx="216.7" cy="479.4" r="3.9" fill="#000"/>
<circle cx="205.8" cy="430.5" r="3.9" fill="#000"/>
<circle cx="180.7" cy="497.1" r="3.9" fill="#000"/>
<circle cx="173.1" cy="391.2" r="3.9" fill="#000"/>
<circle cx="216.3" cy="511.4" r="3.9" fill="#000"/>
<circle cx="167.5" cy="397.7" r="3.9" fill="#000"/>
<circle cx="218.0" cy="485.1" r="3.9" fill="#000"/>
<circle cx="146.2" cy="428.9" r="3.9" fill="#000"/>
<circle cx="151.9" cy="513.7" r="3.9" fill="#000"/>
<circle cx="160.7" cy="532.7" r="3.9" fill="#000"/>
<circle cx="208.7" cy="404.4" r="3.9" fill="#000"/>
<circle cx="203.8" cy="452.0" r="3.9" fill="#000"/>
<circle cx="208.5" cy="519.5" r="3.9" fill="#000"/>
<circle cx="167.0" cy="404.9" r="3.9" fill="#000"/>
<circle cx="226.2" cy="456.7" r="3.9" fill="#000"/>
<circle cx="224.8" cy="498.2" r="3.9" fill="#000"/>
<circle cx="207.7" cy="519.6" r="3.9" fill="#000"/>
<circle cx="197.9" cy="461.2" r="3.9" fill="#000"/>
<circle cx="146.8" cy="499.2" r="3.9" fill="#000"/>
<circle cx="180.1" cy="470.3" r="3.9" fill="#000"/>
<circle cx="224.6" cy="410.8" r="3.9" fill="#000"/>
<circle cx="209.8" cy="397.8" r="3.9" fill="#000"/>
<circle cx="204.5" cy="515.9" r="3.9" fill="#000"/>
<circle cx="165.2" cy="475.7" r="3.9" fill="#000"/>
<circle cx="228.3" cy="489.8" r="3.9" fill="#000"/>
<circle cx="190.4" cy="429.7" r="3.9" fill="#000"/>
<circle cx="147.3" cy="446.5" r="3.9" fill="#000"/>
<circle cx="178.6" cy="422.2" r="3.9" fill="#000"/>
<circle cx="169.6" cy="412.2" r="3.9" fill="#000"/>
<circle cx="204.9" cy="494.9" r="3.9" fill="#000"/>
<circle cx="163.2" cy="428.5" r="3.9" fill="#000"/>
<circle cx="187.9" cy="460.0" r="3.9" fill="#000"/>
<circle cx="225.3" cy="445.5" r="3.9" fill="#000"/>
<circle cx="168.6" cy="528.1" r="3.9" fill="#000"/>
<circle cx="154.6" cy="478.3" r="3.9" fill="#000"/>
<circle cx="171.7" cy="517.4" r="3.9" fill="#000"/>
<circle cx="190.8" cy="508.9" r="3.9" fill="#000"/>
<circle cx="157.1" cy="494.3" r="3.9" fill="#000"/>
<circle cx="195.3" cy="462.5" r="3.9" fill="#000"/>
<circle cx="210.2" cy="519.8" r="3.9" fill="#000"/>
<circle cx="152.2" cy="435.8" r="3.9" fill="#000"/>
<circle cx="174.1" cy="423.0" r="3.9" fill="#000"/>
<circle cx="147.4" cy="434.5" r="3.9" fill="#000"/>
<circle cx="159.5" cy="499.8" r="3.9" fill="#000"/>
<circle cx="181.9" cy="408.5" r="3.9" fill="#000"/>
<circle cx="170.9" cy="463.6" r="3.9" fill="#000"/>
<circle cx="174.3" cy="417.1" r="3.9" fill="#000"/>
<circle cx="148.4" cy="392.7" r="3.9" fill="#000"/>
<circle cx="230.3" cy="507.3" r="3.9" fill="#000"/>
<circle cx="149.5" cy="502.2" r="3.9" fill="#000"/>
<circle cx="229.2" cy="478.4" r="3.9" fill="#000"/>
<circle cx="151.7" cy="466.8" r="3.9" fill="#000"/>
<circle cx="180.6" cy="420.4" r="3.9" fill="#000"/>
<circle cx="190.3" cy="392.3" r="3.9" fill="#000"/>
<circle cx="223.8" cy="490.9" r="3.9" fill="#000"/>
<circle cx="197.9" cy="536.0" r="3.9" fill="#000"/>
<circle cx="200.1" cy="430.0" r="3.9" fill="#000"/>
<circle cx="163.9" cy="412.5" r="3.9" fill="#000"/>
<circle cx="144.5" cy="511.0" r="3.9" fill="#000"/>
<circle cx="216.7" cy="436.9" r="3.9" fill="#000"/>
<circle cx="158.5" cy="489.9" r="3.9" fill="#000"/>
<circle cx="217.3" cy="534.6" r="3.9" fill="#000"/>
<circle cx="157.0" cy="512.6" r="3.9" fill="#000"/>
<circle cx="215.9" cy="506.1" r="3.9" fill="#000"/>
<circle cx="171.1" cy="419.6" r="3.9" fill="#000"/>
<circle cx="215.5" cy="440.6" r="3.9" fill="#000"/>
<circle cx="174.8" cy="476.4" r="3.9" fill="#000"/>
<circle cx="174.9" cy="519.9" r="3.9" fill="#000"/>
<circle cx="163.3" cy="397.4" r="3.9" fill="#000"/>
<circle cx="192.5" cy="488.4" r="3.9" fill="#000"/>
<circle cx="215.0" cy="500.4" r="3.9" fill="#000"/>
<circle cx="222.6" cy="537.5" r="3.9" fill="#000"/>
<circle cx="186.0" cy="468.4" r="3.9" fill="#000"/>
<circle cx="156.0" cy="437.4" r="3.9" fill="#000"/>
<circle cx="193.7" cy="403.4" r="3.9" fill="#000"/>
<circle cx="203.2" cy="416.4" r="3.9" fill="#000"/>
<circle cx="181.4" cy="541.3" r="3.9" fill="#000"/>
<circle cx="150.0" cy="397.2" r="3.9" fill="#000"/>
<circle cx="181.1" cy="420.6" r="3.9" fill="#000"/>
<circle cx="206.3" cy="391.4" r="3.9" fill="#000"/>
<circle cx="216.8" cy="523.6" r="3.9" fill="#000"/>
<circle cx="212.0" cy="456.9" r="3.9" fill="#000"/>
<circle cx="167.2" cy="493.6" r="3.9" fill="#000"/>
<circle cx="187.8" cy="456.3" r="3.9" fill="#000"/>
<circle cx="172.1" cy="459.0" r="3.9" fill="#000"/>
<circle cx="201.3" cy="519.0" r="3.9" fill="#000"/>
<circle cx="222.5" cy="416.5" r="3.9" fill="#000"/>
<circle cx="168.3" cy="459.7" r="3.9" fill="#000"/>
<circle cx="192.1" cy="445.0" r="3.9" fill="#000"/>
<circle cx="159.4" cy="404.2" r="3.9" fill="#000"/>
<circle cx="170.8" cy="462.4" r="3.9" fill="#000"/>
<circle cx="228.4" cy="531.8" r="3.9" fill="#000"/>
<circle cx="219.0" cy="542.0" r="3.9" fill="#000"/>
<circle cx="227.6" cy="487.1" r="3.9" fill="#000"/>
<circle cx="214.2" cy="400.3" r="3.9" fill="#000"/>
<circle cx="202.2" cy="485.4" r="3.9" fill="#000"/>
<circle cx="168.4" cy="479.5" r="3.9" fill="#000"/>
<circle cx="226.8" cy="465.5" r="3.9" fill="#000"/>
<circle cx="199.6" cy="437.4" r="3.9" fill="#000"/>
<circle cx="172.6" cy="528.2" r="3.9" fill="#000"/>
<circle cx="144.5" cy="420.3" r="3.9" fill="#000"/>
<circle cx="202.4" cy="460.3" r="3.9" fill="#000"/>
<circle cx="149.6" cy="493.4" r="3.9" fill="#000"/>
<circle cx="175.1" cy="481.0" r="3.9" fill="#000"/>
<circle cx="179.1" cy="473.1" r="3.9" fill="#000"/>
<circle cx="192.3" cy="452.4" r="3.9" fill="#000"/>
<circle cx="152.2" cy="419.0" r="3.9" fill="#000"/>
<circle cx="221.2" cy="476.0" r="3.9" fill="#000"/>
<circle cx="152.0" cy="524.6" r="3.9" fill="#000"/>
<circle cx="164.6" cy="405.7" r="3.9" fill="#000"/>
<circle cx="189.2" cy="430.0" r="3.9" fill="#000"/>
<circle cx="185.5" cy="476.9" r="3.9" fill="#000"/>
<circle cx="162.2" cy="479.8" r="3.9" fill="#000"/>
<circle cx="152.1" cy="470.5" r="3.9" fill="#000"/>
<circle cx="194.4" cy="403.4" r="3.9" fill="#000"/>
<circle cx="178.3" cy="402.4" r="3.9" fill="#000"/>
<circle cx="181.1" cy="524.8" r="3.9" fill="#000"/>
<circle cx="191.0" cy="501.8" r="3.9" fill="#000"/>
<circle cx="209.4" cy="408.8" r="3.9" fill="#000"/>
<circle cx="230.2" cy="502.8" r="3.9" fill="#000"/>
<circle cx="151.1" cy="519.7" r="3.9" fill="#000"/>
<circle cx="176.9" cy="417.5" r="3.9" fill="#000"/>
<circle cx="227.4" cy="478.3" r="3.9" fill="#000"/>
<circle cx="211.0" cy="412.2" r="3.9" fill="#000"/>
<circle cx="211.1" cy="399.9" r="3.9" fill="#000"/>
<circle cx="163.1" cy="448.7" r="3.9" fill="#000"/>
<circle cx="143.4" cy="483.1" r="3.9" fill="#000"/>
<circle cx="161.0" cy="437.5" r="3.9" fill="#000"/>
<circle cx="205.0" cy="457.0" r="3.9" fill="#000"/>
<circle cx="221.1" cy="487.3" r="3.9" fill="#000"/>
<circle cx="219.6" cy="478.3" r="3.9" fill="#000"/>
<circle cx="223.7" cy="526.0" r="3.9" fill="#000"/>
<circle cx="157.0" cy="506.5" r="3.9" fill="#000"/>
<circle cx="172.4" cy="509.4" r="3.9" fill="#000"/>
<circle cx="202.6" cy="519.0" r="3.9" fill="#000"/>
<circle cx="152.9" cy="448.8" r="3.9" fill="#000"/>
<circle cx="207.6" cy="537.9" r="3.9" fill="#000"/>
<circle cx="206.2" cy="397.7" r="3.9" fill="#000"/>
<circle cx="195.7" cy="406.4" r="3.9" fill="#000"/>
<circle cx="190.8" cy="515.5" r="3.9" fill="#000"/>
<circle cx="152.1" cy="534.4" r="3.9" fill="#000"/>
<circle cx="202.1" cy="430.5" r="3.9" fill="#000"/>
<circle cx="159.2" cy="460.2" r="3.9" fill="#000"/>
<circle cx="216.6" cy="481.1" r="3.9" fill="#000"/>
<circle cx="152.1" cy="394.2" r="3.9" fill="#000"/>
<circle cx="151.8" cy="515.1" r="3.9" fill="#000"/>
<circle cx="158.5" cy="476.9" r="3.9" fill="#000"/>
<circle cx="167.8" cy="497.5" r="3.9" fill="#000"/>
<circle cx="175.9" cy="413.4" r="3.9" fill="#000"/>
<circle cx="219.9" cy="474.5" r="3.9" fill="#000"/>
<circle cx="203.4" cy="516.3" r="3.9" fill="#000"/>
<circle cx="226.4" cy="393.1" r="3.9" fill="#000"/>
<circle cx="172.5" cy="414.4" r="3.9" fill="#000"/>
<circle cx="186.7" cy="526.3" r="3.9" fill="#000"/>
<circle cx="213.2" cy="396.5" r="3.9" fill="#000"/>
<circle cx="158.2" cy="517.8" r="3.9" fill="#000"/>
<circle cx="202.5" cy="451.8" r="3.9" fill="#000"/>
<circle cx="184.3" cy="415.5" r="3.9" fill="#000"/>
<circle cx="217.2" cy="452.0" r="3.9" fill="#000"/>
<circle cx="219.7" cy="485.7" r="3.9" fill="#000"/>
<circle cx="148.8" cy="442.0" r="3.9" fill="#000"/>
<circle cx="161.3" cy="529.6" r="3.9" fill="#000"/>
<circle cx="194.4" cy="397.8" r="3.9" fill="#000"/>
<circle cx="157.1" cy="447.0" r="3.9" fill="#000"/>
<circle cx="183.6" cy="480.4" r="3.9" fill="#000"/>
<circle cx="176.5" cy="445.8" r="3.9" fill="#000"/>
<circle cx="142.5" cy="480.8" r="3.9" fill="#000"/>
<circle cx="171.7" cy="394.2" r="3.9" fill="#000"/>
<circle cx="182.9" cy="543.9" r="3.9" fill="#000"/>
<circle cx="146.0" cy="413.6" r="3.9" fill="#000"/>
<circle cx="201.7" cy="433.3" r="3.9" fill="#000"/>
<circle cx="166.3" cy="468.5" r="3.9" fill="#000"/>
<circle cx="165.3" cy="479.2" r="3.9" fill="#000"/>
<circle cx="189.0" cy="539.3" r="3.9" fill="#000"/>
<circle cx="230.3" cy="396.3" r="3.9" fill="#000"/>
<circle cx="191.9" cy="510.5" r="3.9" fill="#000"/>
<circle cx="219.6" cy="511.0" r="3.9" fill="#000"/>
<circle cx="198.3" cy="489.4" r="3.9" fill="#000"/>
<circle cx="174.3" cy="434.6" r="3.9" fill="#000"/>
<circle cx="212.8" cy="526.3" r="3.9" fill="#000"/>
<circle cx="225.5" cy="496.6" r="3.9" fill="#000"/>
<circle cx="169.1" cy="509.3" r="3.9" fill="#000"/>
<circle cx="207.8" cy="469.9" r="3.9" fill="#000"/>
<circle cx="198.5" cy="445.3" r="3.9" fill="#000"/>
<circle cx="191.0" cy="453.9" r="3.9" fill="#000"/>
<circle cx="147.4" cy="443.3" r="3.9" fill="#000"/>
<circle cx="170.8" cy="544.2" r="3.9" fill="#000"/>
<circle cx="184.9" cy="447.9" r="3.9" fill="#000"/>
<circle cx="163.7" cy="427.4" r="3.9" fill="#000"/>
<circle cx="173.1" cy="412.0" r="3.9" fill="#000"/>
<circle cx="142.6" cy="526.0" r="3.9" fill="#000"/>
<circle cx="182.3" cy="460.1" r="3.9" fill="#000"/>
<circle cx="192.6" cy="437.9" r="3.9" fill="#000"/>
<circle cx="157.0" cy="401.3" r="3.9" fill="#000"/>
<circle cx="168.8" cy="438.8" r="3.9" fill="#000"/>
<circle cx="206.7" cy="476.4" r="3.9" fill="#000"/>
<circle cx="225.4" cy="443.8" r="3.9" fill="#000"/>
<circle cx="224.0" cy="481.4" r="3.9" fill="#000"/>
<circle cx="149.1" cy="418.7" r="3.9" fill="#000"/>
<circle cx="193.7" cy="544.1" r="3.9" fill="#000"/>
<circle cx="173.8" cy="511.0" r="3.9" fill="#000"/>
<circle cx="180.1" cy="525.6" r="3.9" fill="#000"/>
<circle cx="148.0" cy="466.1" r="3.9" fill="#000"/>
<circle cx="222.0" cy="433.8" r="3.9" fill="#000"/>
<circle cx="164.9" cy="394.6" r="3.9" fill="#000"/>
<circle cx="156.6" cy="432.5" r="3.9" fill="#000"/>
<circle cx="204.7" cy="424.8" r="3.9" fill="#000"/>
<circle cx="177.6" cy="422.1" r="3.9" fill="#000"/>
<circle cx="195.7" cy="524.9" r="3.9" fill="#000"/>
<circle cx="199.7" cy="421.5" r="3.9" fill="#000"/>
<circle cx="207.3" cy="540.3" r="3.9" fill="#000"/>
<circle cx="195.5" cy="403.3" r="3.9" fill="#000"/>
<circle cx="214.0" cy="526.7" r="3.9" fill="#000"/>
<circle cx="172.4" cy="412.2" r="3.9" fill="#000"/>
<circle cx="158.7" cy="474.2" r="3.9" fill="#000"/>
<circle cx="219.9" cy="490.2" r="3.9" fill="#000"/>
<circle cx="224.1" cy="423.9" r="3.9" fill="#000"/>
<circle cx="171.1" cy="507.1" r="3.9" fill="#000"/>
<circle cx="199.8" cy="453.8" r="3.9" fill="#000"/>
<circle cx="202.4" cy="443.4" r="3.9" fill="#000"/>
<circle cx="147.1" cy="455.2" r="3.9" fill="#000"/>
<circle cx="146.0" cy="488.1" r="3.9" fill="#000"/>
<circle cx="171.8" cy="467.6" r="3.9" fill="#000"/>
<circle cx="195.2" cy="430.8" r="3.9" fill="#000"/>
<circle cx="183.2" cy="393.1" r="3.9" fill="#000"/>
<circle cx="224.4" cy="478.4" r="3.9" fill="#000"/>
<circle cx="229.9" cy="399.7" r="3.9" fill="#000"/>
<circle cx="196.6" cy="503.2" r="3.9" fill="#000"/>
<circle cx="171.3" cy="405.5" r="3.9" fill="#000"/>
<circle cx="155.9" cy="413.1" r="3.9" fill="#000"/>
<circle cx="210.3" cy="404.9" r="3.9" fill="#000"/>
<circle cx="214.4" cy="456.6" r="3.9" fill="#000"/>
<circle cx="189.9" cy="482.2" r="3.9" fill="#000"/>
<circle cx="191.4" cy="492.9" r="3.9" fill="#000"/>
<circle cx="195.5" cy="442.3" r="3.9" fill="#000"/>
<circle cx="208.0" cy="431.0" r="3.9" fill="#000"/>
<circle cx="205.3" cy="509.3" r="3.9" fill="#000"/>
<circle cx="211.1" cy="438.9" r="3.9" fill="#000"/>
<circle cx="210.8" cy="542.5" r="3.9" fill="#000"/>
<circle cx="182.3" cy="434.1" r="3.9" fill="#000"/>
<circle cx="188.6" cy="536.8" r="3.9" fill="#000"/>
<circle cx="153.7" cy="392.4" r="3.9" fill="#000"/>
<circle cx="184.3" cy="492.6" r="3.9" fill="#000"/>
<circle cx="210.9" cy="447.2" r="3.9" fill="#000"/>
<circle cx="230.1" cy="426.4" r="3.9" fill="#000"/>
<circle cx="209.3" cy="404.9" r="3.9" fill="#000"/>
<circle cx="144.5" cy="411.8" r="3.9" fill="#000"/>
<circle cx="147.4" cy="468.8" r="3.9" fill="#000"/>
<circle cx="191.4" cy="419.2" r="3.9" fill="#000"/>
<circle cx="225.6" cy="447.7" r="3.9" fill="#000"/>
<circle cx="155.3" cy="418.5" r="3.9" fill="#000"/>
<circle cx="207.7" cy="533.8" r="3.9" fill="#000"/>
<circle cx="156.4" cy="395.5" r="3.9" fill="#000"/>
<circle cx="211.3" cy="428.6" r="3.9" fill="#000"/>
<circle cx="229.4" cy="468.3" r="3.9" fill="#000"/>
<circle cx="198.6" cy="444.4" r="3.9" fill="#000"/>
<circle cx="213.2" cy="462.3" r="3.9" fill="#000"/>
<circle cx="170.8" cy="531.0" r="3.9" fill="#000"/>
<circle cx="151.6" cy="504.7" r="3.9" fill="#000"/>
<circle cx="147.8" cy="491.0" r="3.9" fill="#000"/>
<circle cx="177.8" cy="524.9" r="3.9" fill="#000"/>
<circle cx="147.3" cy="478.5" r="3.9" fill="#000"/>
<circle cx="178.5" cy="533.5" r="3.9" fill="#000"/>
<circle cx="226.1" cy="488.2" r="3.9" fill="#000"/>
<circle cx="161.9" cy="430.0" r="3.9" fill="#000"/>
<circle cx="165.3" cy="458.2" r="3.9" fill="#000"/>
<circle cx="162.6" cy="422.5" r="3.9" fill="#000"/>
<circle cx="209.6" cy="490.6" r="3.9" fill="#000"/>
<circle cx="168.6" cy="545.1" r="3.9" fill="#000"/>
<circle cx="161.3" cy="479.3" r="3.9" fill="#000"/>
<circle cx="155.9" cy="524.8" r="3.9" fill="#000"/>
<circle cx="219.4" cy="432.4" r="3.9" fill="#000"/>
<circle cx="208.9" cy="518.5" r="3.9" fill="#000"/>
<circle cx="167.1" cy="442.4" r="3.9" fill="#000"/>
<circle cx="185.2" cy="529.1" r="3.9" fill="#000"/>
<circle cx="156.4" cy="496.8" r="3.9" fill="#000"/>
<circle cx="195.2" cy="461.2" r="3.9" fill="#000"/>
<circle cx="193.6" cy="527.8" r="3.9" fill="#000"/>
<circle cx="160.7" cy="528.0" r="3.9" fill="#000"/>
<circle cx="174.1" cy="511.9" r="3.9" fill="#000"/>
<circle cx="218.8" cy="419.3" r="3.9" fill="#000"/>
<circle cx="218.9" cy="545.2" r="3.9" fill="#000"/>
<circle cx="168.5" cy="394.8" r="3.9" fill="#000"/>
<circle cx="151.9" cy="542.0" r="3.9" fill="#000"/>
<circle cx="142.8" cy="532.3" r="3.9" fill="#000"/>
<circle cx="155.4" cy="505.1" r="3.9" fill="#000"/>
<circle cx="150.7" cy="417.2" r="3.9" fill="#000"/>
<circle cx="202.8" cy="405.0" r="3.9" fill="#000"/>
<circle cx="172.2" cy="533.4" r="3.9" fill="#000"/>
<circle cx="205.8" cy="527.7" r="3.9" fill="#000"/>
<circle cx="229.2" cy="396.1" r="3.9" fill="#000"/>
<circle cx="162.9" cy="513.8" r="3.9" fill="#000"/>
<circle cx="203.4" cy="396.9" r="3.9" fill="#000"/>
<circle cx="186.9" cy="426.9" r="3.9" fill="#000"/>
<circle cx="180.3" cy="407.3" r="3.9" fill="#000"/>
<circle cx="143.8" cy="544.6" r="3.9" fill="#000"/>
<circle cx="170.2" cy="527.2" r="3.9" fill="#000"/>
<circle cx="152.7" cy="466.5" r="3.9" fill="#000"/>
<circle cx="154.1" cy="457.4" r="3.9" fill="#000"/>
<circle cx="157.9" cy="497.2" r="3.9" fill="#000"/>
<circle cx="155.2" cy="505.4" r="3.9" fill="#000"/>
<circle cx="186.6" cy="408.4" r="3.9" fill="#000"/>
<circle cx="173.5" cy="467.9" r="3.9" fill="#000"/>
<circle cx="223.8" cy="445.2" r="3.9" fill="#000"/>
<circle cx="161.1" cy="541.0" r="3.9" fill="#000"/>
<circle cx="220.6" cy="504.4" r="3.9" fill="#000"/>
<circle cx="166.3" cy="418.5" r="3.9" fill="#000"/>
<circle cx="165.6" cy="401.7" r="3.9" fill="#000"/>
<circle cx="145.8" cy="469.9" r="3.9" fill="#000"/>
<circle cx="178.3" cy="477.3" r="3.9" fill="#000"/>
<circle cx="174.3" cy="392.6" r="3.9" fill="#000"/>
<circle cx="203.2" cy="492.2" r="3.9" fill="#000"/>
<circle cx="190.4" cy="476.1" r="3.9" fill="#000"/>
<circle cx="203.4" cy="543.3" r="3.9" fill="#000"/>
<circle cx="219.8" cy="502.3" r="3.9" fill="#000"/>
<circle cx="177.5" cy="440.3" r="3.9" fill="#000"/>
<circle cx="179.3" cy="541.8" r="3.9" fill="#000"/>
<circle cx="176.4" cy="450.7" r="3.9" fill="#000"/>
<circle cx="178.5" cy="413.2" r="3.9" fill="#000"/>
<circle cx="230.9" cy="391.8" r="3.9" fill="#000"/>
<circle cx="196.1" cy="534.6" r="3.9" fill="#000"/>
<circle cx="164.7" cy="485.7" r="3.9" fill="#000"/>
<circle cx="176.3" cy="436.3" r="3.9" fill="#000"/>
<circle cx="161.5" cy="420.1" r="3.9" fill="#000"/>
<circle cx="215.0" cy="506.9" r="3.9" fill="#000"/>
<circle cx="220.4" cy="411.4" r="3.9" fill="#000"/>
<circle cx="202.6" cy="447.2" r="3.9" fill="#000"/>
<circle cx="198.6" cy="476.4" r="3.9" fill="#000"/>
<circle cx="171.2" cy="531.3" r="3.9" fill="#000"/>
<circle cx="145.1" cy="502.0" r="3.9" fill="#000"/>
<circle cx="215.8" cy="471.3" r="3.9" fill="#000"/>
<circle cx="194.2" cy="534.3" r="3.9" fill="#000"/>
<circle cx="164.5" cy="486.8" r="3.9" fill="#000"/>
<circle cx="206.7" cy="454.2" r="3.9" fill="#000"/>
<circle cx="204.1" cy="456.2" r="3.9" fill="#000"/>
<circle cx="188.7" cy="484.7" r="3.9" fill="#000"/>
<circle cx="201.2" cy="446.9" r="3.9" fill="#000"/>
<circle cx="197.2" cy="475.6" r="3.9" fill="#000"/>
<circle cx="163.5" cy="484.6" r="3.9" fill="#000"/>
<circle cx="167.0" cy="523.1" r="3.9" fill="#000"/>
<circle cx="184.3" cy="498.8" r="3.9" fill="#000"/>
<circle cx="188.3" cy="467.0" r="3.9" fill="#000"/>
<circle cx="163.4" cy="423.5" r="3.9" fill="#000"/>
<circle cx="222.0" cy="473.7" r="3.9" fill="#000"/>
<circle cx="188.5" cy="473.6" r="3.9" fill="#000"/>
<circle cx="212.5" cy="436.0" r="3.9" fill="#000"/>
<circle cx="159.3" cy="511.8" r="3.9" fill="#000"/>
<circle cx="183.2" cy="488.3" r="3.9" fill="#000"/>
<circle cx="213.7" cy="521.2" r="3.9" fill="#000"/>
<circle cx="217.0" cy="410.6" r="3.9" fill="#000"/>
<circle cx="176.6" cy="513.2" r="3.9" fill="#000"/>
<circle cx="212.9" cy="421.0" r="3.9" fill="#000"/>
<circle cx="157.8" cy="437.7" r="3.9" fill="#000"/>
<circle cx="153.5" cy="451.4" r="3.9" fill="#000"/>
<circle cx="211.7" cy="472.8" r="3.9" fill="#000"/>
<circle cx="182.6" cy="416.4" r="3.9" fill="#000"/>
<circle cx="177.8" cy="534.6" r="3.9" fill="#000"/>
<circle cx="202.7" cy="463.4" r="3.9" fill="#000"/>
<circle cx="184.7" cy="508.8" r="3.9" fill="#000"/>
<circle cx="208.0" cy="424.5" r="3.9" fill="#000"/>
<circle cx="201.5" cy="452.7" r="3.9" fill="#000"/>
<circle cx="188.2" cy="435.9" r="3.9" fill="#000"/>
<circle cx="175.8" cy="449.2" r="3.9" fill="#000"/>
<circle cx="176.6" cy="407.3" r="3.9" fill="#000"/>
<circle cx="161.7" cy="479.2" r="3.9" fill="#000"/>
<circle cx="149.8" cy="428.2" r="3.9" fill="#000"/>
<circle cx="204.6" cy="440.7" r="3.9" fill="#000"/>
<circle cx="171.9" cy="436.4" r="3.9" fill="#000"/>
<circle cx="214.2" cy="416.9" r="3.9" fill="#000"/>
<circle cx="197.8" cy="516.7" r="3.9" fill="#000"/>
<circle cx="161.7" cy="460.0" r="3.9" fill="#000"/>
<circle cx="210.8" cy="485.3" r="3.9" fill="#000"/>
<circle cx="175.8" cy="410.7" r="3.9" fill="#000"/>
<circle cx="181.7" cy="452.7" r="3.9" fill="#000"/>
<circle cx="204.1" cy="443.4" r="3.9" fill="#000"/>
<circle cx="178.9" cy="489.3" r="3.9" fill="#000"/>
<circle cx="212.3" cy="450.8" r="3.9" fill="#000"/>
<circle cx="177.0" cy="480.2" r="3.9" fill="#000"/>
<circle cx="221.8" cy="429.9" r="3.9" fill="#000"/>
<circle cx="225.6" cy="497.5" r="3.9" fill="#000"/>
<circle cx="175.9" cy="491.5" r="3.9" fill="#000"/>
<circle cx="172.3" cy="414.2" r="3.9" fill="#000"/>
<circle cx="207.8" cy="454.3" r="3.9" fill="#000"/>
<circle cx="188.6" cy="469.6" r="3.9" fill="#000"/>
<circle cx="219.8" cy="503.4" r="3.9" fill="#000"/>
<circle cx="147.1" cy="482.1" r="3.9" fill="#000"/>
<circle cx="183.4" cy="465.1" r="3.9" fill="#000"/>
<circle cx="214.7" cy="458.9" r="3.9" fill="#000"/>
<circle cx="184.3" cy="520.7" r="3.9" fill="#000"/>
<circle cx="181.5" cy="468.9" r="3.9" fill="#000"/>
<circle cx="187.5" cy="512.2" r="3.9" fill="#000"/>
<circle cx="200.6" cy="501.3" r="3.9" fill="#000"/>
<circle cx="178.3" cy="410.3" r="3.9" fill="#000"/>
<circle cx="201.4" cy="477.0" r="3.9" fill="#000"/>
<circle cx="208.8" cy="505.1" r="3.9" fill="#000"/>
<circle cx="154.8" cy="433.7" r="3.9" fill="#000"/>
<circle cx="151.4" cy="511.3" r="3.9" fill="#000"/>
<circle cx="153.4" cy="416.5" r="3.9" fill="#000"/>
<circle cx="207.5" cy="478.4" r="3.9" fill="#000"/>
<circle cx="149.6" cy="493.5" r="3.9" fill="#000"/>
<circle cx="204.0" cy="467.8" r="3.9" fill="#000"/>
<circle cx="149.5" cy="494.8" r="3.9" fill="#000"/>
<circle cx="179.7" cy="480.9" r="3.9" fill="#000"/>
<circle cx="227.8" cy="511.2" r="3.9" fill="#000"/>
<circle cx="217.4" cy="423.9" r="3.9" fill="#000"/>
<circle cx="172.7" cy="472.4" r="3.9" fill="#000"/>
<circle cx="145.5" cy="533.5" r="3.9" fill="#000"/>
<circle cx="167.8" cy="439.1" r="3.9" fill="#000"/>
<circle cx="171.0" cy="438.2" r="3.9" fill="#000"/>
<circle cx="216.3" cy="477.2" r="3.9" fill="#000"/>
<circle cx="187.4" cy="459.6" r="3.9" fill="#000"/>
<circle cx="149.2" cy="444.6" r="3.9" fill="#000"/>
<circle cx="216.9" cy="509.3" r="3.9" fill="#000"/>
<circle cx="216.1" cy="438.4" r="3.9" fill="#000"/>
<circle cx="161.8" cy="411.8" r="3.9" fill="#000"/>
<circle cx="189.6" cy="453.6" r="3.9" fill="#000"/>
<circle cx="183.5" cy="468.6" r="3.9" fill="#000"/>
<circle cx="193.5" cy="452.5" r="3.9" fill="#000"/>
<circle cx="211.5" cy="431.0" r="3.9" fill="#000"/>
<circle cx="221.3" cy="477.3" r="3.9" fill="#000"/>
<circle cx="149.2" cy="445.9" r="3.9" fill="#000"/>
<circle cx="189.2" cy="458.2" r="3.9" fill="#000"/>
<circle cx="191.9" cy="447.1" r="3.9" fill="#000"/>
<circle cx="167.7" cy="508.5" r="3.9" fill="#000"/>
<circle cx="169.2" cy="497.4" r="3.9" fill="#000"/>
<circle cx="211.6" cy="482.0" r="3.9" fill="#000"/>
<circle cx="182.7" cy="526.5" r="3.9" fill="#000"/>
<circle cx="181.9" cy="519.1" r="3.9" fill="#000"/>
<circle cx="149.8" cy="461.4" r="3.9" fill="#000"/>
<circle cx="198.1" cy="411.4" r="3.9" fill="#000"/>
<circle cx="216.6" cy="414.4" r="3.9" fill="#000"/>
<circle cx="194.5" cy="428.4" r="3.9" fill="#000"/>
<circle cx="221.6" cy="477.9" r="3.9" fill="#000"/>
<circle cx="211.5" cy="469.8" r="3.9" fill="#000"/>
<circle cx="200.9" cy="492.7" r="3.9" fill="#000"/>
<circle cx="169.5" cy="432.4" r="3.9" fill="#000"/>
<circle cx="214.6" cy="424.0" r="3.9" fill="#000"/>
<circle cx="221.2" cy="431.9" r="3.9" fill="#000"/>
<circle cx="153.4" cy="417.4" r="3.9" fill="#000"/>
<circle cx="210.1" cy="528.6" r="3.9" fill="#000"/>
<circle cx="179.4" cy="490.7" r="3.9" fill="#000"/>
<circle cx="166.4" cy="522.8" r="3.9" fill="#000"/>
<circle cx="201.9" cy="425.1" r="3.9" fill="#000"/>
<circle cx="149.7" cy="495.4" r="3.9" fill="#000"/>
<circle cx="148.5" cy="513.7" r="3.9" fill="#000"/>
<circle cx="169.4" cy="435.2" r="3.9" fill="#000"/>
<circle cx="193.3" cy="446.4" r="3.9" fill="#000"/>
<circle cx="191.5" cy="425.0" r="3.9" fill="#000"/>
<circle cx="220.7" cy="447.2" r="3.9" fill="#000"/>
<circle cx="214.8" cy="424.7" r="3.9" fill="#000"/>
<circle cx="211.3" cy="532.4" r="3.9" fill="#000"/>
<circle cx="177.5" cy="409.3" r="3.9" fill="#000"/>
<circle cx="176.5" cy="488.3" r="3.9" fill="#000"/>
<circle cx="163.5" cy="475.9" r="3.9" fill="#000"/>
<circle cx="152.8" cy="465.4" r="3.9" fill="#000"/>
<circle cx="205.4" cy="460.9" r="3.9" fill="#000"/>
<circle cx="201.3" cy="419.9" r="3.9" fill="#000"/>
<circle cx="213.8" cy="420.9" r="3.9" fill="#000"/>
<circle cx="221.6" cy="534.5" r="3.9" fill="#000"/>
<circle cx="223.0" cy="473.4" r="3.9" fill="#000"/>
<circle cx="169.1" cy="450.2" r="3.9" fill="#000"/>
<circle cx="207.3" cy="469.6" r="3.9" fill="#000"/>
<circle cx="222.2" cy="417.1" r="3.9" fill="#000"/>
<circle cx="185.2" cy="517.3" r="3.9" fill="#000"/>
<circle cx="194.6" cy="475.3" r="3.9" fill="#000"/>
<circle cx="152.3" cy="423.2" r="3.9" fill="#000"/>
<circle cx="167.5" cy="521.1" r="3.9" fill="#000"/>
<circle cx="215.2" cy="434.5" r="3.9" fill="#000"/>
<circle cx="221.7" cy="409.2" r="3.9" fill="#000"/>
<circle cx="194.7" cy="530.8" r="3.9" fill="#000"/>
<circle cx="173.6" cy="527.8" r="3.9" fill="#000"/>
<circle cx="199.5" cy="411.5" r="3.9" fill="#000"/>
<circle cx="172.7" cy="463.5" r="3.9" fill="#000"/>
<circle cx="165.5" cy="501.5" r="3.9" fill="#000"/>
<circle cx="159.8" cy="507.4" r="3.9" fill="#000"/>
<circle cx="169.8" cy="414.0" r="3.9" fill="#000"/>
<circle cx="191.4" cy="417.4" r="3.9" fill="#000"/>
<circle cx="190.8" cy="507.4" r="3.9" fill="#000"/>
<circle cx="194.4" cy="465.0" r="3.9" fill="#000"/>
<circle cx="147.8" cy="471.7" r="3.9" fill="#000"/>
<circle cx="153.1" cy="489.1" r="3.9" fill="#000"/>
<circle cx="156.0" cy="480.1" r="3.9" fill="#000"/>
<circle cx="174.3" cy="453.7" r="3.9" fill="#000"/>
<circle cx="200.0" cy="426.3" r="3.9" fill="#000"/>
<circle cx="159.1" cy="527.4" r="3.9" fill="#000"/>
<circle cx="172.5" cy="514.5" r="3.9" fill="#000"/>
<circle cx="217.5" cy="467.4" r="3.9" fill="#000"/>
<circle cx="157.4" cy="417.2" r="3.9" fill="#000"/>
<circle cx="218.0" cy="420.2" r="3.9" fill="#000"/>
<circle cx="186.2" cy="474.7" r="3.9" fill="#000"/>
<circle cx="154.8" cy="465.8" r="3.9" fill="#000"/>
<circle cx="158.6" cy="474.6" r="3.9" fill="#000"/>
<circle cx="187.1" cy="452.7" r="3.9" fill="#000"/>
<circle cx="161.4" cy="457.5" r="3.9" fill="#000"/>
<circle cx="161.9" cy="421.5" r="3.9" fill="#000"/>
<circle cx="164.9" cy="518.3" r="3.9" fill="#000"/>
<circle cx="186.6" cy="520.8" r="3.9" fill="#000"/>
<circle cx="146.3" cy="527.6" r="3.9" fill="#000"/>
<circle cx="185.5" cy="507.8" r="3.9" fill="#000"/>
<circle cx="192.3" cy="494.6" r="3.9" fill="#000"/>
<circle cx="164.0" cy="502.5" r="3.9" fill="#000"/>
<circle cx="157.8" cy="439.3" r="3.9" fill="#000"/>
<circle cx="147.6" cy="456.1" r="3.9" fill="#000"/>
<circle cx="188.0" cy="443.0" r="3.9" fill="#000"/>
<circle cx="218.9" cy="416.0" r="3.9" fill="#000"/>
<circle cx="193.0" cy="435.4" r="3.9" fill="#000"/>
<circle cx="194.4" cy="506.9" r="3.9" fill="#000"/>
<circle cx="204.0" cy="413.1" r="3.9" fill="#000"/>
<circle cx="165.4" cy="482.9" r="3.9" fill="#000"/>
<circle cx="226.6" cy="410.4" r="3.9" fill="#000"/>
<circle cx="196.3" cy="494.9" r="3.9" fill="#000"/>
<circle cx="212.6" cy="449.5" r="3.9" fill="#000"/>
<circle cx="212.3" cy="465.0" r="3.9" fill="#000"/>
<circle cx="221.4" cy="406.4" r="3.9" fill="#000"/>
<circle cx="223.0" cy="458.6" r="3.9" fill="#000"/>
<circle cx="178.8" cy="416.4" r="3.9" fill="#000"/>
<circle cx="165.3" cy="500.4" r="3.9" fill="#000"/>
<circle cx="201.3" cy="424.7" r="3.9" fill="#000"/>
<circle cx="173.6" cy="423.2" r="3.9" fill="#000"/>
<circle cx="161.5" cy="433.6" r="3.9" fill="#000"/>
<circle cx="172.5" cy="531.9" r="3.9" fill="#000"/>
<circle cx="227.8" cy="507.9" r="3.9" fill="#000"/>
<circle cx="184.8" cy="469.7" r="3.9" fill="#000"/>
<circle cx="209.7" cy="523.1" r="3.9" fill="#000"/>
<circle cx="207.4" cy="487.7" r="3.9" fill="#000"/>
<circle cx="161.5" cy="486.3" r="3.9" fill="#000"/>
<circle cx="215.2" cy="507.3" r="3.9" fill="#000"/>
<circle cx="152.7" cy="498.3" r="3.9" fill="#000"/>
<circle cx="174.0" cy="426.1" r="3.9" fill="#000"/>
<circle cx="225.2" cy="492.5" r="3.9" fill="#000"/>
<circle cx="206.9" cy="422.5" r="3.9" fill="#000"/>
<circle cx="213.8" cy="526.8" r="3.9" fill="#000"/>
<circle cx="220.1" cy="501.8" r="3.9" fill="#000"/>
<circle cx="214.1" cy="509.3" r="3.9" fill="#000"/>
<circle cx="194.0" cy="461.6" r="3.9" fill="#000"/>
<circle cx="213.5" cy="507.0" r="3.9" fill="#000"/>
<circle cx="217.3" cy="443.9" r="3.9" fill="#000"/>
<circle cx="224.8" cy="474.1" r="3.9" fill="#000"/>
<circle cx="223.5" cy="420.1" r="3.9" fill="#000"/>
<circle cx="225.4" cy="507.4" r="3.9" fill="#000"/>
<circle cx="165.9" cy="514.0" r="3.9" fill="#000"/>
<circle cx="164.3" cy="430.7" r="3.9" fill="#000"/>
<circle cx="183.0" cy="435.8" r="3.9" fill="#000"/>
<circle cx="185.9" cy="523.1" r="3.9" fill="#000"/>
<circle cx="201.9" cy="497.4" r="3.9" fill="#000"/>
<circle cx="177.5" cy="506.9" r="3.9" fill="#000"/>
<circle cx="210.9" cy="493.8" r="3.9" fill="#000"/>
<circle cx="223.2" cy="512.4" r="3.9" fill="#000"/>
<circle cx="178.7" cy="416.3" r="3.9" fill="#000"/>
<circle cx="199.2" cy="513.7" r="3.9" fill="#000"/>
<circle cx="173.2" cy="482.3" r="3.9" fill="#000"/>
<circle cx="214.4" cy="508.1" r="3.9" fill="#000"/>
<circle cx="145.4" cy="468.6" r="3.9" fill="#000"/>
<circle cx="146.4" cy="419.4" r="3.9" fill="#000"/>
<circle cx="212.4" cy="459.4" r="3.9" fill="#000"/>
<circle cx="195.2" cy="464.5" r="3.9" fill="#000"/>
<circle cx="172.8" cy="432.8" r="3.9" fill="#000"/>
<circle cx="174.4" cy="514.8" r="3.9" fill="#000"/>
<circle cx="196.4" cy="443.0" r="3.9" fill="#000"/>
<circle cx="152.3" cy="440.2" r="3.9" fill="#000"/>
<circle cx="203.2" cy="462.5" r="3.9" fill="#000"/>
<circle cx="199.9" cy="509.9" r="3.9" fill="#000"/>
<circle cx="155.0" cy="493.8" r="3.9" fill="#000"/>
<circle cx="148.4" cy="512.0" r="3.9" fill="#000"/>
<circle cx="160.3" cy="440.3" r="3.9" fill="#000"/>
<circle cx="224.5" cy="452.1" r="3.9" fill="#000"/>
<circle cx="163.6" cy="520.7" r="3.9" fill="#000"/>
<circle cx="195.7" cy="521.2" r="3.9" fill="#000"/>
<circle cx="177.7" cy="470.0" r="3.9" fill="#000"/>
<circle cx="224.3" cy="470.9" r="3.9" fill="#000"/>
<circle cx="227.0" cy="429.6" r="3.9" fill="#000"/>
<circle cx="213.9" cy="426.1" r="3.9" fill="#000"/>
<circle cx="188.8" cy="405.0" r="3.9" fill="#000"/>
<circle cx="159.6" cy="527.9" r="3.9" fill="#000"/>
<circle cx="182.7" cy="510.2" r="3.9" fill="#000"/>
<circle cx="165.8" cy="450.8" r="3.9" fill="#000"/>
<circle cx="153.4" cy="476.8" r="3.9" fill="#000"/>
<circle cx="216.6" cy="471.8" r="3.9" fill="#000"/>
<circle cx="176.3" cy="525.7" r="3.9" fill="#000"/>
<circle cx="219.2" cy="491.6" r="3.9" fill="#000"/>
<circle cx="151.3" cy="486.1" r="3.9" fill="#000"/>
<circle cx="181.9" cy="529.5" r="3.9" fill="#000"/>
<circle cx="175.0" cy="491.0" r="3.9" fill="#000"/>
<circle cx="197.4" cy="453.9" r="3.9" fill="#000"/>
<circle cx="188.3" cy="493.0" r="3.9" fill="#000"/>
<circle cx="220.3" cy="469.8" r="3.9" fill="#000"/>
<circle cx="175.2" cy="531.9" r="3.9" fill="#000"/>
<circle cx="149.7" cy="513.5" r="3.9" fill="#000"/>
<circle cx="201.7" cy="477.5" r="3.9" fill="#000"/>
<circle cx="182.2" cy="502.6" r="3.9" fill="#000"/>
<circle cx="219.0" cy="499.8" r="3.9" fill="#000"/>
<circle cx="207.2" cy="409.6" r="3.9" fill="#000"/>
<circle cx="172.0" cy="422.8" r="3.9" fill="#000"/>
<circle cx="224.1" cy="520.9" r="3.9" fill="#000"/>
<circle cx="157.0" cy="481.4" r="3.9" fill="#000"/>
<circle cx="192.9" cy="411.1" r="3.9" fill="#000"/>
<circle cx="177.6" cy="502.2" r="3.9" fill="#000"/>
<circle cx="198.2" cy="441.5" r="3.9" fill="#000"/>
<circle cx="208.3" cy="442.9" r="3.9" fill="#000"/>
<circle cx="190.2" cy="459.7" r="3.9" fill="#000"/>
<circle cx="226.2" cy="489.3" r="3.9" fill="#000"/>
<circle cx="211.8" cy="492.9" r="3.9" fill="#000"/>
<circle cx="176.6" cy="530.2" r="3.9" fill="#000"/>
<circle cx="203.9" cy="494.8" r="3.9" fill="#000"/>
<circle cx="168.0" cy="426.0" r="3.9" fill="#000"/>
<circle cx="192.7" cy="512.4" r="3.9" fill="#000"/>
<circle cx="210.9" cy="450.1" r="3.9" fill="#000"/>
<circle cx="156.6" cy="472.1" r="3.9" fill="#000"/>
<circle cx="217.8" cy="426.1" r="3.9" fill="#000"/>
<circle cx="206.3" cy="427.2" r="3.9" fill="#000"/>
<circle cx="170.9" cy="412.0" r="3.9" fill="#000"/>
<circle cx="169.7" cy="454.8" r="3.9" fill="#000"/>
<circle cx="225.3" cy="530.1" r="3.9" fill="#000"/>
<circle cx="160.5" cy="445.2" r="3.9" fill="#000"/>
<circle cx="223.3" cy="430.7" r="3.9" fill="#000"/>
<circle cx="171.6" cy="462.0" r="3.9" fill="#000"/>
<circle cx="154.0" cy="438.8" r="3.9" fill="#000"/>
<circle cx="177.7" cy="455.1" r="3.9" fill="#000"/>
<circle cx="225.0" cy="439.7" r="3.9" fill="#000"/>
<circle cx="161.9" cy="523.1" r="3.9" fill="#000"/>
<circle cx="182.4" cy="513.8" r="3.9" fill="#000"/>
<circle cx="197.9" cy="506.2" r="3.9" fill="#000"/>
<circle cx="171.1" cy="424.8" r="3.9" fill="#000"/>
<circle cx="207.8" cy="466.1" r="3.9" fill="#000"/>
<circle cx="191.4" cy="492.2" r="3.9" fill="#000"/>
<circle cx="207.5" cy="440.8" r="3.9" fill="#000"/>
<circle cx="175.1" cy="524.3" r="3.9" fill="#000"/>
<circle cx="188.9" cy="442.5" r="3.9" fill="#000"/>
<circle cx="197.3" cy="438.8" r="3.9" fill="#000"/>
<circle cx="209.0" cy="410.4" r="3.9" fill="#000"/>
<circle cx="213.6" cy="478.6" r="3.9" fill="#000"/>
<circle cx="174.4" cy="527.2" r="3.9" fill="#000"/>
<circle cx="167.0" cy="436.6" r="3.9" fill="#000"/>
<circle cx="150.8" cy="476.3" r="3.9" fill="#000"/>
<circle cx="207.6" cy="493.1" r="3.9" fill="#000"/>
<circle cx="179.3" cy="510.0" r="3.9" fill="#000"/>
<circle cx="154.2" cy="444.9" r="3.9" fill="#000"/>
<circle cx="198.5" cy="530.7" r="3.9" fill="#000"/>
<circle cx="197.6" cy="495.0" r="3.9" fill="#000"/>
<circle cx="209.3" cy="456.3" r="3.9" fill="#000"/>
<circle cx="223.0" cy="501.5" r="3.9" fill="#000"/>
<circle cx="173.4" cy="456.0" r="3.9" fill="#000"/>
<circle cx="211.9" cy="450.5" r="3.9" fill="#000"/>
<circle cx="160.4" cy="518.3" r="3.9" fill="#000"/>
<circle cx="189.1" cy="472.8" r="3.9" fill="#000"/>
<circle cx="200.6" cy="522.2" r="3.9" fill="#000"/>
<circle cx="156.1" cy="449.0" r="3.9" fill="#000"/>
<circle cx="150.5" cy="458.7" r="3.9" fill="#000"/>
<circle cx="186.7" cy="515.8" r="3.9" fill="#000"/>
<circle cx="200.4" cy="480.1" r="3.9" fill="#000"/>
<circle cx="178.5" cy="479.6" r="3.9" fill="#000"/>
<circle cx="167.7" cy="514.8" r="3.9" fill="#000"/>
<circle cx="210.4" cy="514.0" r="3.9" fill="#000"/>
<circle cx="157.5" cy="492.3" r="3.9" fill="#000"/>
<circle cx="207.6" cy="470.1" r="3.9" fill="#000"/>
<circle cx="219.6" cy="521.8" r="3.9" fill="#000"/>
<circle cx="206.7" cy="511.7" r="3.9" fill="#000"/>
<circle cx="198.9" cy="519.2" r="3.9" fill="#000"/>
<circle cx="155.9" cy="496.5" r="3.9" fill="#000"/>
<circle cx="203.4" cy="484.6" r="3.9" fill="#000"/>
<circle cx="167.8" cy="413.8" r="3.9" fill="#000"/>
<circle cx="195.1" cy="512.2" r="3.9" fill="#000"/>
<circle cx="167.7" cy="432.7" r="3.9" fill="#000"/>
<circle cx="163.6" cy="417.2" r="3.9" fill="#000"/>
<circle cx="201.1" cy="531.7" r="3.9" fill="#000"/>
<circle cx="211.6" cy="451.8" r="3.9" fill="#000"/>
<circle cx="203.1" cy="414.4" r="3.9" fill="#000"/>
<circle cx="214.6" cy="447.3" r="3.9" fill="#000"/>
<circle cx="145.3" cy="486.8" r="3.9" fill="#000"/>
<circle cx="156.5" cy="440.8" r="3.9" fill="#000"/>
<circle cx="149.9" cy="462.9" r="3.9" fill="#000"/>
<circle cx="191.1" cy="510.0" r="3.9" fill="#000"/>
<circle cx="148.3" cy="512.6" r="3.9" fill="#000"/>
<circle cx="154.2" cy="434.2" r="3.9" fill="#000"/>
<circle cx="197.2" cy="449.2" r="3.9" fill="#000"/>
<circle cx="172.5" cy="478.9" r="3.9" fill="#000"/>
<circle cx="163.1" cy="508.2" r="3.9" fill="#000"/>
<circle cx="162.3" cy="514.1" r="3.9" fill="#000"/>
<circle cx="212.1" cy="474.8" r="3.9" fill="#000"/>
<circle cx="147.5" cy="506.2" r="3.9" fill="#000"/>
<circle cx="147.4" cy="470.6" r="3.9" fill="#000"/>
<circle cx="180.2" cy="413.2" r="3.9" fill="#000"/>
<circle cx="197.3" cy="499.2" r="3.9" fill="#000"/>
<circle cx="193.5" cy="457.0" r="3.9" fill="#000"/>
<circle cx="187.5" cy="481.5" r="3.9" fill="#000"/>
<circle cx="163.8" cy="517.8" r="3.9" fill="#000"/>
<circle cx="227.6" cy="509.5" r="3.9" fill="#000"/>
<circle cx="224.8" cy="447.8" r="3.9" fill="#000"/>
<circle cx="226.9" cy="414.3" r="3.9" fill="#000"/>
<circle cx="184.7" cy="422.4" r="3.9" fill="#000"/>
<circle cx="182.7" cy="493.7" r="3.9" fill="#000"/>
<circle cx="203.8" cy="464.1" r="3.9" fill="#000"/>
<circle cx="173.4" cy="429.7" r="3.9" fill="#000"/>
<circle cx="178.4" cy="441.7" r="3.9" fill="#000"/>
<circle cx="161.1" cy="500.7" r="3.9" fill="#000"/>
<circle cx="187.8" cy="462.0" r="3.9" fill="#000"/>
<circle cx="161.4" cy="496.5" r="3.9" fill="#000"/>
<circle cx="161.3" cy="439.5" r="3.9" fill="#000"/>
<circle cx="191.5" cy="496.2" r="3.9" fill="#000"/>
<circle cx="225.8" cy="502.2" r="3.9" fill="#000"/>
<circle cx="223.7" cy="524.6" r="3.9" fill="#000"/>
<circle cx="205.0" cy="498.5" r="3.9" fill="#000"/>
<circle cx="150.2" cy="431.7" r="3.9" fill="#000"/>
<circle cx="146.1" cy="517.3" r="3.9" fill="#000"/>
<circle cx="204.9" cy="486.9" r="3.9" fill="#000"/>
<circle cx="166.9" cy="451.2" r="3.9" fill="#000"/>
<circle cx="158.6" cy="487.2" r="3.9" fill="#000"/>
<circle cx="227.3" cy="444.7" r="3.9" fill="#000"/>
<circle cx="148.7" cy="427.8" r="3.9" fill="#000"/>
<circle cx="174.5" cy="521.9" r="3.9" fill="#000"/>
<circle cx="211.8" cy="464.2" r="3.9" fill="#000"/>
<circle cx="153.5" cy="418.9" r="3.9" fill="#000"/>
<circle cx="157.8" cy="506.1" r="3.9" fill="#000"/>
<circle cx="184.1" cy="533.8" r="3.9" fill="#000"/>
<circle cx="220.7" cy="508.3" r="3.9" fill="#000"/>
<circle cx="184.5" cy="511.8" r="3.9" fill="#000"/>
<circle cx="155.6" cy="419.2" r="3.9" fill="#000"/>
<circle cx="191.8" cy="471.0" r="3.9" fill="#000"/>
<circle cx="162.4" cy="437.8" r="3.9" fill="#000"/>
<circle cx="146.8" cy="523.2" r="3.9" fill="#000"/>
<circle cx="203.9" cy="527.9" r="3.9" fill="#000"/>
<circle cx="226.4" cy="461.8" r="3.9" fill="#000"/>
<circle cx="207.2" cy="376.0" r="3.9" fill="#000"/>
<circle cx="214.3" cy="387.9" r="3.9" fill="#000"/>
<circle cx="153.9" cy="366.3" r="3.9" fill="#000"/>
<circle cx="161.0" cy="381.2" r="3.9" fill="#000"/>
<circle cx="175.7" cy="366.2" r="3.9" fill="#000"/>
<circle cx="215.9" cy="386.4" r="3.9" fill="#000"/>
<circle cx="183.3" cy="367.1" r="3.9" fill="#000"/>
<circle cx="221.1" cy="379.9" r="3.9" fill="#000"/>
<circle cx="148.3" cy="374.4" r="3.9" fill="#000"/>
<circle cx="197.6" cy="389.0" r="3.9" fill="#000"/>
<circle cx="185.1" cy="382.6" r="3.9" fill="#000"/>
<circle cx="160.3" cy="372.3" r="3.9" fill="#000"/>
<circle cx="222.6" cy="375.9" r="3.9" fill="#000"/>
<circle cx="151.3" cy="381.4" r="3.9" fill="#000"/>
<circle cx="153.2" cy="371.2" r="3.9" fill="#000"/>
<circle cx="182.6" cy="381.2" r="3.9" fill="#000"/>
<circle cx="198.6" cy="384.4" r="3.9" fill="#000"/>
<circle cx="181.1" cy="367.8" r="3.9" fill="#000"/>
<circle cx="206.5" cy="367.4" r="3.9" fill="#000"/>
<circle cx="183.9" cy="376.4" r="3.9" fill="#000"/>
<circle cx="201.9" cy="384.6" r="3.9" fill="#000"/>
<circle cx="163.3" cy="382.9" r="3.9" fill="#000"/>
<circle cx="203.6" cy="378.3" r="3.9" fill="#000"/>
<circle cx="154.6" cy="389.6" r="3.9" fill="#000"/>
<circle cx="195.3" cy="367.6" r="3.9" fill="#000"/>
<circle cx="163.2" cy="391.7" r="3.9" fill="#000"/>
<circle cx="162.4" cy="376.2" r="3.9" fill="#000"/>
<circle cx="212.1" cy="387.4" r="3.9" fill="#000"/>
<circle cx="198.4" cy="385.3" r="3.9" fill="#000"/>
<circle cx="145.4" cy="368.4" r="3.9" fill="#000"/>
<circle cx="228.9" cy="386.9" r="3.9" fill="#000"/>
<circle cx="145.4" cy="367.3" r="3.9" fill="#000"/>
<circle cx="163.4" cy="390.2" r="3.9" fill="#000"/>
<circle cx="161.5" cy="383.5" r="3.9" fill="#000"/>
<circle cx="224.8" cy="382.6" r="3.9" fill="#000"/>
<circle cx="223.8" cy="372.8" r="3.9" fill="#000"/>
<circle cx="155.7" cy="366.5" r="3.9" fill="#000"/>
<circle cx="209.4" cy="368.7" r="3.9" fill="#000"/>
<circle cx="228.6" cy="551.9" r="3.9" fill="#000"/>
<circle cx="158.6" cy="553.3" r="3.9" fill="#000"/>
<circle cx="156.5" cy="549.2" r="3.9" fill="#000"/>
<circle cx="151.4" cy="553.0" r="3.9" fill="#000"/>
<circle cx="221.2" cy="554.8" r="3.9" fill="#000"/>
<circle cx="142.2" cy="553.9" r="3.9" fill="#000"/>
<circle cx="191.5" cy="553.5" r="3.9" fill="#000"/>
<circle cx="186.7" cy="550.7" r="3.9" fill="#000"/>
<circle cx="194.9" cy="553.2" r="3.9" fill="#000"/>
<circle cx="148.9" cy="542.8" r="3.9" fill="#000"/>
<circle cx="190.5" cy="546.1" r="3.9" fill="#000"/>
<circle cx="177.3" cy="542.1" r="3.9" fill="#000"/>
<circle cx="208.3" cy="542.3" r="3.9" fill="#000"/>
<circle cx="215.8" cy="553.4" r="3.9" fill="#000"/>
<circle cx="182.8" cy="543.7" r="3.9" fill="#000"/>
<circle cx="199.9" cy="544.9" r="3.9" fill="#000"/>
<circle cx="180.2" cy="543.5" r="3.9" fill="#000"/>
<circle cx="228.9" cy="549.6" r="3.9" fill="#000"/>
<circle cx="173.4" cy="543.3" r="3.9" fill="#000"/>
<circle cx="207.0" cy="553.9" r="3.9" fill="#000"/>
<circle cx="217.5" cy="543.4" r="3.9" fill="#000"/>
<circle cx="174.7" cy="546.2" r="3.9" fill="#000"/>
<circle cx="209.9" cy="544.1" r="3.9" fill="#000"/>
<circle cx="196.0" cy="555.7" r="3.9" fill="#000"/>
<circle cx="210.4" cy="542.1" r="3.9" fill="#000"/>
<circle cx="148.7" cy="543.6" r="3.9" fill="#000"/>
<circle cx="203.6" cy="550.4" r="3.9" fill="#000"/>
<circle cx="188.3" cy="548.4" r="3.9" fill="#000"/>
<circle cx="178.3" cy="550.6" r="3.9" fill="#000"/>
<circle cx="199.7" cy="554.8" r="3.9" fill="#000"/>
<circle cx="207.2" cy="553.2" r="3.9" fill="#000"/>
<circle cx="223.2" cy="553.7" r="3.9" fill="#000"/>
<circle cx="205.8" cy="542.4" r="3.9" fill="#000"/>
<circle cx="202.6" cy="553.9" r="3.9" fill="#000"/>
<circle cx="180.3" cy="554.3" r="3.9" fill="#000"/>
<circle cx="158.0" cy="555.2" r="3.9" fill="#000"/>
<circle cx="181.3" cy="551.9" r="3.9" fill="#000"/>
<circle cx="164.5" cy="546.2" r="3.9" fill="#000"/>
<circle cx="173.0" cy="546.5" r="3.9" fill="#000"/>
<circle cx="150.4" cy="548.2" r="3.9" fill="#000"/>
<line x1="186.2" y1="313.8" x2="186.2" y2="394" stroke="#333" stroke-width="2"/>
<line x1="186.2" y1="549" x2="186.2" y2="597.7" stroke="#333" stroke-width="2"/>
<polygon points="186.6,461.5 192.2,467.1 186.6,472.7 181.0,467.1" fill="#FFFF00"/>
<line x1="257.5" y1="393.1" x2="343.2" y2="393.1" stroke="#333" stroke-width="4.8"/>
<circle cx="264.8" cy="393.1" r="3.9" fill="#000"/>
<circle cx="269.1" cy="393.1" r="3.9" fill="#000"/>
<circle cx="306.6" cy="393.1" r="3.9" fill="#000"/>
<circle cx="339.3" cy="393.1" r="3.9" fill="#000"/>
<circle cx="326.9" cy="380.9" r="3.9" fill="#000"/>
<polygon points="300.2,385.0 306.0,390.8 300.2,396.6 294.4,390.8" fill="#FFFF00"/>
<line x1="413.4" y1="473" x2="413.4" y2="508.4" stroke="#333" stroke-width="2.5"/>
<rect x="370.2" y="482.3" width="86.5" height="15.3" fill="#333"/>
<rect x="372.1" y="484.6" width="80" height="2.6" fill="#3F5FD8"/>
<rect x="372.1" y="492.0" width="83" height="3.0" fill="#3F5FD8"/>
<circle cx="375.0" cy="473.0" r="3.9" fill="#000"/>
<circle cx="452.5" cy="483.2" r="3.9" fill="#000"/>
<circle cx="373.4" cy="496.3" r="3.9" fill="#000"/>
<circle cx="408.9" cy="489.4" r="3.9" fill="#000"/>
<circle cx="413.2" cy="511.9" r="3.9" fill="#000"/>
<polygon points="413.4,485.4 419.0,491.0 413.4,496.6 407.8,491.0" fill="#FFFF00"/>
<text x="0" y="0" transform="translate(551.27 92.80) scale(0.8733 1)" font-size="43.31" fill="#000">B)</text>
<line x1="658.5" y1="157" x2="658.5" y2="587" stroke="#7F7F7F" stroke-width="1.3"/>
<line x1="654" y1="586.90" x2="658.5" y2="586.90" stroke="#7F7F7F" stroke-width="1.3"/>
<line x1="654" y1="552.82" x2="658.5" y2="552.82" stroke="#7F7F7F" stroke-width="1.3"/>
<line x1="654" y1="518.74" x2="658.5" y2="518.74" stroke="#7F7F7F" stroke-width="1.3"/>
<line x1="654" y1="484.66" x2="658.5" y2="484.66" stroke="#7F7F7F" stroke-width="1.3"/>
<line x1="654" y1="450.58" x2="658.5" y2="450.58" stroke="#7F7F7F" stroke-width="1.3"/>
<line x1="654" y1="416.50" x2="658.5" y2="416.50" stroke="#7F7F7F" stroke-width="1.3"/>
<line x1="654" y1="382.42" x2="658.5" y2="382.42" stroke="#7F7F7F" stroke-width="1.3"/>
<line x1="654" y1="348.34" x2="658.5" y2="348.34" stroke="#7F7F7F" stroke-width="1.3"/>
<line x1="654" y1="314.26" x2="658.5" y2="314.26" stroke="#7F7F7F" stroke-width="1.3"/>
<line x1="654" y1="280.18" x2="658.5" y2="280.18" stroke="#7F7F7F" stroke-width="1.3"/>
<line x1="654" y1="246.10" x2="658.5" y2="246.10" stroke="#7F7F7F" stroke-width="1.3"/>
<line x1="654" y1="212.02" x2="658.5" y2="212.02" stroke="#7F7F7F" stroke-width="1.3"/>
<line x1="654" y1="177.94" x2="658.5" y2="177.94" stroke="#7F7F7F" stroke-width="1.3"/>
<line x1="662.3" y1="591.9" x2="1845.8" y2="591.9" stroke="#767676" stroke-width="1.3"/>
<line x1="735.10" y1="591.9" x2="735.10" y2="596.2" stroke="#767676" stroke-width="1.3"/>
<line x1="809.70" y1="591.9" x2="809.70" y2="596.2" stroke="#767676" stroke-width="1.3"/>
<line x1="883.90" y1="591.9" x2="883.90" y2="596.2" stroke="#767676" stroke-width="1.3"/>
<line x1="957.50" y1="591.9" x2="957.50" y2="596.2" stroke="#767676" stroke-width="1.3"/>
<line x1="1032.20" y1="591.9" x2="1032.20" y2="596.2" stroke="#767676" stroke-width="1.3"/>
<line x1="1106.00" y1="591.9" x2="1106.00" y2="596.2" stroke="#767676" stroke-width="1.3"/>
<line x1="1180.10" y1="591.9" x2="1180.10" y2="596.2" stroke="#767676" stroke-width="1.3"/>
<line x1="1253.70" y1="591.9" x2="1253.70" y2="596.2" stroke="#767676" stroke-width="1.3"/>
<line x1="1328.10" y1="591.9" x2="1328.10" y2="596.2" stroke="#767676" stroke-width="1.3"/>
<line x1="1401.70" y1="591.9" x2="1401.70" y2="596.2" stroke="#767676" stroke-width="1.3"/>
<line x1="1476.20" y1="591.9" x2="1476.20" y2="596.2" stroke="#767676" stroke-width="1.3"/>
<line x1="1550.20" y1="591.9" x2="1550.20" y2="596.2" stroke="#767676" stroke-width="1.3"/>
<line x1="1624.50" y1="591.9" x2="1624.50" y2="596.2" stroke="#767676" stroke-width="1.3"/>
<line x1="1697.60" y1="591.9" x2="1697.60" y2="596.2" stroke="#767676" stroke-width="1.3"/>
<line x1="1772.60" y1="591.9" x2="1772.60" y2="596.2" stroke="#767676" stroke-width="1.3"/>
<line x1="1845.50" y1="591.9" x2="1845.50" y2="596.2" stroke="#767676" stroke-width="1.3"/>
<text x="0" y="0" transform="translate(619.73 592.89) scale(1.0000 1)" font-size="31.64" fill="#000">0</text>
<text x="0" y="0" transform="translate(607.40 558.79) scale(1.0418 1)" font-size="31.64" fill="#000">0.1</text>
<text x="0" y="0" transform="translate(607.38 525.89) scale(1.0515 1)" font-size="31.64" fill="#000">0.2</text>
<text x="0" y="0" transform="translate(607.39 491.15) scale(1.0506 1)" font-size="31.57" fill="#000">0.3</text>
<text x="0" y="0" transform="translate(607.42 457.39) scale(1.0244 1)" font-size="31.64" fill="#000">0.4</text>
<text x="0" y="0" transform="translate(607.40 423.69) scale(1.0418 1)" font-size="31.64" fill="#000">0.5</text>
<text x="0" y="0" transform="translate(607.39 390.29) scale(1.0484 1)" font-size="31.64" fill="#000">0.6</text>
<text x="0" y="0" transform="translate(607.38 356.79) scale(1.0547 1)" font-size="31.64" fill="#000">0.7</text>
<text x="0" y="0" transform="translate(607.39 323.09) scale(1.0441 1)" font-size="31.64" fill="#000">0.8</text>
<text x="0" y="0" transform="translate(607.39 287.89) scale(1.0492 1)" font-size="31.64" fill="#000">0.9</text>
<text x="0" y="0" transform="translate(618.87 255.60) scale(1.0000 1)" font-size="32.56" fill="#000">1</text>
<text x="0" y="0" transform="translate(606.59 221.20) scale(1.0306 1)" font-size="32.56" fill="#000">1.1</text>
<text x="0" y="0" transform="translate(606.57 189.00) scale(1.0559 1)" font-size="32.08" fill="#000">1.2</text>
<text x="0" y="0" transform="translate(720.21 622.98) scale(0.9964 1)" font-size="32.63" fill="#000">0.5</text>
<text x="0" y="0" transform="translate(800.57 623.30) scale(1.0000 1)" font-size="33.58" fill="#000">1</text>
<text x="0" y="0" transform="translate(868.12 622.98) scale(0.9996 1)" font-size="33.11" fill="#000">1.5</text>
<text x="0" y="0" transform="translate(948.89 623.30) scale(1.0000 1)" font-size="33.08" fill="#000">2</text>
<text x="0" y="0" transform="translate(1018.08 622.98) scale(0.9927 1)" font-size="32.63" fill="#000">2.5</text>
<text x="0" y="0" transform="translate(1097.56 622.93) scale(1.0000 1)" font-size="32.56" fill="#000">3</text>
<text x="0" y="0" transform="translate(1166.76 622.93) scale(0.9860 1)" font-size="32.56" fill="#000">3.5</text>
<text x="0" y="0" transform="translate(1244.50 623.30) scale(1.0000 1)" font-size="33.58" fill="#000">4</text>
<text x="0" y="0" transform="translate(1314.62 622.98) scale(0.9641 1)" font-size="33.11" fill="#000">4.5</text>
<text x="0" y="0" transform="translate(1392.75 622.98) scale(1.0000 1)" font-size="33.11" fill="#000">5</text>
<text x="0" y="0" transform="translate(1462.51 622.98) scale(0.9754 1)" font-size="33.11" fill="#000">5.5</text>
<text x="0" y="0" transform="translate(1541.72 622.98) scale(1.0000 1)" font-size="32.63" fill="#000">6</text>
<text x="0" y="0" transform="translate(1610.01 622.98) scale(0.9942 1)" font-size="32.63" fill="#000">6.5</text>
<text x="0" y="0" transform="translate(1689.78 623.30) scale(1.0000 1)" font-size="33.58" fill="#000">7</text>
<text x="0" y="0" transform="translate(1758.50 622.98) scale(0.9845 1)" font-size="33.11" fill="#000">7.5</text>
<text x="0" y="0" transform="translate(1837.21 622.98) scale(1.0000 1)" font-size="32.63" fill="#000">8</text>
<text x="0" y="0" transform="translate(1066.90 672.20) scale(0.9303 1)" font-size="33.72" fill="#000">Retention Time (min)</text>
<g transform="rotate(-90)"><text x="0" y="0" transform="translate(-440.73 582.00) scale(1.0821 1)" font-size="30.81" fill="#000">Intensity</text><text x="0" y="0" transform="translate(-288.78 580.54) scale(1.0202 1)" font-size="31.11" fill="#000">[</text><text x="0" y="0" transform="translate(-274.92 582.00) scale(0.9918 1)" font-size="31.98" fill="#000">x10</text><text x="0" y="0" transform="translate(-220.92 581.80) scale(1.0702 1)" font-size="19.91" fill="#000">7</text><text x="0" y="0" transform="translate(-206.96 580.54) scale(0.9352 1)" font-size="31.11" fill="#000">]</text></g>
<line x1="726.2" y1="151.9" x2="753.7" y2="151.9" stroke="#4472C4" stroke-width="3.5"/>
<line x1="726.2" y1="192" x2="753.7" y2="192" stroke="#ED7D31" stroke-width="3.8"/>
<line x1="726.2" y1="234.9" x2="753.7" y2="234.9" stroke="#BFBFBF" stroke-width="4"/>
<text x="0" y="0" transform="translate(768.90 160.60) scale(0.9121 1)" font-size="32.70" fill="#000">F186L</text>
<text x="0" y="0" transform="translate(769.97 205.50) scale(0.9631 1)" font-size="32.70" fill="#000">WT</text>
<text x="0" y="0" transform="translate(766.72 243.59) scale(0.9827 1)" font-size="31.86" fill="#000">Control</text>
<path d="M658.50 585.90 L687.60 585.90 L686.50 586.50 L688.00 587.00 L688.60 586.00 L689.20 552.00 L689.90 566.00 L690.40 554.00 L691.10 562.00 L691.70 557.00 L692.60 561.00 L693.60 559.50 L695.00 559.63 L695.75 559.73 L696.50 559.83 L697.25 559.92 L698.00 560.02 L698.75 560.12 L699.50 560.22 L700.25 560.32 L701.00 560.42 L701.75 560.51 L702.50 560.61 L703.25 560.71 L704.00 560.81 L704.75 560.91 L705.50 561.00 L706.25 561.10 L707.00 561.20 L707.75 561.20 L708.50 561.20 L709.25 561.20 L710.00 561.20 L710.75 561.20 L711.50 561.20 L712.25 561.20 L713.00 561.20 L713.75 561.20 L714.50 561.20 L715.25 561.20 L716.00 561.20 L716.75 561.20 L717.50 561.20 L718.25 561.20 L719.00 561.20 L719.75 561.20 L720.50 561.20 L721.25 561.20 L722.00 561.20 L722.75 561.20 L723.50 561.20 L724.25 561.20 L725.00 561.19 L725.75 561.18 L726.50 561.16 L727.25 561.14 L728.00 561.09 L728.75 561.00 L729.50 560.87 L730.25 560.67 L731.00 560.36 L731.75 559.92 L732.50 559.30 L733.10 561.80 L733.34 561.60 L733.67 561.41 L734.07 561.06 L734.52 560.38 L735.00 559.20 L735.51 557.29 L736.06 554.76 L736.65 551.96 L737.30 549.23 L738.00 546.90 L738.81 544.90 L739.73 543.00 L740.67 541.33 L741.55 539.99 L742.30 539.10 L742.86 538.66 L743.29 538.60 L743.66 538.91 L744.04 539.61 L744.50 540.70 L745.04 542.43 L745.63 544.80 L746.24 547.42 L746.87 549.95 L747.50 552.00 L748.15 553.59 L748.83 554.95 L749.51 556.09 L750.17 556.97 L750.80 557.60 L751.34 557.94 L751.81 558.00 L752.28 557.83 L752.82 557.45 L753.50 556.90 L754.39 556.05 L755.45 554.87 L756.57 553.57 L757.62 552.35 L758.50 551.40 L759.10 550.87 L759.51 550.62 L759.87 550.45 L760.32 550.14 L761.00 549.50 L762.02 548.31 L763.29 546.71 L764.65 545.01 L765.94 543.54 L767.00 542.60 L767.78 542.19 L768.37 542.11 L768.87 542.35 L769.38 542.95 L770.00 543.90 L770.74 545.46 L771.53 547.60 L772.35 549.98 L773.18 552.24 L774.00 554.00 L774.75 555.13 L775.44 555.87 L776.16 556.43 L776.99 557.03 L778.00 557.90 L779.30 559.32 L780.83 561.16 L782.44 562.96 L783.99 564.29 L785.30 564.70 L786.31 563.97 L787.13 562.39 L787.86 560.31 L788.61 558.03 L789.50 555.90 L790.59 553.67 L791.81 551.13 L793.06 548.64 L794.22 546.54 L795.20 545.20 L795.92 544.72 L796.45 544.86 L796.90 545.47 L797.38 546.40 L798.00 547.50 L798.81 549.00 L799.73 551.00 L800.69 553.15 L801.64 555.13 L802.50 556.60 L803.26 557.46 L803.95 557.95 L804.61 558.19 L805.28 558.33 L806.00 558.50 L806.83 558.68 L807.76 558.79 L808.66 558.84 L809.45 558.87 L810.00 558.90 L810.50 559.05 L811.25 559.12 L812.00 559.19 L812.75 559.25 L813.50 559.30 L814.25 559.36 L815.00 559.42 L815.75 559.47 L816.50 559.53 L817.25 559.58 L818.00 559.64 L818.75 559.69 L819.50 559.75 L820.25 559.81 L821.00 559.86 L821.75 559.92 L822.50 559.97 L823.25 560.03 L824.00 560.08 L824.75 560.14 L825.50 560.20 L826.25 560.25 L827.00 560.31 L827.75 560.36 L828.50 560.42 L829.25 560.47 L830.00 560.53 L830.75 560.58 L831.50 560.64 L832.25 560.70 L833.00 560.75 L833.75 560.81 L834.50 560.86 L835.25 560.89 L836.00 560.87 L836.75 560.85 L837.50 560.83 L838.25 560.80 L839.00 560.78 L839.75 560.76 L840.50 560.74 L841.25 560.71 L842.00 560.69 L842.75 560.67 L843.50 560.65 L844.25 560.63 L845.00 560.60 L845.75 560.58 L846.50 560.56 L847.25 560.54 L848.00 560.51 L848.75 560.49 L849.50 560.47 L850.25 560.45 L851.00 560.43 L851.75 560.40 L852.50 560.38 L853.25 560.36 L854.00 560.34 L854.75 560.31 L855.50 560.29 L856.25 560.27 L857.00 560.25 L857.75 560.23 L858.50 560.20 L859.25 560.18 L860.00 560.16 L860.75 560.14 L861.50 560.11 L862.25 560.09 L863.00 560.07 L863.75 560.05 L864.50 560.03 L865.25 560.00 L866.00 559.98 L866.75 559.96 L867.50 559.94 L868.25 559.91 L869.00 559.89 L869.75 559.87 L870.50 559.85 L871.25 559.83 L872.00 559.80 L872.75 559.78 L873.50 559.76 L874.25 559.74 L875.00 559.71 L875.75 559.69 L876.50 559.67 L877.25 559.65 L878.00 559.63 L878.75 559.60 L879.50 559.58 L880.25 559.56 L881.00 559.54 L881.75 559.51 L882.50 559.49 L883.25 559.47 L884.00 559.44 L884.75 559.41 L885.50 559.38 L886.25 559.35 L887.00 559.30 L887.75 559.25 L888.50 559.18 L889.25 559.10 L890.00 558.99 L890.75 558.85 L891.50 558.69 L892.25 558.48 L893.00 558.25 L893.75 557.98 L894.50 557.68 L895.25 557.37 L896.00 557.05 L896.75 556.75 L897.50 556.48 L898.25 556.26 L899.00 556.10 L899.75 556.01 L900.50 556.00 L901.25 556.07 L902.00 556.21 L902.75 556.41 L903.50 556.64 L904.25 556.91 L905.00 557.18 L905.75 557.44 L906.50 557.69 L907.25 557.90 L908.00 558.08 L908.75 558.23 L909.50 558.34 L910.25 558.42 L911.00 558.48 L911.75 558.51 L912.50 558.53 L913.25 558.53 L914.00 558.53 L914.75 558.52 L915.50 558.50 L916.25 558.54 L917.00 558.70 L917.75 558.85 L918.50 559.00 L919.25 559.15 L920.00 559.30 L920.75 559.45 L921.50 559.60 L922.25 559.75 L923.00 559.90 L923.75 560.05 L924.50 560.20 L925.25 560.35 L926.00 560.49 L926.75 560.64 L927.50 560.66 L928.25 560.61 L929.00 560.55 L929.75 560.46 L930.50 560.33 L931.25 560.14 L932.00 559.85 L932.75 559.43 L933.50 558.82 L934.25 557.95 L935.00 556.75 L935.75 555.15 L936.50 553.06 L937.25 550.43 L938.00 547.21 L938.75 543.43 L939.50 539.13 L940.25 534.45 L941.00 529.56 L941.75 524.71 L942.50 520.18 L943.25 516.25 L944.00 513.21 L944.75 511.28 L945.50 510.60 L946.25 511.23 L947.00 513.10 L947.75 516.09 L948.50 519.96 L949.25 524.44 L950.00 529.23 L950.75 534.06 L951.50 538.69 L952.25 542.93 L953.00 546.66 L953.75 549.82 L954.50 552.40 L955.25 554.44 L956.00 555.98 L956.75 557.13 L957.50 557.97 L958.25 558.57 L959.00 558.98 L959.75 559.26 L960.50 559.45 L961.25 559.57 L962.00 559.65 L962.75 559.70 L963.50 559.74 L964.25 559.77 L965.00 559.80 L965.75 559.82 L966.50 559.84 L967.25 559.86 L968.00 559.88 L968.75 559.90 L969.50 559.92 L970.25 559.94 L971.00 559.96 L971.75 559.98 L972.50 560.00 L973.25 560.02 L974.00 560.03 L974.75 560.05 L975.50 560.07 L976.25 560.09 L977.00 560.11 L977.75 560.13 L978.50 560.15 L979.25 560.17 L980.00 560.19 L980.75 560.21 L981.50 560.23 L982.25 560.25 L983.00 560.27 L983.75 560.28 L984.50 560.30 L985.25 560.32 L986.00 560.34 L986.75 560.36 L987.50 560.38 L988.25 560.40 L989.00 560.42 L989.75 560.44 L990.50 560.46 L991.25 560.48 L992.00 560.50 L992.75 560.51 L993.50 560.53 L994.25 560.55 L995.00 560.57 L995.75 560.59 L996.50 560.61 L997.25 560.63 L998.00 560.65 L998.75 560.67 L999.50 560.69 L1000.25 560.70 L1001.00 560.71 L1001.75 560.71 L1002.50 560.72 L1003.25 560.72 L1004.00 560.72 L1004.75 560.73 L1005.50 560.73 L1006.25 560.74 L1007.00 560.74 L1007.75 560.75 L1008.50 560.75 L1009.25 560.76 L1010.00 560.76 L1010.75 560.77 L1011.50 560.77 L1012.25 560.78 L1013.00 560.78 L1013.75 560.79 L1014.50 560.79 L1015.25 560.80 L1016.00 560.80 L1016.75 560.80 L1017.50 560.81 L1018.25 560.81 L1019.00 560.81 L1019.75 560.82 L1020.50 560.82 L1021.25 560.82 L1022.00 560.81 L1022.75 560.80 L1023.50 560.78 L1024.25 560.75 L1025.00 560.71 L1025.75 560.66 L1026.50 560.58 L1027.25 560.48 L1028.00 560.36 L1028.75 560.20 L1029.50 560.02 L1030.25 559.80 L1031.00 559.56 L1031.75 559.29 L1032.50 559.01 L1033.25 558.72 L1034.00 558.44 L1034.75 558.18 L1035.50 557.95 L1036.25 557.77 L1037.00 557.66 L1037.75 557.60 L1038.50 557.62 L1039.25 557.70 L1040.00 557.85 L1040.75 558.06 L1041.50 558.30 L1042.25 558.58 L1043.00 558.86 L1043.75 559.15 L1044.50 559.42 L1045.25 559.65 L1046.00 559.83 L1046.75 559.94 L1047.50 559.96 L1048.25 559.85 L1049.00 559.56 L1049.75 559.07 L1050.50 558.34 L1051.25 557.33 L1052.00 555.99 L1052.75 554.30 L1053.50 552.26 L1054.25 549.90 L1055.00 547.28 L1055.75 544.52 L1056.50 541.77 L1057.25 539.19 L1058.00 536.98 L1058.75 535.29 L1059.50 534.27 L1060.25 534.01 L1061.00 534.52 L1061.75 535.75 L1062.50 537.61 L1063.25 539.93 L1064.00 542.54 L1064.75 545.26 L1065.50 547.92 L1066.25 550.40 L1067.00 552.59 L1067.75 554.45 L1068.50 555.97 L1069.25 557.15 L1070.00 558.05 L1070.75 558.69 L1071.50 559.14 L1072.25 559.44 L1073.00 559.66 L1073.75 559.81 L1074.50 559.89 L1075.25 559.94 L1076.00 559.97 L1076.75 559.97 L1077.50 559.96 L1078.25 559.94 L1079.00 559.91 L1079.75 559.85 L1080.50 559.79 L1081.25 559.70 L1082.00 559.59 L1082.75 559.46 L1083.50 559.30 L1084.25 559.12 L1085.00 558.91 L1085.75 558.69 L1086.50 558.45 L1087.25 558.21 L1088.00 557.96 L1088.75 557.73 L1089.50 557.51 L1090.25 557.32 L1091.00 557.17 L1091.75 557.06 L1092.50 557.01 L1093.25 557.01 L1094.00 557.06 L1094.75 557.16 L1095.50 557.32 L1096.25 557.51 L1097.00 557.74 L1097.75 557.98 L1098.50 558.24 L1099.25 558.50 L1100.00 558.76 L1100.75 559.01 L1101.50 559.23 L1102.25 559.44 L1103.00 559.62 L1103.75 559.78 L1104.50 559.91 L1105.25 560.02 L1106.00 560.11 L1106.75 560.18 L1107.50 560.24 L1108.25 560.29 L1109.00 560.33 L1109.75 560.36 L1110.50 560.38 L1111.25 560.40 L1112.00 560.41 L1112.75 560.42 L1113.50 560.44 L1114.25 560.45 L1115.00 560.46 L1115.75 560.46 L1116.50 560.47 L1117.25 560.48 L1118.00 560.49 L1118.75 560.50 L1119.50 560.51 L1120.25 560.51 L1121.00 560.52 L1121.75 560.53 L1122.50 560.54 L1123.25 560.55 L1124.00 560.55 L1124.75 560.56 L1125.50 560.57 L1126.25 560.58 L1127.00 560.59 L1127.75 560.59 L1128.50 560.60 L1129.25 560.61 L1130.00 560.62 L1130.75 560.62 L1131.50 560.63 L1132.25 560.64 L1133.00 560.65 L1133.75 560.66 L1134.50 560.66 L1135.25 560.67 L1136.00 560.68 L1136.75 560.69 L1137.50 560.70 L1138.25 560.70 L1139.00 560.71 L1139.75 560.72 L1140.50 560.73 L1141.25 560.74 L1142.00 560.74 L1142.75 560.75 L1143.50 560.76 L1144.25 560.77 L1145.00 560.78 L1145.75 560.78 L1146.50 560.79 L1147.25 560.80 L1148.00 560.81 L1148.75 560.82 L1149.50 560.82 L1150.25 560.83 L1151.00 560.84 L1151.75 560.85 L1152.50 560.86 L1153.25 560.86 L1154.00 560.87 L1154.75 560.88 L1155.50 560.89 L1156.25 560.90 L1157.00 560.90 L1157.75 560.91 L1158.50 560.92 L1159.25 560.93 L1160.00 560.93 L1160.75 560.94 L1161.50 560.94 L1162.25 560.95 L1163.00 560.94 L1163.75 560.93 L1164.50 560.91 L1165.25 560.87 L1166.00 560.80 L1166.75 560.68 L1167.50 560.51 L1168.25 560.28 L1169.00 559.96 L1169.75 559.55 L1170.50 559.02 L1171.25 558.36 L1172.00 557.58 L1172.75 556.69 L1173.50 555.70 L1174.25 554.66 L1175.00 553.60 L1175.75 552.59 L1176.50 551.69 L1177.25 550.96 L1178.00 550.46 L1178.75 550.22 L1179.50 550.26 L1180.25 550.57 L1181.00 551.14 L1181.75 551.91 L1182.50 552.84 L1183.25 553.85 L1184.00 554.89 L1184.75 555.91 L1185.50 556.85 L1186.25 557.69 L1187.00 558.41 L1187.75 559.00 L1188.50 559.48 L1189.25 559.84 L1190.00 560.11 L1190.75 560.31 L1191.50 560.44 L1192.25 560.53 L1193.00 560.60 L1193.75 560.64 L1194.50 560.67 L1195.25 560.68 L1196.00 560.69 L1196.75 560.70 L1197.50 560.70 L1198.25 560.70 L1199.00 560.71 L1199.75 560.71 L1200.50 560.71 L1201.25 560.71 L1202.00 560.71 L1202.75 560.71 L1203.50 560.71 L1204.25 560.71 L1205.00 560.71 L1205.75 560.71 L1206.50 560.71 L1207.25 560.72 L1208.00 560.72 L1208.75 560.72 L1209.50 560.72 L1210.25 560.72 L1211.00 560.72 L1211.75 560.72 L1212.50 560.72 L1213.25 560.72 L1214.00 560.72 L1214.75 560.72 L1215.50 560.72 L1216.25 560.72 L1217.00 560.72 L1217.75 560.73 L1218.50 560.73 L1219.25 560.73 L1220.00 560.73 L1220.75 560.73 L1221.50 560.73 L1222.25 560.73 L1223.00 560.73 L1223.75 560.73 L1224.50 560.73 L1225.25 560.73 L1226.00 560.73 L1226.75 560.73 L1227.50 560.74 L1228.25 560.74 L1229.00 560.74 L1229.75 560.74 L1230.50 560.74 L1231.25 560.74 L1232.00 560.74 L1232.75 560.74 L1233.50 560.74 L1234.25 560.74 L1235.00 560.74 L1235.75 560.74 L1236.50 560.74 L1237.25 560.74 L1238.00 560.75 L1238.75 560.75 L1239.50 560.75 L1240.25 560.75 L1241.00 560.75 L1241.75 560.75 L1242.50 560.75 L1243.25 560.75 L1244.00 560.75 L1244.75 560.75 L1245.50 560.75 L1246.25 560.75 L1247.00 560.75 L1247.75 560.76 L1248.50 560.76 L1249.25 560.76 L1250.00 560.76 L1250.75 560.76 L1251.50 560.76 L1252.25 560.76 L1253.00 560.76 L1253.75 560.76 L1254.50 560.76 L1255.25 560.76 L1256.00 560.76 L1256.75 560.76 L1257.50 560.76 L1258.25 560.77 L1259.00 560.77 L1259.75 560.77 L1260.50 560.77 L1261.25 560.77 L1262.00 560.77 L1262.75 560.77 L1263.50 560.77 L1264.25 560.77 L1265.00 560.77 L1265.75 560.77 L1266.50 560.77 L1267.25 560.77 L1268.00 560.78 L1268.75 560.78 L1269.50 560.78 L1270.25 560.78 L1271.00 560.78 L1271.75 560.78 L1272.50 560.78 L1273.25 560.78 L1274.00 560.78 L1274.75 560.78 L1275.50 560.78 L1276.25 560.78 L1277.00 560.78 L1277.75 560.78 L1278.50 560.79 L1279.25 560.79 L1280.00 560.79 L1280.75 560.79 L1281.50 560.79 L1282.25 560.79 L1283.00 560.79 L1283.75 560.79 L1284.50 560.79 L1285.25 560.79 L1286.00 560.79 L1286.75 560.79 L1287.50 560.79 L1288.25 560.80 L1289.00 560.80 L1289.75 560.80 L1290.50 560.80 L1291.25 560.80 L1292.00 560.80 L1292.75 560.80 L1293.50 560.76 L1294.25 560.70 L1295.00 560.63 L1295.75 560.57 L1296.50 560.51 L1297.25 560.45 L1298.00 560.39 L1298.75 560.33 L1299.50 560.26 L1300.25 560.20 L1301.00 560.14 L1301.75 560.08 L1302.50 560.02 L1303.25 559.95 L1304.00 559.89 L1304.75 559.83 L1305.50 559.77 L1306.25 559.71 L1307.00 559.64 L1307.75 559.58 L1308.50 559.52 L1309.25 559.46 L1310.00 559.40 L1310.75 559.33 L1311.50 559.27 L1312.25 559.21 L1313.00 559.15 L1313.75 559.09 L1314.50 559.03 L1315.25 558.96 L1316.00 558.90 L1316.75 558.84 L1317.50 558.78 L1318.25 558.72 L1319.00 558.65 L1319.75 558.59 L1320.50 558.53 L1321.25 558.47 L1322.00 558.41 L1322.75 558.34 L1323.50 558.28 L1324.25 558.22 L1325.00 558.16 L1325.75 558.10 L1326.50 558.03 L1327.25 557.97 L1328.00 557.91 L1328.75 557.85 L1329.50 557.79 L1330.25 557.73 L1331.00 557.66 L1331.75 557.60 L1332.50 557.54 L1333.25 557.48 L1334.00 557.42 L1334.75 557.35 L1335.50 557.29 L1336.25 557.23 L1337.00 557.17 L1337.75 557.11 L1338.50 557.04 L1339.25 556.98 L1340.00 556.92 L1340.75 556.86 L1341.50 556.80 L1342.25 556.73 L1343.00 556.67 L1343.75 556.61 L1344.50 556.55 L1345.25 556.49 L1346.00 556.43 L1346.75 556.36 L1347.50 556.30 L1348.25 556.24 L1349.00 556.18 L1349.75 556.12 L1350.50 556.05 L1351.25 555.99 L1352.00 555.93 L1352.75 555.86 L1353.50 555.79 L1354.25 555.71 L1355.00 555.63 L1355.75 555.52 L1356.50 555.45 L1357.25 555.37 L1358.00 555.24 L1358.75 555.03 L1359.50 554.73 L1360.25 554.32 L1361.00 553.79 L1361.75 553.13 L1362.50 552.36 L1363.25 551.51 L1364.00 550.63 L1364.75 549.78 L1365.50 549.03 L1366.25 548.45 L1367.00 548.09 L1367.75 548.00 L1368.50 548.19 L1369.25 548.64 L1370.00 549.31 L1370.75 550.15 L1371.50 551.07 L1372.25 552.01 L1373.00 552.91 L1373.75 553.73 L1374.50 554.43 L1375.25 555.01 L1376.00 555.47 L1376.75 555.82 L1377.50 556.08 L1378.25 556.21 L1379.00 556.27 L1379.75 556.31 L1380.50 556.31 L1381.25 556.30 L1382.00 556.28 L1382.75 556.25 L1383.50 556.22 L1384.25 556.19 L1385.00 556.16 L1385.75 556.13 L1386.50 556.09 L1387.25 556.06 L1388.00 556.02 L1388.75 555.99 L1389.50 555.96 L1390.25 555.92 L1391.00 555.89 L1391.75 555.85 L1392.50 555.82 L1393.25 555.79 L1394.00 555.75 L1394.75 555.72 L1395.50 555.68 L1396.25 555.65 L1397.00 555.62 L1397.75 555.58 L1398.50 555.55 L1399.25 555.51 L1400.00 555.48 L1400.75 555.45 L1401.50 555.41 L1402.25 555.38 L1403.00 555.34 L1403.75 555.31 L1404.50 555.27 L1405.25 555.24 L1406.00 555.20 L1406.75 555.17 L1407.50 555.13 L1408.25 555.08 L1409.00 555.03 L1409.75 554.97 L1410.50 554.90 L1411.25 554.81 L1412.00 554.69 L1412.75 554.54 L1413.50 554.36 L1414.25 554.13 L1415.00 553.85 L1415.75 553.56 L1416.50 553.22 L1417.25 552.83 L1418.00 552.42 L1418.75 551.99 L1419.50 551.58 L1420.25 551.20 L1421.00 550.89 L1421.75 550.66 L1422.50 550.53 L1423.25 550.51 L1424.00 550.60 L1424.75 550.80 L1425.50 551.09 L1426.25 551.45 L1427.00 551.85 L1427.75 552.28 L1428.50 552.70 L1429.25 553.09 L1430.00 553.45 L1430.75 553.76 L1431.50 554.02 L1432.25 554.22 L1433.00 554.36 L1433.75 554.45 L1434.50 554.51 L1435.25 554.55 L1436.00 554.56 L1436.75 554.56 L1437.50 554.55 L1438.25 554.53 L1439.00 554.51 L1439.75 554.48 L1440.50 554.45 L1441.25 554.42 L1442.00 554.39 L1442.75 554.36 L1443.50 554.32 L1444.25 554.27 L1445.00 554.21 L1445.75 554.13 L1446.50 554.03 L1447.25 553.90 L1448.00 553.74 L1448.75 553.52 L1449.50 553.23 L1450.25 552.85 L1451.00 552.37 L1451.75 551.78 L1452.50 551.09 L1453.25 550.31 L1454.00 549.45 L1454.75 548.56 L1455.50 547.66 L1456.25 546.83 L1457.00 546.10 L1457.75 545.52 L1458.50 545.15 L1459.25 545.00 L1460.00 545.09 L1460.75 545.41 L1461.50 545.93 L1462.25 546.62 L1463.00 547.42 L1463.75 548.28 L1464.50 549.15 L1465.25 549.99 L1466.00 550.75 L1466.75 551.43 L1467.50 552.00 L1468.25 552.47 L1469.00 552.84 L1469.75 553.12 L1470.50 553.32 L1471.25 553.46 L1472.00 553.56 L1472.75 553.62 L1473.50 553.66 L1474.25 553.67 L1475.00 553.68 L1475.75 553.68 L1476.50 553.67 L1477.25 553.66 L1478.00 553.65 L1478.75 553.64 L1479.50 553.63 L1480.25 553.61 L1481.00 553.60 L1481.75 553.59 L1482.50 553.57 L1483.25 553.56 L1484.00 553.55 L1484.75 553.53 L1485.50 553.52 L1486.25 553.50 L1487.00 553.49 L1487.75 553.48 L1488.50 553.46 L1489.25 553.45 L1490.00 553.44 L1490.75 553.42 L1491.50 553.41 L1492.25 553.40 L1493.00 553.38 L1493.75 553.37 L1494.50 553.35 L1495.25 553.34 L1496.00 553.33 L1496.75 553.31 L1497.50 553.30 L1498.25 553.29 L1499.00 553.27 L1499.75 553.26 L1500.50 553.25 L1501.25 553.23 L1502.00 553.22 L1502.75 553.20 L1503.50 553.19 L1504.25 553.18 L1505.00 553.16 L1505.75 553.15 L1506.50 553.14 L1507.25 553.12 L1508.00 553.11 L1508.75 553.10 L1509.50 553.08 L1510.25 553.07 L1511.00 553.05 L1511.75 553.04 L1512.50 553.03 L1513.25 553.01 L1514.00 553.00 L1514.75 552.86 L1515.50 552.72 L1516.25 552.57 L1517.00 552.42 L1517.75 552.27 L1518.50 552.11 L1519.25 551.94 L1520.00 551.75 L1520.75 551.63 L1521.50 551.48 L1522.25 551.31 L1523.00 551.11 L1523.75 550.88 L1524.50 550.62 L1525.25 550.33 L1526.00 550.02 L1526.75 549.71 L1527.50 549.41 L1528.25 549.12 L1529.00 548.88 L1529.75 548.68 L1530.50 548.55 L1531.25 548.49 L1532.00 548.49 L1532.75 548.56 L1533.50 548.68 L1534.25 548.85 L1535.00 549.04 L1535.75 549.25 L1536.50 549.45 L1537.25 549.64 L1538.00 549.80 L1538.75 549.93 L1539.50 550.03 L1540.25 550.09 L1541.00 550.14 L1541.75 550.15 L1542.50 550.15 L1543.25 550.13 L1544.00 550.10 L1544.75 550.06 L1545.50 550.01 L1546.25 549.96 L1547.00 549.90 L1547.75 549.84 L1548.50 549.79 L1549.25 549.73 L1550.00 549.67 L1550.75 549.61 L1551.50 549.55 L1552.25 549.49 L1553.00 549.43 L1553.75 549.37 L1554.50 549.31 L1555.25 549.25 L1556.00 549.19 L1556.75 549.13 L1557.50 549.07 L1558.25 549.01 L1559.00 548.95 L1559.75 548.89 L1560.50 548.83 L1561.25 548.76 L1562.00 548.69 L1562.75 548.61 L1563.50 548.52 L1564.25 548.41 L1565.00 548.28 L1565.75 548.12 L1566.50 547.96 L1567.25 547.78 L1568.00 547.55 L1568.75 547.29 L1569.50 546.99 L1570.25 546.68 L1571.00 546.37 L1571.75 546.09 L1572.50 545.85 L1573.25 545.69 L1574.00 545.61 L1574.75 545.62 L1575.50 545.72 L1576.25 545.90 L1577.00 546.14 L1577.75 546.42 L1578.50 546.72 L1579.25 547.01 L1580.00 547.27 L1580.75 547.50 L1581.50 547.69 L1582.25 547.86 L1583.00 548.04 L1583.75 548.19 L1584.50 548.32 L1585.25 548.42 L1586.00 548.51 L1586.75 548.59 L1587.50 548.67 L1588.25 548.74 L1589.00 548.81 L1589.75 548.88 L1590.50 548.94 L1591.25 549.01 L1592.00 549.07 L1592.75 549.14 L1593.50 549.21 L1594.25 549.27 L1595.00 549.34 L1595.75 549.40 L1596.50 549.47 L1597.25 549.53 L1598.00 549.60 L1598.75 549.55 L1599.50 549.51 L1600.25 549.46 L1601.00 549.41 L1601.75 549.37 L1602.50 549.32 L1603.25 549.27 L1604.00 549.23 L1604.75 549.18 L1605.50 549.13 L1606.25 549.09 L1607.00 549.04 L1607.75 548.99 L1608.50 548.95 L1609.25 548.90 L1610.00 548.85 L1610.75 548.81 L1611.50 548.76 L1612.25 548.71 L1613.00 548.67 L1613.75 548.62 L1614.50 548.57 L1615.25 548.53 L1616.00 548.48 L1616.75 548.43 L1617.50 548.39 L1618.25 548.34 L1619.00 548.29 L1619.75 548.25 L1620.50 548.20 L1621.25 548.15 L1622.00 548.11 L1622.75 548.06 L1623.50 548.01 L1624.25 547.97 L1625.00 547.92 L1625.75 547.88 L1626.50 547.83 L1627.25 547.78 L1628.00 547.74 L1628.75 547.69 L1629.50 547.64 L1630.25 547.60 L1631.00 547.55 L1631.75 547.50 L1632.50 547.46 L1633.25 547.41 L1634.00 547.36 L1634.75 547.32 L1635.50 547.35 L1636.25 547.41 L1637.00 547.48 L1637.75 547.55 L1638.50 547.62 L1639.25 547.69 L1640.00 547.76 L1640.75 547.83 L1641.50 547.90 L1642.25 547.96 L1643.00 548.03 L1643.75 548.10 L1644.50 548.17 L1645.25 548.24 L1646.00 548.31 L1646.75 548.38 L1647.50 548.37 L1648.25 548.31 L1649.00 548.26 L1649.75 548.21 L1650.50 548.16 L1651.25 548.10 L1652.00 548.05 L1652.75 548.00 L1653.50 547.95 L1654.25 547.89 L1655.00 547.84 L1655.75 547.79 L1656.50 547.74 L1657.25 547.69 L1658.00 547.63 L1658.75 547.58 L1659.50 547.53 L1660.25 547.48 L1661.00 547.42 L1661.75 547.37 L1662.50 547.32 L1663.25 547.27 L1664.00 547.22 L1664.75 547.16 L1665.50 547.11 L1666.25 547.06 L1667.00 547.01 L1667.75 546.95 L1668.50 546.90 L1669.25 546.85 L1670.00 546.80 L1670.75 546.74 L1671.50 546.69 L1672.25 546.64 L1673.00 546.59 L1673.75 546.54 L1674.50 546.48 L1675.25 546.43 L1676.00 546.38 L1676.75 546.33 L1677.50 546.27 L1678.25 546.22 L1679.00 546.17 L1679.75 546.12 L1680.50 546.08 L1681.25 546.05 L1682.00 546.02 L1682.75 545.99 L1683.50 545.96 L1684.25 545.93 L1685.00 545.90 L1685.75 545.87 L1686.50 545.84 L1687.25 545.81 L1688.00 545.77 L1688.75 545.74 L1689.50 545.71 L1690.25 545.68 L1691.00 545.65 L1691.75 545.62 L1692.50 545.59 L1693.25 545.56 L1694.00 545.53 L1694.75 545.50 L1695.50 545.47 L1696.25 545.44 L1697.00 545.41 L1697.75 545.38 L1698.50 545.35 L1699.25 545.32 L1700.00 545.29 L1700.75 545.26 L1701.50 545.23 L1702.25 545.20 L1703.00 545.17 L1703.75 545.13 L1704.50 545.10 L1705.25 545.07 L1706.00 545.04 L1706.75 545.00 L1707.50 544.96 L1708.25 544.90 L1709.00 544.84 L1709.75 544.75 L1710.50 544.63 L1711.25 544.47 L1712.00 544.26 L1712.75 543.92 L1713.50 543.51 L1714.25 543.01 L1715.00 542.44 L1715.75 541.80 L1716.50 541.12 L1717.25 540.44 L1718.00 539.80 L1718.75 539.25 L1719.50 538.82 L1720.25 538.56 L1721.00 538.48 L1721.75 538.58 L1722.50 538.84 L1723.25 539.22 L1724.00 539.69 L1724.75 540.20 L1725.50 540.70 L1726.25 541.16 L1727.00 541.55 L1727.75 541.86 L1728.50 542.09 L1729.25 542.24 L1730.00 542.32 L1730.75 542.42 L1731.50 542.46 L1732.25 542.46 L1733.00 542.43 L1733.75 542.36 L1734.50 542.25 L1735.25 542.11 L1736.00 541.94 L1736.75 541.73 L1737.50 541.48 L1738.25 541.21 L1739.00 540.92 L1739.75 540.63 L1740.50 540.34 L1741.25 540.08 L1742.00 539.87 L1742.75 539.71 L1743.50 539.62 L1744.25 539.60 L1745.00 539.66 L1745.75 539.79 L1746.50 539.97 L1747.25 540.20 L1748.00 540.46 L1748.75 540.73 L1749.50 540.99 L1750.25 541.24 L1751.00 541.46 L1751.75 541.65 L1752.50 541.80 L1753.25 541.92 L1754.00 542.02 L1754.75 542.08 L1755.50 542.13 L1756.25 542.15 L1757.00 542.17 L1757.75 542.17 L1758.50 542.14 L1759.25 542.10 L1760.00 542.05 L1760.75 541.99 L1761.50 541.94 L1762.25 541.88 L1763.00 541.83 L1763.75 541.77 L1764.50 541.72 L1765.25 541.66 L1766.00 541.61 L1766.75 541.55 L1767.50 541.50 L1768.25 541.44 L1769.00 541.38 L1769.75 541.33 L1770.50 541.27 L1771.25 541.22 L1772.00 541.16 L1772.75 541.11 L1773.50 541.05 L1774.25 540.99 L1775.00 540.94 L1775.75 540.88 L1776.50 540.83 L1777.25 540.77 L1778.00 540.72 L1778.75 540.66 L1779.50 540.60 L1780.25 540.55 L1781.00 540.49 L1781.75 540.44 L1782.50 540.38 L1783.25 540.33 L1784.00 540.27 L1784.75 540.22 L1785.50 540.16 L1786.25 540.10 L1787.00 540.05 L1787.75 539.99" fill="none" stroke="#A5A5A5" stroke-width="2.5" stroke-linejoin="round"/>
<path d="M658.50 560.80 L687.60 560.80 L688.60 560.80 L689.20 531.00 L689.90 545.00 L690.40 533.00 L691.10 541.00 L691.70 536.00 L692.60 539.50 L693.60 537.00 L695.00 537.13 L695.75 537.23 L696.50 537.33 L697.25 537.42 L698.00 537.52 L698.75 537.62 L699.50 537.72 L700.25 537.82 L701.00 537.92 L701.75 538.01 L702.50 538.11 L703.25 538.21 L704.00 538.31 L704.75 538.41 L705.50 538.50 L706.25 538.60 L707.00 538.70 L707.75 538.70 L708.50 538.70 L709.25 538.70 L710.00 538.70 L710.75 538.70 L711.50 538.70 L712.25 538.70 L713.00 538.70 L713.75 538.70 L714.50 538.70 L715.25 538.70 L716.00 538.70 L716.75 538.70 L717.50 538.70 L718.25 538.70 L719.00 538.70 L719.75 538.70 L720.50 538.70 L721.25 538.70 L722.00 538.70 L722.75 538.70 L723.50 538.70 L724.25 538.69 L725.00 538.69 L725.75 538.68 L726.50 538.66 L727.25 538.62 L728.00 538.56 L728.75 538.46 L729.50 538.29 L730.25 538.04 L731.00 537.66 L731.75 537.10 L732.50 536.33 L733.10 538.70 L733.34 538.43 L733.67 538.14 L734.07 537.66 L734.52 536.81 L735.00 535.40 L735.51 533.19 L736.05 530.31 L736.65 527.11 L737.29 523.95 L738.00 521.20 L738.83 518.74 L739.77 516.32 L740.74 514.12 L741.64 512.32 L742.40 511.10 L742.95 510.46 L743.36 510.29 L743.71 510.56 L744.06 511.27 L744.50 512.40 L745.04 514.14 L745.63 516.51 L746.25 519.20 L746.88 521.93 L747.50 524.40 L748.12 526.76 L748.74 529.21 L749.37 531.52 L749.99 533.46 L750.60 534.80 L751.13 535.47 L751.59 535.63 L752.07 535.37 L752.67 534.83 L753.50 534.10 L754.62 533.10 L755.98 531.75 L757.46 530.20 L758.94 528.57 L760.30 527.00 L761.58 525.34 L762.84 523.49 L764.06 521.70 L765.19 520.19 L766.20 519.20 L767.03 518.74 L767.71 518.66 L768.32 518.94 L768.92 519.56 L769.60 520.50 L770.36 521.97 L771.16 523.99 L771.98 526.24 L772.80 528.41 L773.60 530.20 L774.33 531.54 L774.99 532.65 L775.69 533.61 L776.49 534.50 L777.50 535.40 L778.82 536.50 L780.38 537.74 L782.04 538.85 L783.63 539.56 L785.00 539.60 L786.09 538.74 L787.02 537.17 L787.84 535.22 L788.65 533.21 L789.50 531.50 L790.42 529.96 L791.37 528.38 L792.31 526.91 L793.20 525.73 L794.00 525.00 L794.67 524.76 L795.24 524.91 L795.76 525.37 L796.33 526.09 L797.00 527.00 L797.83 528.29 L798.76 530.01 L799.74 531.87 L800.67 533.56 L801.50 534.80 L802.16 535.49 L802.69 535.84 L803.19 535.96 L803.76 536.01 L804.50 536.10 L805.53 536.23 L806.78 536.31 L808.08 536.35 L809.21 536.38 L810.00 536.40 L810.50 536.87 L811.25 536.92 L812.00 536.96 L812.75 537.01 L813.50 537.05 L814.25 537.09 L815.00 537.14 L815.75 537.18 L816.50 537.23 L817.25 537.27 L818.00 537.31 L818.75 537.36 L819.50 537.40 L820.25 537.44 L821.00 537.49 L821.75 537.53 L822.50 537.57 L823.25 537.62 L824.00 537.66 L824.75 537.70 L825.50 537.75 L826.25 537.79 L827.00 537.84 L827.75 537.88 L828.50 537.92 L829.25 537.97 L830.00 538.01 L830.75 538.05 L831.50 538.10 L832.25 538.14 L833.00 538.18 L833.75 538.23 L834.50 538.27 L835.25 538.29 L836.00 538.25 L836.75 538.22 L837.50 538.18 L838.25 538.15 L839.00 538.11 L839.75 538.07 L840.50 538.04 L841.25 538.00 L842.00 537.97 L842.75 537.93 L843.50 537.90 L844.25 537.86 L845.00 537.83 L845.75 537.79 L846.50 537.76 L847.25 537.72 L848.00 537.68 L848.75 537.65 L849.50 537.61 L850.25 537.58 L851.00 537.54 L851.75 537.51 L852.50 537.47 L853.25 537.44 L854.00 537.40 L854.75 537.36 L855.50 537.33 L856.25 537.29 L857.00 537.26 L857.75 537.22 L858.50 537.19 L859.25 537.15 L860.00 537.12 L860.75 537.08 L861.50 537.04 L862.25 537.01 L863.00 536.97 L863.75 536.94 L864.50 536.90 L865.25 536.87 L866.00 536.83 L866.75 536.80 L867.50 536.76 L868.25 536.72 L869.00 536.69 L869.75 536.65 L870.50 536.62 L871.25 536.58 L872.00 536.55 L872.75 536.51 L873.50 536.50 L874.25 536.49 L875.00 536.49 L875.75 536.48 L876.50 536.48 L877.25 536.47 L878.00 536.46 L878.75 536.46 L879.50 536.45 L880.25 536.45 L881.00 536.44 L881.75 536.43 L882.50 536.42 L883.25 536.41 L884.00 536.38 L884.75 536.35 L885.50 536.30 L886.25 536.22 L887.00 536.10 L887.75 535.93 L888.50 535.68 L889.25 535.34 L890.00 534.87 L890.75 534.26 L891.50 533.48 L892.25 532.52 L893.00 531.39 L893.75 530.09 L894.50 528.66 L895.25 527.16 L896.00 525.65 L896.75 524.22 L897.50 522.97 L898.25 521.97 L899.00 521.30 L899.75 521.01 L900.50 521.13 L901.25 521.64 L902.00 522.50 L902.75 523.65 L903.50 525.01 L904.25 526.49 L905.00 527.99 L905.75 529.45 L906.50 530.80 L907.25 531.99 L908.00 533.01 L908.75 533.84 L909.50 534.51 L910.25 535.02 L911.00 535.40 L911.75 535.68 L912.50 535.86 L913.25 535.99 L914.00 536.07 L914.75 536.13 L915.50 536.15 L916.25 536.20 L917.00 536.31 L917.75 536.41 L918.50 536.51 L919.25 536.61 L920.00 536.71 L920.75 536.80 L921.50 536.90 L922.25 537.00 L923.00 537.09 L923.75 537.19 L924.50 537.28 L925.25 537.37 L926.00 537.47 L926.75 537.56 L927.50 537.57 L928.25 537.54 L929.00 537.49 L929.75 537.42 L930.50 537.32 L931.25 537.16 L932.00 536.93 L932.75 536.58 L933.50 536.08 L934.25 535.36 L935.00 534.39 L935.75 533.09 L936.50 531.40 L937.25 529.30 L938.00 526.75 L938.75 523.78 L939.50 520.44 L940.25 516.84 L941.00 513.14 L941.75 509.51 L942.50 506.19 L943.25 503.38 L944.00 501.29 L944.75 500.08 L945.50 499.83 L946.25 500.57 L947.00 502.24 L947.75 504.70 L948.50 507.78 L949.25 511.26 L950.00 514.93 L950.75 518.57 L951.50 522.02 L952.25 525.14 L953.00 527.86 L953.75 530.14 L954.50 531.98 L955.25 533.43 L956.00 534.52 L956.75 535.32 L957.50 535.90 L958.25 536.32 L959.00 536.60 L959.75 536.79 L960.50 536.92 L961.25 537.01 L962.00 537.06 L962.75 537.11 L963.50 537.14 L964.25 537.16 L965.00 537.18 L965.75 537.20 L966.50 537.22 L967.25 537.24 L968.00 537.26 L968.75 537.27 L969.50 537.29 L970.25 537.31 L971.00 537.33 L971.75 537.34 L972.50 537.36 L973.25 537.38 L974.00 537.40 L974.75 537.41 L975.50 537.43 L976.25 537.45 L977.00 537.47 L977.75 537.48 L978.50 537.50 L979.25 537.52 L980.00 537.53 L980.75 537.55 L981.50 537.57 L982.25 537.59 L983.00 537.60 L983.75 537.62 L984.50 537.64 L985.25 537.66 L986.00 537.67 L986.75 537.69 L987.50 537.71 L988.25 537.73 L989.00 537.74 L989.75 537.76 L990.50 537.78 L991.25 537.80 L992.00 537.81 L992.75 537.83 L993.50 537.85 L994.25 537.86 L995.00 537.88 L995.75 537.89 L996.50 537.90 L997.25 537.91 L998.00 537.90 L998.75 537.89 L999.50 537.85 L1000.25 537.77 L1001.00 537.63 L1001.75 537.42 L1002.50 537.14 L1003.25 536.77 L1004.00 536.27 L1004.75 535.63 L1005.50 534.82 L1006.25 533.84 L1007.00 532.67 L1007.75 531.34 L1008.50 529.85 L1009.25 528.27 L1010.00 526.64 L1010.75 525.05 L1011.50 523.58 L1012.25 522.32 L1013.00 521.35 L1013.75 520.73 L1014.50 520.50 L1015.25 520.68 L1016.00 521.25 L1016.75 522.18 L1017.50 523.39 L1018.25 524.81 L1019.00 526.35 L1019.75 527.93 L1020.50 529.46 L1021.25 530.89 L1022.00 532.17 L1022.75 533.28 L1023.50 534.20 L1024.25 534.93 L1025.00 535.49 L1025.75 535.95 L1026.50 536.26 L1027.25 536.47 L1028.00 536.58 L1028.75 536.61 L1029.50 536.58 L1030.25 536.50 L1031.00 536.37 L1031.75 536.22 L1032.50 536.05 L1033.25 535.87 L1034.00 535.69 L1034.75 535.53 L1035.50 535.39 L1036.25 535.28 L1037.00 535.21 L1037.75 535.20 L1038.50 535.23 L1039.25 535.31 L1040.00 535.43 L1040.75 535.60 L1041.50 535.80 L1042.25 536.01 L1043.00 536.24 L1043.75 536.47 L1044.50 536.69 L1045.25 536.89 L1046.00 537.06 L1046.75 537.19 L1047.50 537.27 L1048.25 537.27 L1049.00 537.17 L1049.75 536.96 L1050.50 536.60 L1051.25 536.06 L1052.00 535.29 L1052.75 534.25 L1053.50 532.92 L1054.25 531.28 L1055.00 529.34 L1055.75 527.14 L1056.50 524.77 L1057.25 522.35 L1058.00 520.00 L1058.75 517.90 L1059.50 516.20 L1060.25 515.05 L1061.00 514.52 L1061.75 514.68 L1062.50 515.51 L1063.25 516.94 L1064.00 518.84 L1064.75 521.08 L1065.50 523.48 L1066.25 525.90 L1067.00 528.20 L1067.75 530.29 L1068.50 532.10 L1069.25 533.61 L1070.00 534.82 L1070.75 535.75 L1071.50 536.44 L1072.25 536.95 L1073.00 537.31 L1073.75 537.56 L1074.50 537.73 L1075.25 537.84 L1076.00 537.92 L1076.75 537.96 L1077.50 537.99 L1078.25 538.01 L1079.00 538.01 L1079.75 538.00 L1080.50 537.98 L1081.25 537.95 L1082.00 537.91 L1082.75 537.84 L1083.50 537.76 L1084.25 537.65 L1085.00 537.51 L1085.75 537.36 L1086.50 537.17 L1087.25 536.97 L1088.00 536.75 L1088.75 536.51 L1089.50 536.27 L1090.25 536.03 L1091.00 535.81 L1091.75 535.60 L1092.50 535.43 L1093.25 535.30 L1094.00 535.22 L1094.75 535.20 L1095.50 535.23 L1096.25 535.31 L1097.00 535.45 L1097.75 535.63 L1098.50 535.85 L1099.25 536.10 L1100.00 536.37 L1100.75 536.65 L1101.50 536.93 L1102.25 537.20 L1103.00 537.46 L1103.75 537.70 L1104.50 537.91 L1105.25 538.10 L1106.00 538.26 L1106.75 538.40 L1107.50 538.52 L1108.25 538.62 L1109.00 538.70 L1109.75 538.77 L1110.50 538.80 L1111.25 538.82 L1112.00 538.82 L1112.75 538.82 L1113.50 538.82 L1114.25 538.81 L1115.00 538.80 L1115.75 538.79 L1116.50 538.78 L1117.25 538.77 L1118.00 538.76 L1118.75 538.74 L1119.50 538.73 L1120.25 538.72 L1121.00 538.70 L1121.75 538.69 L1122.50 538.68 L1123.25 538.66 L1124.00 538.65 L1124.75 538.64 L1125.50 538.62 L1126.25 538.61 L1127.00 538.60 L1127.75 538.58 L1128.50 538.57 L1129.25 538.56 L1130.00 538.54 L1130.75 538.53 L1131.50 538.52 L1132.25 538.50 L1133.00 538.49 L1133.75 538.48 L1134.50 538.46 L1135.25 538.45 L1136.00 538.44 L1136.75 538.42 L1137.50 538.41 L1138.25 538.40 L1139.00 538.38 L1139.75 538.37 L1140.50 538.36 L1141.25 538.34 L1142.00 538.33 L1142.75 538.32 L1143.50 538.30 L1144.25 538.29 L1145.00 538.27 L1145.75 538.26 L1146.50 538.25 L1147.25 538.23 L1148.00 538.22 L1148.75 538.21 L1149.50 538.19 L1150.25 538.18 L1151.00 538.17 L1151.75 538.15 L1152.50 538.14 L1153.25 538.13 L1154.00 538.11 L1154.75 538.10 L1155.50 538.09 L1156.25 538.07 L1157.00 538.06 L1157.75 538.05 L1158.50 538.03 L1159.25 538.02 L1160.00 538.01 L1160.75 537.99 L1161.50 537.98 L1162.25 537.97 L1163.00 537.95 L1163.75 537.93 L1164.50 537.91 L1165.25 537.89 L1166.00 537.86 L1166.75 537.84 L1167.50 537.80 L1168.25 537.74 L1169.00 537.65 L1169.75 537.53 L1170.50 537.35 L1171.25 537.12 L1172.00 536.81 L1172.75 536.42 L1173.50 535.94 L1174.25 535.38 L1175.00 534.74 L1175.75 534.04 L1176.50 533.31 L1177.25 532.59 L1178.00 531.92 L1178.75 531.33 L1179.50 530.88 L1180.25 530.60 L1181.00 530.50 L1181.75 530.60 L1182.50 530.88 L1183.25 531.33 L1184.00 531.92 L1184.75 532.59 L1185.50 533.31 L1186.25 534.04 L1187.00 534.74 L1187.75 535.38 L1188.50 535.94 L1189.25 536.42 L1190.00 536.81 L1190.75 537.12 L1191.50 537.35 L1192.25 537.52 L1193.00 537.64 L1193.75 537.71 L1194.50 537.76 L1195.25 537.78 L1196.00 537.80 L1196.75 537.80 L1197.50 537.80 L1198.25 537.79 L1199.00 537.78 L1199.75 537.77 L1200.50 537.76 L1201.25 537.75 L1202.00 537.73 L1202.75 537.72 L1203.50 537.71 L1204.25 537.70 L1205.00 537.68 L1205.75 537.67 L1206.50 537.66 L1207.25 537.65 L1208.00 537.63 L1208.75 537.62 L1209.50 537.61 L1210.25 537.60 L1211.00 537.58 L1211.75 537.57 L1212.50 537.56 L1213.25 537.55 L1214.00 537.53 L1214.75 537.52 L1215.50 537.51 L1216.25 537.50 L1217.00 537.50 L1217.75 537.50 L1218.50 537.50 L1219.25 537.48 L1220.00 537.44 L1220.75 537.37 L1221.50 537.25 L1222.25 537.07 L1223.00 536.78 L1223.75 536.36 L1224.50 535.76 L1225.25 534.93 L1226.00 533.83 L1226.75 532.41 L1227.50 530.63 L1228.25 528.50 L1229.00 526.02 L1229.75 523.26 L1230.50 520.31 L1231.25 517.29 L1232.00 514.38 L1232.75 511.75 L1233.50 509.58 L1234.25 508.03 L1235.00 507.21 L1235.75 507.19 L1236.50 507.98 L1237.25 509.50 L1238.00 511.66 L1238.75 514.28 L1239.50 517.20 L1240.25 520.23 L1241.00 523.21 L1241.75 526.01 L1242.50 528.53 L1243.25 530.70 L1244.00 532.52 L1244.75 533.98 L1245.50 535.13 L1246.25 535.99 L1247.00 536.62 L1247.75 537.07 L1248.50 537.39 L1249.25 537.60 L1250.00 537.74 L1250.75 537.83 L1251.50 537.89 L1252.25 537.93 L1253.00 537.95 L1253.75 537.97 L1254.50 537.99 L1255.25 537.99 L1256.00 537.97 L1256.75 537.95 L1257.50 537.93 L1258.25 537.91 L1259.00 537.89 L1259.75 537.87 L1260.50 537.86 L1261.25 537.84 L1262.00 537.82 L1262.75 537.80 L1263.50 537.78 L1264.25 537.76 L1265.00 537.74 L1265.75 537.72 L1266.50 537.70 L1267.25 537.68 L1268.00 537.66 L1268.75 537.64 L1269.50 537.62 L1270.25 537.60 L1271.00 537.58 L1271.75 537.56 L1272.50 537.54 L1273.25 537.52 L1274.00 537.50 L1274.75 537.48 L1275.50 537.46 L1276.25 537.44 L1277.00 537.42 L1277.75 537.40 L1278.50 537.38 L1279.25 537.36 L1280.00 537.34 L1280.75 537.32 L1281.50 537.30 L1282.25 537.28 L1283.00 537.26 L1283.75 537.24 L1284.50 537.22 L1285.25 537.20 L1286.00 537.18 L1286.75 537.16 L1287.50 537.14 L1288.25 537.12 L1289.00 537.11 L1289.75 537.09 L1290.50 537.07 L1291.25 537.05 L1292.00 537.03 L1292.75 537.01 L1293.50 536.97 L1294.25 536.93 L1295.00 536.89 L1295.75 536.85 L1296.50 536.81 L1297.25 536.77 L1298.00 536.73 L1298.75 536.69 L1299.50 536.65 L1300.25 536.61 L1301.00 536.57 L1301.75 536.53 L1302.50 536.49 L1303.25 536.45 L1304.00 536.41 L1304.75 536.37 L1305.50 536.33 L1306.25 536.28 L1307.00 536.24 L1307.75 536.20 L1308.50 536.16 L1309.25 536.12 L1310.00 536.08 L1310.75 536.04 L1311.50 536.00 L1312.25 535.96 L1313.00 535.92 L1313.75 535.88 L1314.50 535.84 L1315.25 535.80 L1316.00 535.76 L1316.75 535.72 L1317.50 535.68 L1318.25 535.64 L1319.00 535.60 L1319.75 535.56 L1320.50 535.52 L1321.25 535.48 L1322.00 535.43 L1322.75 535.39 L1323.50 535.35 L1324.25 535.31 L1325.00 535.27 L1325.75 535.23 L1326.50 535.19 L1327.25 535.15 L1328.00 535.11 L1328.75 535.07 L1329.50 535.03 L1330.25 534.99 L1331.00 534.95 L1331.75 534.91 L1332.50 534.87 L1333.25 534.83 L1334.00 534.79 L1334.75 534.75 L1335.50 534.71 L1336.25 534.67 L1337.00 534.63 L1337.75 534.58 L1338.50 534.54 L1339.25 534.50 L1340.00 534.46 L1340.75 534.42 L1341.50 534.38 L1342.25 534.34 L1343.00 534.30 L1343.75 534.26 L1344.50 534.22 L1345.25 534.18 L1346.00 534.14 L1346.75 534.10 L1347.50 534.06 L1348.25 534.02 L1349.00 533.98 L1349.75 533.94 L1350.50 533.90 L1351.25 533.86 L1352.00 533.81 L1352.75 533.77 L1353.50 533.73 L1354.25 533.68 L1355.00 533.63 L1355.75 533.57 L1356.50 533.52 L1357.25 533.46 L1358.00 533.37 L1358.75 533.24 L1359.50 533.05 L1360.25 532.79 L1361.00 532.45 L1361.75 532.01 L1362.50 531.47 L1363.25 530.85 L1364.00 530.16 L1364.75 529.45 L1365.50 528.75 L1366.25 528.13 L1367.00 527.64 L1367.75 527.32 L1368.50 527.20 L1369.25 527.30 L1370.00 527.61 L1370.75 528.09 L1371.50 528.70 L1372.25 529.38 L1373.00 530.08 L1373.75 530.75 L1374.50 531.36 L1375.25 531.88 L1376.00 532.31 L1376.75 532.64 L1377.50 532.89 L1378.25 533.06 L1379.00 533.17 L1379.75 533.24 L1380.50 533.28 L1381.25 533.30 L1382.00 533.31 L1382.75 533.31 L1383.50 533.30 L1384.25 533.28 L1385.00 533.25 L1385.75 533.21 L1386.50 533.14 L1387.25 533.02 L1388.00 532.81 L1388.75 532.47 L1389.50 531.91 L1390.25 531.03 L1391.00 529.69 L1391.75 527.78 L1392.50 525.15 L1393.25 521.69 L1394.00 517.34 L1394.75 512.14 L1395.50 506.22 L1396.25 499.87 L1397.00 493.51 L1397.75 487.63 L1398.50 482.75 L1399.25 479.35 L1400.00 477.78 L1400.75 478.21 L1401.50 480.57 L1402.25 484.62 L1403.00 489.94 L1403.75 496.01 L1404.50 502.33 L1405.25 508.43 L1406.00 513.95 L1406.75 518.67 L1407.50 522.50 L1408.25 525.46 L1409.00 527.64 L1409.75 529.15 L1410.50 530.15 L1411.25 530.78 L1412.00 531.16 L1412.75 531.35 L1413.50 531.40 L1414.25 531.35 L1415.00 531.22 L1415.75 531.02 L1416.50 530.78 L1417.25 530.48 L1418.00 530.16 L1418.75 529.82 L1419.50 529.48 L1420.25 529.16 L1421.00 528.88 L1421.75 528.67 L1422.50 528.54 L1423.25 528.50 L1424.00 528.55 L1424.75 528.70 L1425.50 528.93 L1426.25 529.23 L1427.00 529.57 L1427.75 529.94 L1428.50 530.31 L1429.25 530.66 L1430.00 530.99 L1430.75 531.28 L1431.50 531.53 L1432.25 531.74 L1433.00 531.91 L1433.75 531.94 L1434.50 531.95 L1435.25 531.93 L1436.00 531.89 L1436.75 531.84 L1437.50 531.77 L1438.25 531.69 L1439.00 531.60 L1439.75 531.49 L1440.50 531.33 L1441.25 531.09 L1442.00 530.72 L1442.75 530.12 L1443.50 529.15 L1444.25 527.64 L1445.00 525.33 L1445.75 521.86 L1446.50 516.89 L1447.25 510.08 L1448.00 501.19 L1448.75 490.18 L1449.50 477.25 L1450.25 462.95 L1451.00 448.16 L1451.75 434.01 L1452.50 421.80 L1453.25 412.77 L1454.00 407.89 L1454.75 407.72 L1455.50 412.27 L1456.25 421.03 L1457.00 433.04 L1457.75 447.07 L1458.50 461.83 L1459.25 476.15 L1460.00 489.13 L1460.75 500.18 L1461.50 509.04 L1462.25 515.71 L1463.00 520.33 L1463.75 523.13 L1464.50 524.32 L1465.25 524.06 L1466.00 522.43 L1466.75 519.46 L1467.50 515.15 L1468.25 509.56 L1469.00 502.84 L1469.75 495.29 L1470.50 487.39 L1471.25 479.73 L1472.00 473.02 L1472.75 467.92 L1473.50 464.98 L1474.25 464.54 L1475.00 466.65 L1475.75 471.06 L1476.50 477.29 L1477.25 484.69 L1478.00 492.58 L1478.75 500.31 L1479.50 507.39 L1480.25 513.49 L1481.00 518.46 L1481.75 522.30 L1482.50 525.13 L1483.25 527.11 L1484.00 528.44 L1484.75 529.32 L1485.50 529.87 L1486.25 530.21 L1487.00 530.40 L1487.75 530.52 L1488.50 530.59 L1489.25 530.64 L1490.00 530.68 L1490.75 530.70 L1491.50 530.73 L1492.25 530.75 L1493.00 530.78 L1493.75 530.80 L1494.50 530.82 L1495.25 530.85 L1496.00 530.87 L1496.75 530.89 L1497.50 530.84 L1498.25 530.74 L1499.00 530.64 L1499.75 530.55 L1500.50 530.45 L1501.25 530.35 L1502.00 530.26 L1502.75 530.16 L1503.50 530.06 L1504.25 529.97 L1505.00 529.87 L1505.75 529.77 L1506.50 529.68 L1507.25 529.58 L1508.00 529.49 L1508.75 529.39 L1509.50 529.29 L1510.25 529.20 L1511.00 529.10 L1511.75 529.00 L1512.50 528.91 L1513.25 528.81 L1514.00 528.71 L1514.75 528.62 L1515.50 528.52 L1516.25 528.42 L1517.00 528.33 L1517.75 528.23 L1518.50 528.16 L1519.25 528.11 L1520.00 528.05 L1520.75 527.98 L1521.50 527.90 L1522.25 527.80 L1523.00 527.68 L1523.75 527.52 L1524.50 527.32 L1525.25 527.07 L1526.00 526.76 L1526.75 526.38 L1527.50 525.95 L1528.25 525.48 L1529.00 524.99 L1529.75 524.52 L1530.50 524.10 L1531.25 523.75 L1532.00 523.51 L1532.75 523.40 L1533.50 523.41 L1534.25 523.54 L1535.00 523.78 L1535.75 524.10 L1536.50 524.45 L1537.25 524.81 L1538.00 525.16 L1538.75 525.46 L1539.50 525.72 L1540.25 525.91 L1541.00 526.05 L1541.75 526.20 L1542.50 526.31 L1543.25 526.38 L1544.00 526.43 L1544.75 526.46 L1545.50 526.48 L1546.25 526.48 L1547.00 526.49 L1547.75 526.48 L1548.50 526.46 L1549.25 526.40 L1550.00 526.50 L1551.60 526.00 L1554.10 519.30 L1557.40 486.20 L1560.70 458.90 L1562.80 464.00 L1564.90 469.70 L1567.40 444.80 L1568.60 410.00 L1569.80 330.00 L1570.60 255.00 L1571.10 210.00 L1572.90 185.00 L1575.70 190.00 L1576.90 255.00 L1578.10 330.00 L1579.80 410.00 L1580.60 483.00 L1583.90 517.70 L1589.70 524.30 L1598.00 526.30 L1598.75 526.26 L1599.50 526.22 L1600.25 526.18 L1601.00 526.14 L1601.75 526.10 L1602.50 526.06 L1603.25 526.02 L1604.00 525.98 L1604.75 525.94 L1605.50 525.89 L1606.25 525.85 L1607.00 525.80 L1607.75 525.75 L1608.50 525.67 L1609.25 525.54 L1610.00 525.32 L1610.75 524.94 L1611.50 524.31 L1612.25 523.26 L1613.00 521.58 L1613.75 519.06 L1614.50 515.53 L1615.25 510.92 L1616.00 505.32 L1616.75 499.05 L1617.50 492.69 L1618.25 486.94 L1619.00 482.59 L1619.75 480.27 L1620.50 480.35 L1621.25 482.80 L1622.00 487.25 L1622.75 493.04 L1623.50 499.41 L1624.25 505.62 L1625.00 511.15 L1625.75 515.68 L1626.50 519.12 L1627.25 521.55 L1628.00 523.17 L1628.75 524.17 L1629.50 524.76 L1630.25 525.08 L1631.00 525.25 L1631.75 525.33 L1632.50 525.37 L1633.25 525.39 L1634.00 525.40 L1634.75 525.40 L1635.50 525.40 L1636.25 525.40 L1637.00 525.40 L1637.75 525.40 L1638.50 525.40 L1639.25 525.40 L1640.00 525.40 L1640.75 525.40 L1641.50 525.40 L1642.25 525.40 L1643.00 525.40 L1643.75 525.40 L1644.50 525.40 L1645.25 525.40 L1646.00 525.40 L1646.75 525.40 L1647.50 525.39 L1648.25 525.38 L1649.00 525.36 L1649.75 525.35 L1650.50 525.34 L1651.25 525.32 L1652.00 525.31 L1652.75 525.30 L1653.50 525.28 L1654.25 525.27 L1655.00 525.25 L1655.75 525.24 L1656.50 525.23 L1657.25 525.21 L1658.00 525.20 L1658.75 525.19 L1659.50 525.17 L1660.25 525.16 L1661.00 525.15 L1661.75 525.13 L1662.50 525.12 L1663.25 525.10 L1664.00 525.09 L1664.75 525.08 L1665.50 525.06 L1666.25 525.05 L1667.00 525.04 L1667.75 525.02 L1668.50 525.01 L1669.25 525.00 L1670.00 524.98 L1670.75 524.97 L1671.50 524.95 L1672.25 524.94 L1673.00 524.93 L1673.75 524.91 L1674.50 524.90 L1675.25 524.89 L1676.00 524.87 L1676.75 524.86 L1677.50 524.85 L1678.25 524.83 L1679.00 524.82 L1679.75 524.80 L1680.50 524.77 L1681.25 524.73 L1682.00 524.69 L1682.75 524.65 L1683.50 524.61 L1684.25 524.57 L1685.00 524.53 L1685.75 524.49 L1686.50 524.45 L1687.25 524.41 L1688.00 524.38 L1688.75 524.34 L1689.50 524.30 L1690.25 524.26 L1691.00 524.22 L1691.75 524.18 L1692.50 524.14 L1693.25 524.10 L1694.00 524.06 L1694.75 524.02 L1695.50 523.98 L1696.25 523.94 L1697.00 523.90 L1697.75 523.86 L1698.50 523.82 L1699.25 523.78 L1700.00 523.74 L1700.75 523.70 L1701.50 523.66 L1702.25 523.62 L1703.00 523.58 L1703.75 523.54 L1704.50 523.50 L1705.25 523.45 L1706.00 523.41 L1706.75 523.36 L1707.50 523.31 L1708.25 523.25 L1709.00 523.17 L1709.75 523.07 L1710.50 522.94 L1711.25 522.77 L1712.00 522.53 L1712.75 522.18 L1713.50 521.75 L1714.25 521.23 L1715.00 520.63 L1715.75 519.96 L1716.50 519.25 L1717.25 518.53 L1718.00 517.86 L1718.75 517.28 L1719.50 516.84 L1720.25 516.56 L1721.00 516.48 L1721.75 516.58 L1722.50 516.85 L1723.25 517.26 L1724.00 517.75 L1724.75 518.28 L1725.50 518.80 L1726.25 519.28 L1727.00 519.70 L1727.75 520.02 L1728.50 520.26 L1729.25 520.42 L1730.00 520.50 L1730.75 520.61 L1731.50 520.66 L1732.25 520.66 L1733.00 520.63 L1733.75 520.56 L1734.50 520.45 L1735.25 520.30 L1736.00 520.11 L1736.75 519.89 L1737.50 519.62 L1738.25 519.33 L1739.00 519.02 L1739.75 518.70 L1740.50 518.39 L1741.25 518.11 L1742.00 517.88 L1742.75 517.71 L1743.50 517.62 L1744.25 517.61 L1745.00 517.68 L1745.75 517.83 L1746.50 518.04 L1747.25 518.30 L1748.00 518.59 L1748.75 518.90 L1749.50 519.19 L1750.25 519.47 L1751.00 519.72 L1751.75 519.94 L1752.50 520.12 L1753.25 520.26 L1754.00 520.37 L1754.75 520.45 L1755.50 520.50 L1756.25 520.54 L1757.00 520.57 L1757.75 520.58 L1758.50 520.58 L1759.25 520.57 L1760.00 520.52 L1760.75 520.47 L1761.50 520.42 L1762.25 520.37 L1763.00 520.32 L1763.75 520.27 L1764.50 520.21 L1765.25 520.16 L1766.00 520.11 L1766.75 520.06 L1767.50 520.00 L1768.25 519.95 L1769.00 519.90 L1769.75 519.85 L1770.50 519.79 L1771.25 519.74 L1772.00 519.69 L1772.75 519.64 L1773.50 519.58 L1774.25 519.53 L1775.00 519.48 L1775.75 519.43 L1776.50 519.37 L1777.25 519.32 L1778.00 519.27 L1778.75 519.22 L1779.50 519.16 L1780.25 519.11 L1781.00 519.06 L1781.75 519.01 L1782.50 518.96 L1783.25 518.90 L1784.00 518.85 L1784.75 518.80 L1785.50 518.75 L1786.25 518.69 L1787.00 518.64 L1787.75 518.59" fill="none" stroke="#ED7D31" stroke-width="2.5" stroke-linejoin="round"/>
<path d="M658.50 526.60 L687.60 526.60 L688.60 526.60 L689.20 492.00 L689.90 512.00 L690.40 496.00 L691.10 507.00 L691.70 499.00 L692.60 504.00 L693.60 501.00 L695.00 501.73 L695.75 501.83 L696.50 501.93 L697.25 502.03 L698.00 502.12 L698.75 502.22 L699.50 502.32 L700.25 502.42 L701.00 502.52 L701.75 502.61 L702.50 502.71 L703.25 502.81 L704.00 502.91 L704.75 503.01 L705.50 503.10 L706.25 503.20 L707.00 503.30 L707.75 503.28 L708.50 503.26 L709.25 503.24 L710.00 503.22 L710.75 503.20 L711.50 503.18 L712.25 503.16 L713.00 503.14 L713.75 503.12 L714.50 503.10 L715.25 503.08 L716.00 503.06 L716.75 503.04 L717.50 503.02 L718.25 503.00 L719.00 502.98 L719.75 502.96 L720.50 502.94 L721.25 502.92 L722.00 502.90 L722.75 502.87 L723.50 502.85 L724.25 502.83 L725.00 502.81 L725.75 502.78 L726.50 502.74 L727.25 502.69 L728.00 502.62 L728.75 502.51 L729.50 502.35 L730.25 502.12 L731.00 501.78 L731.75 501.30 L732.50 500.63 L733.10 502.70 L733.29 502.59 L733.54 502.56 L733.86 502.36 L734.25 501.75 L734.70 500.50 L735.24 498.29 L735.85 495.29 L736.53 491.96 L737.26 488.77 L738.00 486.20 L738.81 484.23 L739.71 482.55 L740.61 481.18 L741.47 480.12 L742.20 479.40 L742.78 478.99 L743.25 478.89 L743.66 479.11 L744.06 479.71 L744.50 480.70 L744.97 482.30 L745.43 484.49 L745.91 486.95 L746.43 489.36 L747.00 491.40 L747.67 493.13 L748.42 494.76 L749.20 496.20 L749.95 497.38 L750.60 498.20 L751.06 498.66 L751.37 498.82 L751.68 498.69 L752.13 498.28 L752.90 497.60 L754.07 496.55 L755.55 495.11 L757.18 493.45 L758.82 491.73 L760.30 490.10 L761.66 488.41 L763.01 486.55 L764.29 484.76 L765.47 483.26 L766.50 482.30 L767.32 481.88 L767.96 481.84 L768.51 482.18 L769.06 482.87 L769.70 483.90 L770.42 485.49 L771.18 487.64 L771.96 490.04 L772.76 492.37 L773.60 494.30 L774.44 495.79 L775.27 497.04 L776.15 498.14 L777.11 499.16 L778.20 500.20 L779.50 501.43 L780.98 502.80 L782.52 504.04 L784.00 504.86 L785.30 505.00 L786.38 504.28 L787.31 502.89 L788.17 501.08 L789.01 499.10 L789.90 497.20 L790.87 495.12 L791.86 492.71 L792.86 490.33 L793.81 488.36 L794.70 487.20 L795.48 486.98 L796.18 487.46 L796.85 488.41 L797.54 489.60 L798.30 490.80 L799.10 492.19 L799.91 493.92 L800.76 495.73 L801.71 497.34 L802.80 498.50 L804.18 499.10 L805.83 499.32 L807.51 499.31 L808.98 499.22 L810.00 499.20 L810.50 499.43 L811.25 499.43 L812.00 499.43 L812.75 499.42 L813.50 499.42 L814.25 499.41 L815.00 499.40 L815.75 499.40 L816.50 499.39 L817.25 499.38 L818.00 499.38 L818.75 499.37 L819.50 499.36 L820.25 499.35 L821.00 499.35 L821.75 499.34 L822.50 499.33 L823.25 499.33 L824.00 499.32 L824.75 499.31 L825.50 499.30 L826.25 499.37 L827.00 499.60 L827.75 499.82 L828.50 500.05 L829.25 500.27 L830.00 500.50 L830.75 500.73 L831.50 500.95 L832.25 501.18 L833.00 501.40 L833.75 501.62 L834.50 501.85 L835.25 501.99 L836.00 501.94 L836.75 501.90 L837.50 501.86 L838.25 501.81 L839.00 501.77 L839.75 501.73 L840.50 501.68 L841.25 501.64 L842.00 501.59 L842.75 501.55 L843.50 501.51 L844.25 501.46 L845.00 501.42 L845.75 501.38 L846.50 501.33 L847.25 501.29 L848.00 501.25 L848.75 501.20 L849.50 501.16 L850.25 501.12 L851.00 501.07 L851.75 501.03 L852.50 500.99 L853.25 500.94 L854.00 500.90 L854.75 500.86 L855.50 500.81 L856.25 500.77 L857.00 500.73 L857.75 500.68 L858.50 500.64 L859.25 500.60 L860.00 500.55 L860.75 500.51 L861.50 500.47 L862.25 500.42 L863.00 500.38 L863.75 500.34 L864.50 500.29 L865.25 500.25 L866.00 500.21 L866.75 500.16 L867.50 500.12 L868.25 500.07 L869.00 500.03 L869.75 499.99 L870.50 499.94 L871.25 499.90 L872.00 499.86 L872.75 499.81 L873.50 499.87 L874.25 499.98 L875.00 500.09 L875.75 500.19 L876.50 500.30 L877.25 500.41 L878.00 500.51 L878.75 500.62 L879.50 500.73 L880.25 500.79 L881.00 500.76 L881.75 500.72 L882.50 500.69 L883.25 500.64 L884.00 500.58 L884.75 500.50 L885.50 500.39 L886.25 500.23 L887.00 500.00 L887.75 499.68 L888.50 499.23 L889.25 498.61 L890.00 497.80 L890.75 496.75 L891.50 495.44 L892.25 493.86 L893.00 492.01 L893.75 489.93 L894.50 487.68 L895.25 485.35 L896.00 483.07 L896.75 480.97 L897.50 479.18 L898.25 477.83 L899.00 477.02 L899.75 476.81 L900.50 477.21 L901.25 478.19 L902.00 479.68 L902.75 481.55 L903.50 483.69 L904.25 485.95 L905.00 488.20 L905.75 490.34 L906.50 492.28 L907.25 493.97 L908.00 495.39 L908.75 496.54 L909.50 497.44 L910.25 498.11 L911.00 498.60 L911.75 498.94 L912.50 499.17 L913.25 499.31 L914.00 499.40 L914.75 499.44 L915.50 499.46 L916.25 499.53 L917.00 499.73 L917.75 499.92 L918.50 500.11 L919.25 500.30 L920.00 500.48 L920.75 500.67 L921.50 500.85 L922.25 501.03 L923.00 501.22 L923.75 501.40 L924.50 501.58 L925.25 501.76 L926.00 501.93 L926.75 502.10 L927.50 502.10 L928.25 501.99 L929.00 501.86 L929.75 501.66 L930.50 501.39 L931.25 500.99 L932.00 500.43 L932.75 499.65 L933.50 498.57 L934.25 497.13 L935.00 495.26 L935.75 492.89 L936.50 489.99 L937.25 486.57 L938.00 482.67 L938.75 478.40 L939.50 473.91 L940.25 469.43 L941.00 465.20 L941.75 461.49 L942.50 458.56 L943.25 456.62 L944.00 455.82 L944.75 456.20 L945.50 457.75 L946.25 460.33 L947.00 463.75 L947.75 467.76 L948.50 472.10 L949.25 476.50 L950.00 480.75 L950.75 484.66 L951.50 488.11 L952.25 491.05 L953.00 493.45 L953.75 495.35 L954.50 496.79 L955.25 497.86 L956.00 498.61 L956.75 499.15 L957.50 499.51 L958.25 499.75 L959.00 499.89 L959.75 499.97 L960.50 500.01 L961.25 500.03 L962.00 500.03 L962.75 500.03 L963.50 500.01 L964.25 500.00 L965.00 499.98 L965.75 499.97 L966.50 499.95 L967.25 499.93 L968.00 499.91 L968.75 499.89 L969.50 499.88 L970.25 499.86 L971.00 499.84 L971.75 499.82 L972.50 499.80 L973.25 499.79 L974.00 499.77 L974.75 499.75 L975.50 499.73 L976.25 499.71 L977.00 499.70 L977.75 499.68 L978.50 499.66 L979.25 499.64 L980.00 499.62 L980.75 499.61 L981.50 499.67 L982.25 499.77 L983.00 499.87 L983.75 499.98 L984.50 500.08 L985.25 500.18 L986.00 500.28 L986.75 500.39 L987.50 500.49 L988.25 500.59 L989.00 500.69 L989.75 500.80 L990.50 500.90 L991.25 501.00 L992.00 501.10 L992.75 501.21 L993.50 501.31 L994.25 501.41 L995.00 501.51 L995.75 501.60 L996.50 501.70 L997.25 501.78 L998.00 501.86 L998.75 501.92 L999.50 501.96 L1000.25 501.92 L1001.00 501.77 L1001.75 501.55 L1002.50 501.27 L1003.25 500.90 L1004.00 500.42 L1004.75 499.83 L1005.50 499.11 L1006.25 498.27 L1007.00 497.31 L1007.75 496.27 L1008.50 495.16 L1009.25 494.05 L1010.00 492.98 L1010.75 492.01 L1011.50 491.21 L1012.25 490.61 L1013.00 490.27 L1013.75 490.21 L1014.50 490.42 L1015.25 490.90 L1016.00 491.61 L1016.75 492.49 L1017.50 493.50 L1018.25 494.57 L1019.00 495.65 L1019.75 496.68 L1020.50 497.63 L1021.25 498.46 L1022.00 499.18 L1022.75 499.75 L1023.50 500.20 L1024.25 500.52 L1025.00 500.72 L1025.75 500.81 L1026.50 500.77 L1027.25 500.61 L1028.00 500.35 L1028.75 499.97 L1029.50 499.49 L1030.25 498.89 L1031.00 498.19 L1031.75 497.38 L1032.50 496.50 L1033.25 495.57 L1034.00 494.62 L1034.75 493.71 L1035.50 492.87 L1036.25 492.17 L1037.00 491.63 L1037.75 491.30 L1038.50 491.19 L1039.25 491.31 L1040.00 491.65 L1040.75 492.17 L1041.50 492.84 L1042.25 493.61 L1043.00 494.43 L1043.75 495.26 L1044.50 496.04 L1045.25 496.74 L1046.00 497.33 L1046.75 497.78 L1047.50 498.08 L1048.25 498.21 L1049.00 498.18 L1049.75 497.91 L1050.50 497.38 L1051.25 496.56 L1052.00 495.42 L1052.75 493.95 L1053.50 492.16 L1054.25 490.10 L1055.00 487.83 L1055.75 485.47 L1056.50 483.14 L1057.25 481.01 L1058.00 479.24 L1058.75 477.96 L1059.50 477.29 L1060.25 477.28 L1061.00 477.94 L1061.75 479.21 L1062.50 480.99 L1063.25 483.14 L1064.00 485.49 L1064.75 487.90 L1065.50 490.22 L1066.25 492.36 L1067.00 494.24 L1067.75 495.82 L1068.50 497.10 L1069.25 498.11 L1070.00 498.86 L1070.75 499.42 L1071.50 499.81 L1072.25 500.08 L1073.00 500.27 L1073.75 500.40 L1074.50 500.49 L1075.25 500.55 L1076.00 500.59 L1076.75 500.62 L1077.50 500.64 L1078.25 500.66 L1079.00 500.66 L1079.75 500.65 L1080.50 500.63 L1081.25 500.59 L1082.00 500.52 L1082.75 500.44 L1083.50 500.33 L1084.25 500.19 L1085.00 500.02 L1085.75 499.82 L1086.50 499.60 L1087.25 499.35 L1088.00 499.10 L1088.75 498.84 L1089.50 498.60 L1090.25 498.38 L1091.00 498.20 L1091.75 498.08 L1092.50 498.01 L1093.25 498.00 L1094.00 498.06 L1094.75 498.19 L1095.50 498.38 L1096.25 498.61 L1097.00 498.88 L1097.75 499.18 L1098.50 499.49 L1099.25 499.79 L1100.00 500.08 L1100.75 500.35 L1101.50 500.60 L1102.25 500.81 L1103.00 501.00 L1103.75 501.16 L1104.50 501.29 L1105.25 501.38 L1106.00 501.41 L1106.75 501.43 L1107.50 501.44 L1108.25 501.43 L1109.00 501.42 L1109.75 501.40 L1110.50 501.38 L1111.25 501.36 L1112.00 501.33 L1112.75 501.31 L1113.50 501.28 L1114.25 501.25 L1115.00 501.22 L1115.75 501.20 L1116.50 501.17 L1117.25 501.14 L1118.00 501.11 L1118.75 501.08 L1119.50 501.06 L1120.25 501.03 L1121.00 501.00 L1121.75 501.05 L1122.50 501.10 L1123.25 501.16 L1124.00 501.21 L1124.75 501.26 L1125.50 501.31 L1126.25 501.37 L1127.00 501.42 L1127.75 501.47 L1128.50 501.52 L1129.25 501.58 L1130.00 501.63 L1130.75 501.68 L1131.50 501.73 L1132.25 501.79 L1133.00 501.84 L1133.75 501.89 L1134.50 501.94 L1135.25 502.00 L1136.00 502.05 L1136.75 502.10 L1137.50 502.15 L1138.25 502.21 L1139.00 502.26 L1139.75 502.31 L1140.50 502.36 L1141.25 502.36 L1142.00 502.25 L1142.75 502.14 L1143.50 502.02 L1144.25 501.91 L1145.00 501.80 L1145.75 501.69 L1146.50 501.57 L1147.25 501.46 L1148.00 501.35 L1148.75 501.24 L1149.50 501.12 L1150.25 501.01 L1151.00 500.90 L1151.75 500.79 L1152.50 500.67 L1153.25 500.56 L1154.00 500.45 L1154.75 500.34 L1155.50 500.36 L1156.25 500.45 L1157.00 500.54 L1157.75 500.62 L1158.50 500.71 L1159.25 500.80 L1160.00 500.89 L1160.75 500.97 L1161.50 501.06 L1162.25 501.14 L1163.00 501.21 L1163.75 501.27 L1164.50 501.32 L1165.25 501.35 L1166.00 501.34 L1166.75 501.18 L1167.50 500.97 L1168.25 500.67 L1169.00 500.28 L1169.75 499.78 L1170.50 499.16 L1171.25 498.41 L1172.00 497.53 L1172.75 496.54 L1173.50 495.47 L1174.25 494.37 L1175.00 493.29 L1175.75 492.29 L1176.50 491.44 L1177.25 490.80 L1178.00 490.41 L1178.75 490.30 L1179.50 490.49 L1180.25 490.95 L1181.00 491.65 L1181.75 492.53 L1182.50 493.53 L1183.25 494.60 L1184.00 495.66 L1184.75 496.66 L1185.50 497.58 L1186.25 498.37 L1187.00 499.04 L1187.75 499.58 L1188.50 499.99 L1189.25 500.31 L1190.00 500.54 L1190.75 500.69 L1191.50 500.80 L1192.25 500.88 L1193.00 500.97 L1193.75 501.05 L1194.50 501.11 L1195.25 501.16 L1196.00 501.21 L1196.75 501.25 L1197.50 501.30 L1198.25 501.34 L1199.00 501.38 L1199.75 501.42 L1200.50 501.46 L1201.25 501.50 L1202.00 501.54 L1202.75 501.58 L1203.50 501.62 L1204.25 501.66 L1205.00 501.70 L1205.75 501.74 L1206.50 501.79 L1207.25 501.83 L1208.00 501.87 L1208.75 501.91 L1209.50 501.95 L1210.25 501.99 L1211.00 502.03 L1211.75 502.07 L1212.50 502.11 L1213.25 502.14 L1214.00 502.18 L1214.75 502.20 L1215.50 502.22 L1216.25 502.21 L1217.00 502.14 L1217.75 502.03 L1218.50 501.86 L1219.25 501.59 L1220.00 501.19 L1220.75 500.60 L1221.50 499.78 L1222.25 498.65 L1223.00 497.16 L1223.75 495.24 L1224.50 492.87 L1225.25 490.03 L1226.00 486.76 L1226.75 483.13 L1227.50 479.27 L1228.25 475.36 L1229.00 471.61 L1229.75 468.25 L1230.50 465.53 L1231.25 463.62 L1232.00 462.68 L1232.75 462.79 L1233.50 463.93 L1234.25 466.01 L1235.00 468.88 L1235.75 472.33 L1236.50 476.13 L1237.25 480.05 L1238.00 483.88 L1238.75 487.45 L1239.50 490.64 L1240.25 493.38 L1241.00 495.66 L1241.75 497.49 L1242.50 498.90 L1243.25 499.96 L1244.00 500.74 L1244.75 501.28 L1245.50 501.65 L1246.25 501.90 L1247.00 502.06 L1247.75 502.16 L1248.50 502.22 L1249.25 502.26 L1250.00 502.28 L1250.75 502.27 L1251.50 502.26 L1252.25 502.24 L1253.00 502.22 L1253.75 502.21 L1254.50 502.19 L1255.25 502.17 L1256.00 502.15 L1256.75 502.13 L1257.50 502.11 L1258.25 502.09 L1259.00 502.07 L1259.75 502.06 L1260.50 502.04 L1261.25 502.02 L1262.00 502.00 L1262.75 501.98 L1263.50 501.96 L1264.25 501.94 L1265.00 501.92 L1265.75 501.91 L1266.50 501.89 L1267.25 501.87 L1268.00 501.85 L1268.75 501.83 L1269.50 501.81 L1270.25 501.79 L1271.00 501.77 L1271.75 501.76 L1272.50 501.74 L1273.25 501.72 L1274.00 501.70 L1274.75 501.68 L1275.50 501.66 L1276.25 501.64 L1277.00 501.62 L1277.75 501.61 L1278.50 501.59 L1279.25 501.57 L1280.00 501.55 L1280.75 501.53 L1281.50 501.51 L1282.25 501.49 L1283.00 501.48 L1283.75 501.46 L1284.50 501.44 L1285.25 501.42 L1286.00 501.40 L1286.75 501.38 L1287.50 501.36 L1288.25 501.34 L1289.00 501.32 L1289.75 501.31 L1290.50 501.29 L1291.25 501.27 L1292.00 501.25 L1292.75 501.23 L1293.50 501.21 L1294.25 501.19 L1295.00 501.15 L1295.75 501.11 L1296.50 501.07 L1297.25 501.03 L1298.00 500.99 L1298.75 500.95 L1299.50 500.92 L1300.25 500.88 L1301.00 500.84 L1301.75 500.80 L1302.50 500.76 L1303.25 500.72 L1304.00 500.68 L1304.75 500.65 L1305.50 500.61 L1306.25 500.57 L1307.00 500.53 L1307.75 500.49 L1308.50 500.45 L1309.25 500.41 L1310.00 500.37 L1310.75 500.34 L1311.50 500.30 L1312.25 500.26 L1313.00 500.22 L1313.75 500.18 L1314.50 500.14 L1315.25 500.10 L1316.00 500.06 L1316.75 500.03 L1317.50 499.99 L1318.25 499.95 L1319.00 499.91 L1319.75 499.87 L1320.50 499.83 L1321.25 499.79 L1322.00 499.75 L1322.75 499.72 L1323.50 499.68 L1324.25 499.64 L1325.00 499.60 L1325.75 499.56 L1326.50 499.52 L1327.25 499.48 L1328.00 499.45 L1328.75 499.41 L1329.50 499.37 L1330.25 499.33 L1331.00 499.29 L1331.75 499.25 L1332.50 499.21 L1333.25 499.17 L1334.00 499.14 L1334.75 499.10 L1335.50 499.06 L1336.25 499.02 L1337.00 498.98 L1337.75 498.94 L1338.50 498.90 L1339.25 498.86 L1340.00 498.83 L1340.75 498.79 L1341.50 498.75 L1342.25 498.71 L1343.00 498.67 L1343.75 498.63 L1344.50 498.59 L1345.25 498.55 L1346.00 498.52 L1346.75 498.48 L1347.50 498.44 L1348.25 498.40 L1349.00 498.36 L1349.75 498.32 L1350.50 498.28 L1351.25 498.24 L1352.00 498.20 L1352.75 498.14 L1353.50 498.08 L1354.25 498.00 L1355.00 497.87 L1355.75 497.69 L1356.50 497.42 L1357.25 497.02 L1358.00 496.42 L1358.75 495.54 L1359.50 494.32 L1360.25 492.71 L1361.00 490.68 L1361.75 488.26 L1362.50 485.52 L1363.25 482.63 L1364.00 479.78 L1364.75 477.23 L1365.50 475.22 L1366.25 473.96 L1367.00 473.61 L1367.75 474.18 L1368.50 475.63 L1369.25 477.78 L1370.00 480.40 L1370.75 483.26 L1371.50 486.10 L1372.25 488.73 L1373.00 491.03 L1373.75 492.92 L1374.50 494.39 L1375.25 495.48 L1376.00 496.25 L1376.75 496.77 L1377.50 497.08 L1378.25 497.26 L1379.00 497.34 L1379.75 497.37 L1380.50 497.37 L1381.25 497.35 L1382.00 497.31 L1382.75 497.27 L1383.50 497.21 L1384.25 497.14 L1385.00 497.03 L1385.75 496.86 L1386.50 496.58 L1387.25 496.11 L1388.00 495.34 L1388.75 494.11 L1389.50 492.20 L1390.25 489.35 L1391.00 485.27 L1391.75 479.65 L1392.50 472.26 L1393.25 462.98 L1394.00 451.90 L1394.75 439.34 L1395.50 425.94 L1396.25 412.57 L1397.00 400.28 L1397.75 390.19 L1398.50 383.29 L1399.25 380.29 L1400.00 381.52 L1400.75 386.84 L1401.50 395.67 L1402.25 407.11 L1403.00 420.09 L1403.75 433.51 L1404.50 446.40 L1405.25 458.03 L1406.00 467.96 L1406.75 476.00 L1407.50 482.19 L1408.25 486.74 L1409.00 489.91 L1409.75 492.00 L1410.50 493.28 L1411.25 493.98 L1412.00 494.27 L1412.75 494.26 L1413.50 494.02 L1414.25 493.59 L1415.00 493.01 L1415.75 492.29 L1416.50 491.48 L1417.25 490.60 L1418.00 489.70 L1418.75 488.83 L1419.50 488.05 L1420.25 487.43 L1421.00 487.00 L1421.75 486.81 L1422.50 486.87 L1423.25 487.16 L1424.00 487.68 L1424.75 488.36 L1425.50 489.16 L1426.25 490.02 L1427.00 490.88 L1427.75 491.70 L1428.50 492.44 L1429.25 493.07 L1430.00 493.59 L1430.75 494.01 L1431.50 494.30 L1432.25 494.49 L1433.00 494.61 L1433.75 494.68 L1434.50 494.70 L1435.25 494.70 L1436.00 494.68 L1436.75 494.64 L1437.50 494.59 L1438.25 494.52 L1439.00 494.44 L1439.75 494.33 L1440.50 494.16 L1441.25 493.90 L1442.00 493.48 L1442.75 492.82 L1443.50 491.80 L1444.25 490.26 L1445.00 488.04 L1445.75 484.96 L1446.50 480.89 L1447.25 475.75 L1448.00 469.59 L1448.75 462.62 L1449.50 455.21 L1450.25 447.87 L1451.00 441.25 L1451.75 435.98 L1452.50 432.60 L1453.25 431.50 L1454.00 432.79 L1454.75 436.32 L1455.50 441.68 L1456.25 448.30 L1457.00 455.55 L1457.75 462.79 L1458.50 469.51 L1459.25 475.35 L1460.00 480.11 L1460.75 483.69 L1461.50 486.13 L1462.25 487.44 L1463.00 487.65 L1463.75 486.79 L1464.50 484.69 L1465.25 481.19 L1466.00 476.10 L1466.75 469.30 L1467.50 460.76 L1468.25 450.66 L1469.00 439.42 L1469.75 427.73 L1470.50 416.49 L1471.25 406.71 L1472.00 399.37 L1472.75 395.29 L1473.50 394.90 L1474.25 398.27 L1475.00 405.01 L1475.75 414.36 L1476.50 425.37 L1477.25 437.01 L1478.00 448.33 L1478.75 458.57 L1479.50 467.24 L1480.25 474.07 L1481.00 479.02 L1481.75 482.16 L1482.50 483.67 L1483.25 483.72 L1484.00 482.49 L1484.75 480.16 L1485.50 476.94 L1486.25 473.07 L1487.00 468.85 L1487.75 464.61 L1488.50 460.74 L1489.25 457.61 L1490.00 455.56 L1490.75 454.80 L1491.50 455.43 L1492.25 457.37 L1493.00 460.42 L1493.75 464.29 L1494.50 468.61 L1495.25 473.03 L1496.00 477.24 L1496.75 481.01 L1497.50 484.21 L1498.25 486.80 L1499.00 488.79 L1499.75 490.26 L1500.50 491.29 L1501.25 492.00 L1502.00 492.46 L1502.75 492.75 L1503.50 492.93 L1504.25 493.05 L1505.00 493.12 L1505.75 493.17 L1506.50 493.20 L1507.25 493.23 L1508.00 493.25 L1508.75 493.28 L1509.50 493.30 L1510.25 493.32 L1511.00 493.34 L1511.75 493.36 L1512.50 493.38 L1513.25 493.40 L1514.00 493.42 L1514.75 493.43 L1515.50 493.44 L1516.25 493.45 L1517.00 493.44 L1517.75 493.42 L1518.50 493.38 L1519.25 493.32 L1520.00 493.23 L1520.75 493.00 L1521.50 492.74 L1522.25 492.43 L1523.00 492.09 L1523.75 491.70 L1524.50 491.29 L1525.25 490.86 L1526.00 490.43 L1526.75 490.02 L1527.50 489.66 L1528.25 489.35 L1529.00 489.13 L1529.75 489.01 L1530.50 488.97 L1531.25 489.03 L1532.00 489.17 L1532.75 489.38 L1533.50 489.63 L1534.25 489.91 L1535.00 490.19 L1535.75 490.46 L1536.50 490.70 L1537.25 490.90 L1538.00 491.06 L1538.75 491.18 L1539.50 491.26 L1540.25 491.30 L1541.00 491.31 L1541.75 491.30 L1542.50 491.27 L1543.25 491.23 L1544.00 491.20 L1544.75 491.16 L1545.50 491.12 L1546.25 491.07 L1547.00 491.02 L1547.75 490.96 L1548.50 490.89 L1549.25 490.78 L1550.00 490.90 L1551.60 490.40 L1554.90 482.90 L1557.40 463.00 L1560.20 453.10 L1562.20 456.50 L1564.00 460.60 L1565.50 440.00 L1567.40 410.00 L1569.10 330.00 L1570.50 290.00 L1571.90 255.00 L1572.50 238.50 L1573.40 250.00 L1574.80 290.00 L1576.30 330.00 L1578.10 410.00 L1578.80 440.00 L1579.80 476.00 L1581.10 481.50 L1582.30 485.40 L1588.00 488.70 L1594.00 489.80 L1594.25 489.80 L1595.00 489.82 L1595.75 489.83 L1596.50 489.85 L1597.25 489.86 L1598.00 489.88 L1598.75 489.89 L1599.50 489.91 L1600.25 489.92 L1601.00 489.94 L1601.75 489.95 L1602.50 489.97 L1603.25 489.98 L1604.00 490.00 L1604.75 490.01 L1605.50 490.01 L1606.25 490.00 L1607.00 489.94 L1607.75 489.81 L1608.50 489.53 L1609.25 488.95 L1610.00 487.86 L1610.75 486.05 L1611.50 483.19 L1612.25 478.92 L1613.00 472.96 L1613.75 465.17 L1614.50 455.73 L1615.25 445.17 L1616.00 434.44 L1616.75 424.76 L1617.50 417.41 L1618.25 413.48 L1619.00 413.56 L1619.75 417.63 L1620.50 425.05 L1621.25 434.72 L1622.00 445.36 L1622.75 455.74 L1623.50 464.97 L1624.25 472.52 L1625.00 478.25 L1625.75 482.29 L1626.50 484.95 L1627.25 486.59 L1628.00 487.52 L1628.75 488.13 L1629.50 488.48 L1630.25 488.68 L1631.00 488.81 L1631.75 488.90 L1632.50 488.98 L1633.25 489.05 L1634.00 489.11 L1634.75 489.18 L1635.50 489.24 L1636.25 489.31 L1637.00 489.37 L1637.75 489.44 L1638.50 489.50 L1639.25 489.56 L1640.00 489.63 L1640.75 489.69 L1641.50 489.76 L1642.25 489.78 L1643.00 489.72 L1643.75 489.65 L1644.50 489.59 L1645.25 489.53 L1646.00 489.46 L1646.75 489.40 L1647.50 489.34 L1648.25 489.27 L1649.00 489.21 L1649.75 489.15 L1650.50 489.08 L1651.25 489.02 L1652.00 488.96 L1652.75 488.89 L1653.50 488.83 L1654.25 488.77 L1655.00 488.71 L1655.75 488.64 L1656.50 488.58 L1657.25 488.52 L1658.00 488.45 L1658.75 488.39 L1659.50 488.33 L1660.25 488.26 L1661.00 488.20 L1661.75 488.22 L1662.50 488.24 L1663.25 488.26 L1664.00 488.28 L1664.75 488.30 L1665.50 488.32 L1666.25 488.34 L1667.00 488.36 L1667.75 488.38 L1668.50 488.40 L1669.25 488.43 L1670.00 488.45 L1670.75 488.47 L1671.50 488.49 L1672.25 488.48 L1673.00 488.43 L1673.75 488.37 L1674.50 488.32 L1675.25 488.26 L1676.00 488.21 L1676.75 488.16 L1677.50 488.10 L1678.25 488.05 L1679.00 487.99 L1679.75 487.94 L1680.50 487.88 L1681.25 487.83 L1682.00 487.77 L1682.75 487.72 L1683.50 487.67 L1684.25 487.61 L1685.00 487.56 L1685.75 487.50 L1686.50 487.45 L1687.25 487.39 L1688.00 487.34 L1688.75 487.29 L1689.50 487.23 L1690.25 487.18 L1691.00 487.12 L1691.75 487.07 L1692.50 487.01 L1693.25 486.96 L1694.00 486.90 L1694.75 486.85 L1695.50 486.80 L1696.25 486.74 L1697.00 486.69 L1697.75 486.63 L1698.50 486.58 L1699.25 486.52 L1700.00 486.47 L1700.75 486.42 L1701.50 486.36 L1702.25 486.31 L1703.00 486.25 L1703.75 486.20 L1704.50 486.14 L1705.25 486.09 L1706.00 486.03 L1706.75 485.97 L1707.50 485.90 L1708.25 485.83 L1709.00 485.74 L1709.75 485.64 L1710.50 485.51 L1711.25 485.35 L1712.00 485.14 L1712.75 484.85 L1713.50 484.51 L1714.25 484.12 L1715.00 483.67 L1715.75 483.18 L1716.50 482.69 L1717.25 482.20 L1718.00 481.76 L1718.75 481.40 L1719.50 481.14 L1720.25 480.99 L1721.00 480.98 L1721.75 481.08 L1722.50 481.28 L1723.25 481.56 L1724.00 481.87 L1724.75 482.20 L1725.50 482.50 L1726.25 482.77 L1727.00 482.98 L1727.75 483.14 L1728.50 483.25 L1729.25 483.30 L1730.00 483.30 L1730.75 483.27 L1731.50 483.27 L1732.25 483.26 L1733.00 483.23 L1733.75 483.18 L1734.50 483.10 L1735.25 482.99 L1736.00 482.85 L1736.75 482.68 L1737.50 482.49 L1738.25 482.27 L1739.00 482.04 L1739.75 481.80 L1740.50 481.57 L1741.25 481.37 L1742.00 481.20 L1742.75 481.07 L1743.50 481.01 L1744.25 481.01 L1745.00 481.07 L1745.75 481.19 L1746.50 481.35 L1747.25 481.56 L1748.00 481.79 L1748.75 482.02 L1749.50 482.26 L1750.25 482.47 L1751.00 482.67 L1751.75 482.84 L1752.50 482.98 L1753.25 483.09 L1754.00 483.16 L1754.75 483.20 L1755.50 483.23 L1756.25 483.24 L1757.00 483.24 L1757.75 483.24 L1758.50 483.23 L1759.25 483.21 L1760.00 483.19 L1760.75 483.18 L1761.50 483.16 L1762.25 483.13 L1763.00 483.11 L1763.75 483.09 L1764.50 483.07 L1765.25 483.05 L1766.00 483.03 L1766.75 483.01 L1767.50 482.97 L1768.25 482.92 L1769.00 482.87 L1769.75 482.82 L1770.50 482.77 L1771.25 482.72 L1772.00 482.67 L1772.75 482.62 L1773.50 482.57 L1774.25 482.52 L1775.00 482.47 L1775.75 482.42 L1776.50 482.37 L1777.25 482.32 L1778.00 482.27 L1778.75 482.22 L1779.50 482.17 L1780.25 482.12 L1781.00 482.07 L1781.75 482.02 L1782.50 481.97 L1783.25 481.92 L1784.00 481.87 L1784.75 481.82 L1785.50 481.77 L1786.25 481.72 L1787.00 481.67 L1787.75 481.62" fill="none" stroke="#4472C4" stroke-width="2.5" stroke-linejoin="round"/>
<text x="0" y="0" transform="translate(858.62 438.85) scale(0.9670 1)" font-size="32.56" fill="#000" stroke="#000" stroke-width="0.10" stroke-linejoin="round">cYM</text>
<text x="0" y="0" transform="translate(921.82 428.44) scale(0.8120 1)" font-size="32.54" fill="#000" stroke="#000" stroke-width="0.71" stroke-linejoin="round">cYY</text>
<text x="0" y="0" transform="translate(1001.98 434.71) scale(0.7971 1)" font-size="32.44" fill="#000" stroke="#000" stroke-width="0.78" stroke-linejoin="round">cYL</text>
<text x="0" y="0" transform="translate(1211.44 430.60) scale(1.0509 1)" font-size="33.14" fill="#000">cMM</text>
<text x="0" y="0" transform="translate(1379.39 344.58) scale(0.8234 1)" font-size="32.06" fill="#000" stroke="#000" stroke-width="0.65" stroke-linejoin="round">cFY</text>
<text x="0" y="0" transform="translate(1425.31 371.71) scale(0.9414 1)" font-size="32.15" fill="#000" stroke="#000" stroke-width="0.18" stroke-linejoin="round">cLM</text>
<text x="0" y="0" transform="translate(1480.75 328.35) scale(0.9120 1)" font-size="33.58" fill="#000" stroke="#000" stroke-width="0.30" stroke-linejoin="round">cFM</text>
<text x="0" y="0" transform="translate(1487.17 419.54) scale(0.8532 1)" font-size="32.95" fill="#FF0000" stroke="#FF0000" stroke-width="0.53" stroke-linejoin="round">cFV</text>
<text x="0" y="0" transform="translate(1543.27 406.36) scale(0.7742 1)" font-size="32.00" fill="#000" stroke="#000" stroke-width="0.88" stroke-linejoin="round">cLL</text>
<text x="0" y="0" transform="translate(1560.22 154.07) scale(0.7837 1)" font-size="33.05" fill="#000" stroke="#000" stroke-width="0.86" stroke-linejoin="round">cFL</text>
<text x="0" y="0" transform="translate(1630.59 347.10) scale(0.7940 1)" font-size="32.70" fill="#000" stroke="#000" stroke-width="0.80" stroke-linejoin="round">cFF</text>
<line x1="899.50" y1="449.20" x2="899.50" y2="460.40" stroke="#000" stroke-width="1.0"/><polygon points="899.50,469.90 894.90,460.40 904.10,460.40" fill="#000"/>
<line x1="926.30" y1="431.60" x2="909.96" y2="476.38" stroke="#000" stroke-width="1.0"/><polygon points="906.70,485.30 905.64,474.80 914.28,477.95" fill="#000"/>
<line x1="1014.60" y1="444.20" x2="1014.60" y2="455.10" stroke="#000" stroke-width="1.0"/><polygon points="1014.60,464.60 1010.00,455.10 1019.20,455.10" fill="#000"/>
<line x1="1234.10" y1="431.00" x2="1234.10" y2="441.80" stroke="#000" stroke-width="1.0"/><polygon points="1234.10,451.30 1229.50,441.80 1238.70,441.80" fill="#000"/>
<line x1="1399.60" y1="348.20" x2="1399.60" y2="359.60" stroke="#000" stroke-width="1.0"/><polygon points="1399.60,369.10 1395.00,359.60 1404.20,359.60" fill="#000"/>
<line x1="1452.30" y1="376.90" x2="1452.30" y2="388.40" stroke="#000" stroke-width="1.0"/><polygon points="1452.30,397.90 1447.70,388.40 1456.90,388.40" fill="#000"/>
<line x1="1493.80" y1="333.30" x2="1478.09" y2="377.35" stroke="#000" stroke-width="1.0"/><polygon points="1474.90,386.30 1473.76,375.81 1482.42,378.90" fill="#000"/>
<line x1="1491.30" y1="428.00" x2="1491.30" y2="439.10" stroke="#000" stroke-width="1.0"/><polygon points="1491.30,448.60 1486.70,439.10 1495.90,439.10" fill="#000"/>
<line x1="1558.50" y1="417.20" x2="1558.50" y2="428.20" stroke="#000" stroke-width="1.0"/><polygon points="1558.50,437.70 1553.90,428.20 1563.10,428.20" fill="#000"/>
<line x1="1573.70" y1="156.30" x2="1573.70" y2="167.20" stroke="#000" stroke-width="1.0"/><polygon points="1573.70,176.70 1569.10,167.20 1578.30,167.20" fill="#000"/>
<line x1="1638.70" y1="354.20" x2="1622.88" y2="398.75" stroke="#000" stroke-width="1.0"/><polygon points="1619.70,407.70 1618.54,397.21 1627.21,400.29" fill="#000"/>
</svg></body></html>
